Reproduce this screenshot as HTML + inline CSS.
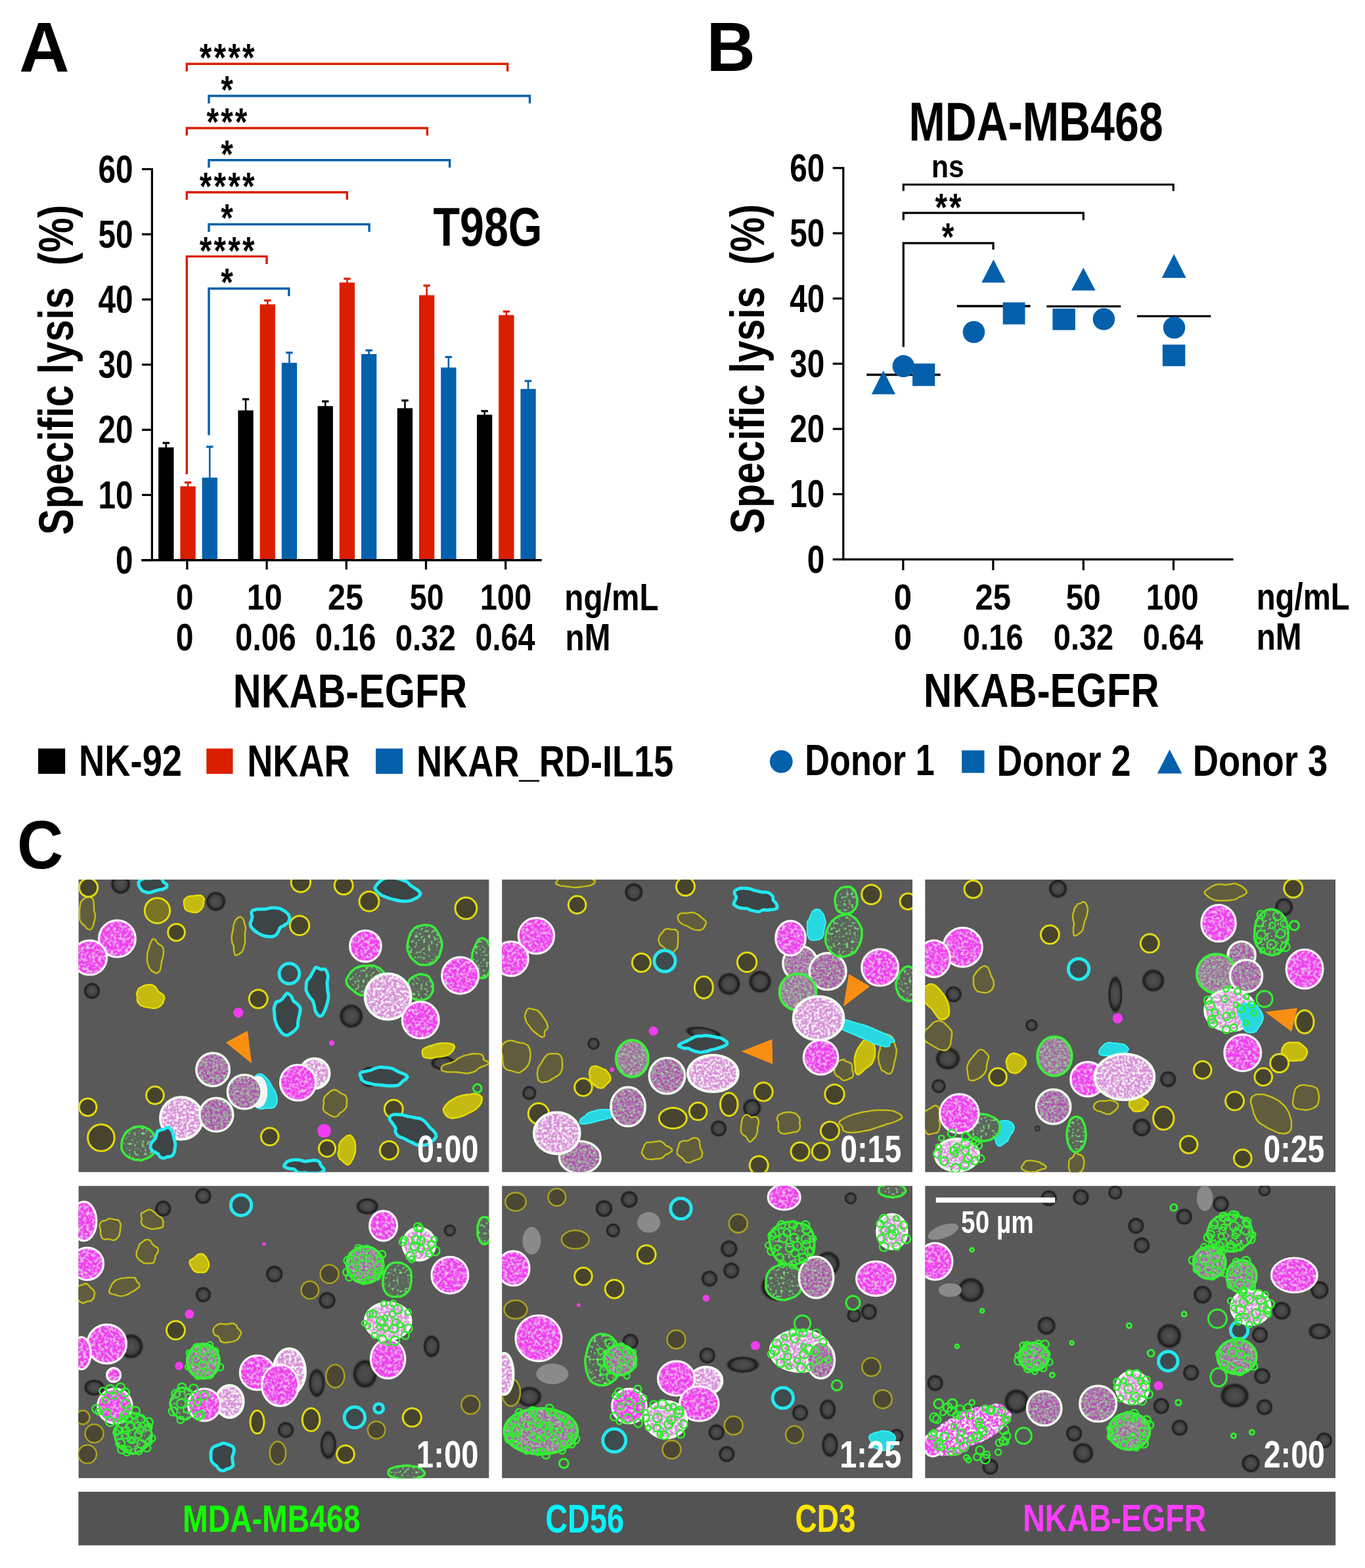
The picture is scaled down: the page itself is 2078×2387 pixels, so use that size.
<!DOCTYPE html>
<html><head><meta charset="utf-8"><title>Figure</title>
<style>
html,body{margin:0;padding:0;background:#fff;}
svg{display:block;}
text{font-family:"Liberation Sans",Arial,sans-serif;font-weight:bold;font-kerning:none;}
</style></head><body>
<svg width="2078" height="2387" viewBox="0 0 2078 2387">
<rect width="2078" height="2387" fill="#fff"/>
<defs>
<radialGradient id="gM"><stop offset="0" stop-color="#B85AB8"/><stop offset="0.55" stop-color="#D54BD5"/><stop offset="1" stop-color="#F05AF0"/></radialGradient>
<radialGradient id="gX"><stop offset="0" stop-color="#7E6C7E"/><stop offset="0.6" stop-color="#9A6E98"/><stop offset="1" stop-color="#C070C0"/></radialGradient>
<radialGradient id="gG"><stop offset="0" stop-color="#5E6A5E"/><stop offset="0.7" stop-color="#5A7A5A"/><stop offset="1" stop-color="#5AA05A"/></radialGradient>
<radialGradient id="gY"><stop offset="0" stop-color="#3E3C24"/><stop offset="0.75" stop-color="#4A4828"/><stop offset="1" stop-color="#8A8420"/></radialGradient>
<radialGradient id="gK"><stop offset="0" stop-color="#505050"/><stop offset="0.5" stop-color="#444"/><stop offset="0.78" stop-color="#1A1A1A"/><stop offset="1" stop-color="#595959" stop-opacity="0"/></radialGradient>
<filter id="noise" x="0" y="0" width="100%" height="100%"><feTurbulence type="fractalNoise" baseFrequency="0.9" numOctaves="1" seed="3"/><feColorMatrix type="matrix" values="0 0 0 0 0.33  0 0 0 0 0.33  0 0 0 0 0.33  0 0 0 0.9 -0.35"/></filter>
<filter id="fM" x="-5%" y="-5%" width="110%" height="110%"><feTurbulence type="fractalNoise" baseFrequency="0.22" numOctaves="2" seed="7" result="n"/><feColorMatrix in="n" type="matrix" values="0 0 0 0 0.80  0 0 0 0 0.55  0 0 0 0 0.80  3.0 0 0 0 -1.35" result="sp"/><feComposite in="sp" in2="SourceGraphic" operator="atop"/></filter>
<filter id="fX" x="-5%" y="-5%" width="110%" height="110%"><feTurbulence type="fractalNoise" baseFrequency="0.25" numOctaves="2" seed="11" result="n"/><feColorMatrix in="n" type="matrix" values="0 0 0 0 0.36  0 0 0 0 0.38  0 0 0 0 0.36  3.4 0 0 0 -1.35" result="sp"/><feComposite in="sp" in2="SourceGraphic" operator="atop" result="a"/><feTurbulence type="fractalNoise" baseFrequency="0.3" numOctaves="1" seed="3" result="n2"/><feColorMatrix in="n2" type="matrix" values="0 0 0 0 0.3  0 0 0 0 0.9  0 0 0 0 0.3  0 4 0 0 -2.3" result="gsp"/><feComposite in="gsp" in2="a" operator="atop"/></filter>
<filter id="fW" x="-5%" y="-5%" width="110%" height="110%"><feTurbulence type="fractalNoise" baseFrequency="0.25" numOctaves="2" seed="5" result="n"/><feColorMatrix in="n" type="matrix" values="0 0 0 0 0.96  0 0 0 0 0.94  0 0 0 0 0.96  3.5 0 0 0 -1.5" result="sp"/><feComposite in="sp" in2="SourceGraphic" operator="atop"/></filter>
<filter id="fG" x="-5%" y="-5%" width="110%" height="110%"><feTurbulence type="fractalNoise" baseFrequency="0.25" numOctaves="1" seed="9" result="n"/><feColorMatrix in="n" type="matrix" values="0 0 0 0 0.25  0 0 0 0 0.85  0 0 0 0 0.25  0 3.5 0 0 -1.9" result="sp"/><feComposite in="sp" in2="SourceGraphic" operator="atop"/></filter>
<radialGradient id="gW"><stop offset="0" stop-color="#C8B8C8"/><stop offset="0.7" stop-color="#DCC6DC"/><stop offset="1" stop-color="#E8D8E8"/></radialGradient>
<radialGradient id="gGX"><stop offset="0" stop-color="#A070A0"/><stop offset="0.6" stop-color="#8A7C8A"/><stop offset="1" stop-color="#60A060"/></radialGradient>
</defs>
<text transform="translate(29.36,108.80) scale(0.9839,1)" font-size="107.56" fill="#000">A</text>
<text transform="translate(1075.41,107.90) scale(0.9758,1)" font-size="105.53" fill="#000">B</text>
<text transform="translate(26.11,1322.08) scale(0.9302,1)" font-size="104.66" fill="#000">C</text>
<line x1="231.40" y1="256.00" x2="231.40" y2="854.20" stroke="#000" stroke-width="3.2" stroke-linecap="butt"/>
<line x1="216.00" y1="852.70" x2="231.40" y2="852.70" stroke="#000" stroke-width="3.2" stroke-linecap="butt"/>
<line x1="216.00" y1="753.50" x2="231.40" y2="753.50" stroke="#000" stroke-width="3.2" stroke-linecap="butt"/>
<line x1="216.00" y1="654.30" x2="231.40" y2="654.30" stroke="#000" stroke-width="3.2" stroke-linecap="butt"/>
<line x1="216.00" y1="555.10" x2="231.40" y2="555.10" stroke="#000" stroke-width="3.2" stroke-linecap="butt"/>
<line x1="216.00" y1="455.90" x2="231.40" y2="455.90" stroke="#000" stroke-width="3.2" stroke-linecap="butt"/>
<line x1="216.00" y1="356.70" x2="231.40" y2="356.70" stroke="#000" stroke-width="3.2" stroke-linecap="butt"/>
<line x1="216.00" y1="257.50" x2="231.40" y2="257.50" stroke="#000" stroke-width="3.2" stroke-linecap="butt"/>
<line x1="215.50" y1="852.70" x2="824.60" y2="852.70" stroke="#000" stroke-width="3.2" stroke-linecap="butt"/>
<line x1="284.90" y1="852.70" x2="284.90" y2="867.00" stroke="#000" stroke-width="3.2" stroke-linecap="butt"/>
<line x1="406.10" y1="852.70" x2="406.10" y2="867.00" stroke="#000" stroke-width="3.2" stroke-linecap="butt"/>
<line x1="527.30" y1="852.70" x2="527.30" y2="867.00" stroke="#000" stroke-width="3.2" stroke-linecap="butt"/>
<line x1="648.50" y1="852.70" x2="648.50" y2="867.00" stroke="#000" stroke-width="3.2" stroke-linecap="butt"/>
<line x1="769.70" y1="852.70" x2="769.70" y2="867.00" stroke="#000" stroke-width="3.2" stroke-linecap="butt"/>
<text transform="translate(176.00,872.87) scale(0.815,1)" font-size="58.6">0</text>
<text transform="translate(149.44,773.67) scale(0.815,1)" font-size="58.6">10</text>
<text transform="translate(149.44,674.47) scale(0.815,1)" font-size="58.6">20</text>
<text transform="translate(149.44,575.23) scale(0.815,1)" font-size="58.6">30</text>
<text transform="translate(149.44,476.07) scale(0.815,1)" font-size="58.6">40</text>
<text transform="translate(149.44,376.87) scale(0.815,1)" font-size="58.6">50</text>
<text transform="translate(149.44,277.67) scale(0.815,1)" font-size="58.6">60</text>
<g transform="translate(110.64,812.50) rotate(-90)"><text transform="translate(-1.71,0) scale(0.8040,1)" font-size="74.02" fill="#000" style="white-space:pre">Specific lysis  (%)</text></g>
<line x1="252.85" y1="682.10" x2="252.85" y2="674.30" stroke="#000" stroke-width="2.6" stroke-linecap="butt"/>
<line x1="247.65" y1="674.30" x2="258.05" y2="674.30" stroke="#000" stroke-width="3.2" stroke-linecap="butt"/>
<rect x="241.20" y="681.10" width="23.30" height="171.60" fill="#000"/>
<line x1="286.05" y1="741.30" x2="286.05" y2="734.50" stroke="#DC1E00" stroke-width="2.6" stroke-linecap="butt"/>
<line x1="280.85" y1="734.50" x2="291.25" y2="734.50" stroke="#DC1E00" stroke-width="3.2" stroke-linecap="butt"/>
<rect x="274.40" y="740.30" width="23.30" height="112.40" fill="#DC1E00"/>
<line x1="319.25" y1="728.10" x2="319.25" y2="680.10" stroke="#0560AC" stroke-width="2.6" stroke-linecap="butt"/>
<line x1="314.05" y1="680.10" x2="324.45" y2="680.10" stroke="#0560AC" stroke-width="3.2" stroke-linecap="butt"/>
<rect x="307.60" y="727.10" width="23.30" height="125.60" fill="#0560AC"/>
<line x1="374.05" y1="625.70" x2="374.05" y2="607.80" stroke="#000" stroke-width="2.6" stroke-linecap="butt"/>
<line x1="368.85" y1="607.80" x2="379.25" y2="607.80" stroke="#000" stroke-width="3.2" stroke-linecap="butt"/>
<rect x="362.40" y="624.70" width="23.30" height="228.00" fill="#000"/>
<line x1="407.25" y1="464.30" x2="407.25" y2="457.40" stroke="#DC1E00" stroke-width="2.6" stroke-linecap="butt"/>
<line x1="402.05" y1="457.40" x2="412.45" y2="457.40" stroke="#DC1E00" stroke-width="3.2" stroke-linecap="butt"/>
<rect x="395.60" y="463.30" width="23.30" height="389.40" fill="#DC1E00"/>
<line x1="440.45" y1="553.30" x2="440.45" y2="536.90" stroke="#0560AC" stroke-width="2.6" stroke-linecap="butt"/>
<line x1="435.25" y1="536.90" x2="445.65" y2="536.90" stroke="#0560AC" stroke-width="3.2" stroke-linecap="butt"/>
<rect x="428.80" y="552.30" width="23.30" height="300.40" fill="#0560AC"/>
<line x1="495.25" y1="619.20" x2="495.25" y2="611.00" stroke="#000" stroke-width="2.6" stroke-linecap="butt"/>
<line x1="490.05" y1="611.00" x2="500.45" y2="611.00" stroke="#000" stroke-width="3.2" stroke-linecap="butt"/>
<rect x="483.60" y="618.20" width="23.30" height="234.50" fill="#000"/>
<line x1="528.45" y1="431.10" x2="528.45" y2="424.30" stroke="#DC1E00" stroke-width="2.6" stroke-linecap="butt"/>
<line x1="523.25" y1="424.30" x2="533.65" y2="424.30" stroke="#DC1E00" stroke-width="3.2" stroke-linecap="butt"/>
<rect x="516.80" y="430.10" width="23.30" height="422.60" fill="#DC1E00"/>
<line x1="561.65" y1="540.00" x2="561.65" y2="533.40" stroke="#0560AC" stroke-width="2.6" stroke-linecap="butt"/>
<line x1="556.45" y1="533.40" x2="566.85" y2="533.40" stroke="#0560AC" stroke-width="3.2" stroke-linecap="butt"/>
<rect x="550.00" y="539.00" width="23.30" height="313.70" fill="#0560AC"/>
<line x1="616.45" y1="622.40" x2="616.45" y2="609.70" stroke="#000" stroke-width="2.6" stroke-linecap="butt"/>
<line x1="611.25" y1="609.70" x2="621.65" y2="609.70" stroke="#000" stroke-width="3.2" stroke-linecap="butt"/>
<rect x="604.80" y="621.40" width="23.30" height="231.30" fill="#000"/>
<line x1="649.65" y1="450.40" x2="649.65" y2="434.80" stroke="#DC1E00" stroke-width="2.6" stroke-linecap="butt"/>
<line x1="644.45" y1="434.80" x2="654.85" y2="434.80" stroke="#DC1E00" stroke-width="3.2" stroke-linecap="butt"/>
<rect x="638.00" y="449.40" width="23.30" height="403.30" fill="#DC1E00"/>
<line x1="682.85" y1="560.50" x2="682.85" y2="543.50" stroke="#0560AC" stroke-width="2.6" stroke-linecap="butt"/>
<line x1="677.65" y1="543.50" x2="688.05" y2="543.50" stroke="#0560AC" stroke-width="3.2" stroke-linecap="butt"/>
<rect x="671.20" y="559.50" width="23.30" height="293.20" fill="#0560AC"/>
<line x1="737.65" y1="632.40" x2="737.65" y2="625.80" stroke="#000" stroke-width="2.6" stroke-linecap="butt"/>
<line x1="732.45" y1="625.80" x2="742.85" y2="625.80" stroke="#000" stroke-width="3.2" stroke-linecap="butt"/>
<rect x="726.00" y="631.40" width="23.30" height="221.30" fill="#000"/>
<line x1="770.85" y1="480.60" x2="770.85" y2="474.20" stroke="#DC1E00" stroke-width="2.6" stroke-linecap="butt"/>
<line x1="765.65" y1="474.20" x2="776.05" y2="474.20" stroke="#DC1E00" stroke-width="3.2" stroke-linecap="butt"/>
<rect x="759.20" y="479.60" width="23.30" height="373.10" fill="#DC1E00"/>
<line x1="804.05" y1="593.10" x2="804.05" y2="580.00" stroke="#0560AC" stroke-width="2.6" stroke-linecap="butt"/>
<line x1="798.85" y1="580.00" x2="809.25" y2="580.00" stroke="#0560AC" stroke-width="3.2" stroke-linecap="butt"/>
<rect x="792.40" y="592.10" width="23.30" height="260.60" fill="#0560AC"/>
<line x1="215.50" y1="852.70" x2="824.60" y2="852.70" stroke="#000" stroke-width="3.2" stroke-linecap="butt"/>
<polyline points="284.30,108.70 284.30,97.20 772.70,97.20 772.70,108.70" fill="none" stroke="#DC1E00" stroke-width="3.4" stroke-linejoin="miter"/>
<polyline points="318.00,157.57 318.00,146.07 806.50,146.07 806.50,157.57" fill="none" stroke="#0560AC" stroke-width="3.4" stroke-linejoin="miter"/>
<polyline points="284.30,206.44 284.30,194.94 650.40,194.94 650.40,206.44" fill="none" stroke="#DC1E00" stroke-width="3.4" stroke-linejoin="miter"/>
<polyline points="318.00,255.31 318.00,243.81 684.60,243.81 684.60,255.31" fill="none" stroke="#0560AC" stroke-width="3.4" stroke-linejoin="miter"/>
<polyline points="284.30,304.18 284.30,292.68 528.30,292.68 528.30,304.18" fill="none" stroke="#DC1E00" stroke-width="3.4" stroke-linejoin="miter"/>
<polyline points="318.00,353.05 318.00,341.55 562.10,341.55 562.10,353.05" fill="none" stroke="#0560AC" stroke-width="3.4" stroke-linejoin="miter"/>
<polyline points="284.30,721.90 284.30,390.42 406.00,390.42 406.00,401.92" fill="none" stroke="#DC1E00" stroke-width="3.4" stroke-linejoin="miter"/>
<polyline points="318.00,662.60 318.00,439.29 439.80,439.29 439.80,450.79" fill="none" stroke="#0560AC" stroke-width="3.4" stroke-linejoin="miter"/>
<text transform="translate(303.86,108.43) scale(0.7969,1)" font-size="59.93" fill="#000">*</text>
<text transform="translate(325.56,108.43) scale(0.7969,1)" font-size="59.93" fill="#000">*</text>
<text transform="translate(347.26,108.43) scale(0.7969,1)" font-size="59.93" fill="#000">*</text>
<text transform="translate(368.96,108.43) scale(0.7969,1)" font-size="59.93" fill="#000">*</text>
<text transform="translate(336.26,157.00) scale(0.7969,1)" font-size="59.93" fill="#000">*</text>
<text transform="translate(314.46,206.17) scale(0.7969,1)" font-size="59.93" fill="#000">*</text>
<text transform="translate(336.16,206.17) scale(0.7969,1)" font-size="59.93" fill="#000">*</text>
<text transform="translate(357.86,206.17) scale(0.7969,1)" font-size="59.93" fill="#000">*</text>
<text transform="translate(336.26,254.74) scale(0.7969,1)" font-size="59.93" fill="#000">*</text>
<text transform="translate(303.86,303.91) scale(0.7969,1)" font-size="59.93" fill="#000">*</text>
<text transform="translate(325.56,303.91) scale(0.7969,1)" font-size="59.93" fill="#000">*</text>
<text transform="translate(347.26,303.91) scale(0.7969,1)" font-size="59.93" fill="#000">*</text>
<text transform="translate(368.96,303.91) scale(0.7969,1)" font-size="59.93" fill="#000">*</text>
<text transform="translate(336.26,352.48) scale(0.7969,1)" font-size="59.93" fill="#000">*</text>
<text transform="translate(303.86,401.65) scale(0.7969,1)" font-size="59.93" fill="#000">*</text>
<text transform="translate(325.56,401.65) scale(0.7969,1)" font-size="59.93" fill="#000">*</text>
<text transform="translate(347.26,401.65) scale(0.7969,1)" font-size="59.93" fill="#000">*</text>
<text transform="translate(368.96,401.65) scale(0.7969,1)" font-size="59.93" fill="#000">*</text>
<text transform="translate(336.26,450.22) scale(0.7969,1)" font-size="59.93" fill="#000">*</text>
<text transform="translate(659.45,373.59) scale(0.8031,1)" font-size="82.63" fill="#000">T98G</text>
<text transform="translate(267.80,928.45) scale(0.8566,1)" font-size="56.21" fill="#000">0</text>
<text transform="translate(375.85,928.45) scale(0.8610,1)" font-size="56.21" fill="#000">10</text>
<text transform="translate(499.12,928.45) scale(0.8625,1)" font-size="56.21" fill="#000">25</text>
<text transform="translate(623.87,928.45) scale(0.8292,1)" font-size="56.21" fill="#000">50</text>
<text transform="translate(730.63,928.45) scale(0.8392,1)" font-size="56.21" fill="#000">100</text>
<text transform="translate(267.80,989.65) scale(0.8523,1)" font-size="56.50" fill="#000">0</text>
<text transform="translate(357.92,989.65) scale(0.8431,1)" font-size="56.50" fill="#000">0.06</text>
<text transform="translate(479.82,989.65) scale(0.8431,1)" font-size="56.50" fill="#000">0.16</text>
<text transform="translate(601.63,989.57) scale(0.8400,1)" font-size="56.38" fill="#000">0.32</text>
<text transform="translate(723.55,989.65) scale(0.8285,1)" font-size="56.50" fill="#000">0.64</text>
<text transform="translate(859.35,929.00) scale(0.8383,1)" font-size="57.00" fill="#000">ng/mL</text>
<text transform="translate(860.56,989.80) scale(0.8303,1)" font-size="57.41" fill="#000">nM</text>
<text transform="translate(354.72,1076.79) scale(0.8155,1)" font-size="72.88" fill="#000">NKAB-EGFR</text>
<rect x="58.10" y="1139.50" width="41.10" height="38.50" fill="#000"/>
<rect x="314.30" y="1139.50" width="40.20" height="38.50" fill="#DC1E00"/>
<rect x="572.10" y="1139.50" width="41.00" height="38.50" fill="#0560AC"/>
<text transform="translate(120.07,1181.26) scale(0.8255,1)" font-size="65.82" fill="#000">NK-92</text>
<text transform="translate(376.18,1181.90) scale(0.8000,1)" font-size="67.73" fill="#000">NKAR</text>
<text transform="translate(634.07,1181.90) scale(0.8090,1)" font-size="67.00" fill="#000">NKAR_RD-IL15</text>
<line x1="1283.80" y1="254.30" x2="1283.80" y2="853.10" stroke="#000" stroke-width="3.2" stroke-linecap="butt"/>
<line x1="1267.70" y1="851.60" x2="1283.80" y2="851.60" stroke="#000" stroke-width="3.2" stroke-linecap="butt"/>
<line x1="1267.70" y1="752.30" x2="1283.80" y2="752.30" stroke="#000" stroke-width="3.2" stroke-linecap="butt"/>
<line x1="1267.70" y1="653.00" x2="1283.80" y2="653.00" stroke="#000" stroke-width="3.2" stroke-linecap="butt"/>
<line x1="1267.70" y1="553.70" x2="1283.80" y2="553.70" stroke="#000" stroke-width="3.2" stroke-linecap="butt"/>
<line x1="1267.70" y1="454.40" x2="1283.80" y2="454.40" stroke="#000" stroke-width="3.2" stroke-linecap="butt"/>
<line x1="1267.70" y1="355.10" x2="1283.80" y2="355.10" stroke="#000" stroke-width="3.2" stroke-linecap="butt"/>
<line x1="1267.70" y1="255.80" x2="1283.80" y2="255.80" stroke="#000" stroke-width="3.2" stroke-linecap="butt"/>
<line x1="1282.30" y1="851.60" x2="1877.60" y2="851.60" stroke="#000" stroke-width="3.2" stroke-linecap="butt"/>
<line x1="1374.90" y1="851.60" x2="1374.90" y2="868.10" stroke="#000" stroke-width="3.2" stroke-linecap="butt"/>
<line x1="1511.90" y1="851.60" x2="1511.90" y2="868.10" stroke="#000" stroke-width="3.2" stroke-linecap="butt"/>
<line x1="1649.30" y1="851.60" x2="1649.30" y2="868.10" stroke="#000" stroke-width="3.2" stroke-linecap="butt"/>
<line x1="1786.50" y1="851.60" x2="1786.50" y2="868.10" stroke="#000" stroke-width="3.2" stroke-linecap="butt"/>
<text transform="translate(1228.70,871.77) scale(0.815,1)" font-size="58.6">0</text>
<text transform="translate(1202.14,772.47) scale(0.815,1)" font-size="58.6">10</text>
<text transform="translate(1202.14,673.17) scale(0.815,1)" font-size="58.6">20</text>
<text transform="translate(1202.14,573.83) scale(0.815,1)" font-size="58.6">30</text>
<text transform="translate(1202.14,474.57) scale(0.815,1)" font-size="58.6">40</text>
<text transform="translate(1202.14,375.27) scale(0.815,1)" font-size="58.6">50</text>
<text transform="translate(1202.14,275.97) scale(0.815,1)" font-size="58.6">60</text>
<g transform="translate(1162.62,811.00) rotate(-90)"><text transform="translate(-1.71,0) scale(0.8121,1)" font-size="73.17" fill="#000" style="white-space:pre">Specific lysis  (%)</text></g>
<text transform="translate(1383.46,214.49) scale(0.8023,1)" font-size="82.77" fill="#000">MDA-MB468</text>
<polyline points="1375.30,290.70 1375.30,281.00 1786.30,281.00 1786.30,290.70" fill="none" stroke="#000" stroke-width="3.2" stroke-linejoin="miter"/>
<polyline points="1375.30,335.30 1375.30,324.20 1649.30,324.20 1649.30,335.30" fill="none" stroke="#000" stroke-width="3.2" stroke-linejoin="miter"/>
<polyline points="1375.30,528.30 1375.30,370.20 1512.10,370.20 1512.10,380.00" fill="none" stroke="#000" stroke-width="3.2" stroke-linejoin="miter"/>
<text transform="translate(1417.99,269.70) scale(0.8702,1)" font-size="49.00" fill="#000">ns</text>
<text transform="translate(1423.46,336.13) scale(0.7969,1)" font-size="59.93" fill="#000">*</text>
<text transform="translate(1445.06,336.13) scale(0.7969,1)" font-size="59.93" fill="#000">*</text>
<text transform="translate(1433.76,380.73) scale(0.7969,1)" font-size="59.93" fill="#000">*</text>
<line x1="1319.20" y1="570.50" x2="1431.70" y2="570.50" stroke="#000" stroke-width="3.4" stroke-linecap="butt"/>
<line x1="1456.80" y1="466.00" x2="1568.60" y2="466.00" stroke="#000" stroke-width="3.4" stroke-linecap="butt"/>
<line x1="1593.40" y1="466.40" x2="1706.20" y2="466.40" stroke="#000" stroke-width="3.4" stroke-linecap="butt"/>
<line x1="1731.00" y1="481.40" x2="1843.40" y2="481.40" stroke="#000" stroke-width="3.4" stroke-linecap="butt"/>
<polygon points="1344.90,564.10 1326.80,600.30 1363.00,600.30" fill="#0560AC"/>
<circle cx="1375.40" cy="557.40" r="16.80" fill="#0560AC"/>
<rect x="1389.10" y="553.40" width="34.20" height="34.20" fill="#0560AC"/>
<polygon points="1512.40,395.10 1494.30,430.20 1530.50,430.20" fill="#0560AC"/>
<circle cx="1482.50" cy="505.50" r="16.80" fill="#0560AC"/>
<rect x="1526.70" y="460.30" width="33.80" height="33.50" fill="#0560AC"/>
<polygon points="1649.30,407.50 1631.00,442.30 1667.60,442.30" fill="#0560AC"/>
<rect x="1602.40" y="469.70" width="34.50" height="32.80" fill="#0560AC"/>
<circle cx="1680.40" cy="485.80" r="16.80" fill="#0560AC"/>
<polygon points="1787.20,386.70 1768.80,422.90 1805.60,422.90" fill="#0560AC"/>
<circle cx="1787.50" cy="498.80" r="16.80" fill="#0560AC"/>
<rect x="1769.80" y="524.60" width="34.50" height="32.80" fill="#0560AC"/>
<text transform="translate(1360.75,928.06) scale(0.8978,1)" font-size="54.80" fill="#000">0</text>
<text transform="translate(1484.50,928.06) scale(0.8952,1)" font-size="54.80" fill="#000">25</text>
<text transform="translate(1622.74,928.06) scale(0.8663,1)" font-size="54.80" fill="#000">50</text>
<text transform="translate(1744.68,928.06) scale(0.8748,1)" font-size="54.80" fill="#000">100</text>
<text transform="translate(1360.75,989.06) scale(0.8864,1)" font-size="55.51" fill="#000">0</text>
<text transform="translate(1465.83,989.06) scale(0.8523,1)" font-size="55.51" fill="#000">0.16</text>
<text transform="translate(1603.74,988.98) scale(0.8491,1)" font-size="55.39" fill="#000">0.32</text>
<text transform="translate(1739.73,989.06) scale(0.8499,1)" font-size="55.51" fill="#000">0.64</text>
<text transform="translate(1912.68,928.40) scale(0.8310,1)" font-size="57.00" fill="#000">ng/mL</text>
<text transform="translate(1912.65,989.40) scale(0.8402,1)" font-size="56.83" fill="#000">nM</text>
<text transform="translate(1406.00,1076.10) scale(0.8282,1)" font-size="72.17" fill="#000">NKAB-EGFR</text>
<circle cx="1189.30" cy="1159.40" r="17.40" fill="#0560AC"/>
<rect x="1464.20" y="1142.30" width="34.30" height="34.30" fill="#0560AC"/>
<polygon points="1780.60,1141.00 1761.85,1177.40 1799.35,1177.40" fill="#0560AC"/>
<text transform="translate(1225.20,1180.15) scale(0.7881,1)" font-size="66.36" fill="#000">Donor 1</text>
<text transform="translate(1517.38,1180.65) scale(0.8176,1)" font-size="66.10" fill="#000">Donor 2</text>
<text transform="translate(1815.76,1180.56) scale(0.8251,1)" font-size="65.96" fill="#000">Donor 3</text>
<clipPath id="cp0"><rect x="119.40" y="1339.00" width="625.20" height="445.60"/></clipPath>
<g clip-path="url(#cp0)">
<rect x="119.40" y="1339.00" width="625.20" height="445.60" fill="#595959"/>
<circle cx="183.6" cy="1346.0" r="16.8" fill="url(#gK)"/>
<circle cx="328.6" cy="1372.2" r="16.8" fill="url(#gK)"/>
<circle cx="140.0" cy="1508.4" r="14.0" fill="url(#gK)"/>
<circle cx="534.7" cy="1546.9" r="20.3" fill="url(#gK)"/>
<ellipse cx="674.4" cy="1618.5" rx="21.0" ry="12.2" fill="url(#gK)"/>
<circle cx="562.7" cy="1639.4" r="17.5" fill="url(#gK)"/>
<path d="M144.4,1389.7C145,1391 145,1393 145,1395C145,1397 144,1399 144,1401C143,1403 143,1406 142,1409C141,1411 140,1414 138,1415C137,1416 135,1415 133,1414C131,1413 130,1411 129,1409C127,1408 126,1407 125,1406C124,1405 123,1404 122,1402C121,1400 121,1398 121,1396C121,1394 121,1392 121,1390C121,1388 121,1386 121,1384C122,1382 121,1380 122,1378C122,1376 123,1373 124,1372C125,1370 127,1369 128,1368C130,1367 131,1366 133,1366C135,1365 137,1365 138,1366C140,1366 141,1368 142,1370C143,1373 143,1376 143,1379C143,1381 143,1383 143,1385C143,1387 144,1388 144,1390Z" fill="#5F5D3E" stroke="#C4BC18" stroke-width="2.5" stroke-linejoin="round"/>
<path d="M372.9,1426.2C373,1429 373,1433 373,1436C372,1439 371,1444 370,1446C369,1449 367,1450 366,1451C365,1452 363,1453 362,1453C361,1454 359,1455 358,1454C357,1453 357,1450 356,1448C356,1446 356,1442 356,1441C356,1439 355,1439 354,1437C353,1435 353,1434 353,1431C352,1429 353,1426 353,1423C354,1420 354,1417 355,1414C355,1410 356,1406 357,1404C358,1401 360,1399 361,1398C362,1397 364,1396 365,1396C366,1396 368,1396 368,1397C369,1397 370,1399 371,1401C371,1402 372,1404 372,1406C373,1408 373,1409 374,1411C374,1414 374,1416 373,1419C373,1421 373,1423 373,1426Z" fill="#5F5D3E" stroke="#C4BC18" stroke-width="2.5" stroke-linejoin="round"/>
<path d="M248.1,1456.0C248,1459 247,1461 246,1463C246,1465 246,1467 245,1470C245,1472 244,1475 244,1477C243,1479 241,1480 240,1481C239,1482 237,1481 236,1481C235,1480 234,1479 232,1479C231,1478 230,1477 229,1476C228,1474 227,1473 226,1470C225,1468 225,1466 224,1464C224,1461 224,1459 224,1456C224,1454 224,1451 225,1449C225,1446 226,1445 227,1443C227,1440 228,1438 229,1436C230,1434 231,1431 232,1430C233,1429 235,1430 236,1430C237,1431 238,1434 239,1435C241,1436 241,1437 243,1438C244,1439 245,1439 247,1441C248,1442 249,1445 249,1448C249,1450 249,1454 248,1456Z" fill="#5F5D3E" stroke="#C4BC18" stroke-width="2.5" stroke-linejoin="round"/>
<path d="M250.1,1517.9C251,1520 250,1521 249,1523C249,1525 248,1527 247,1528C246,1530 244,1532 242,1533C240,1534 238,1535 235,1535C233,1535 230,1535 228,1534C226,1534 224,1534 222,1533C219,1533 217,1532 215,1531C214,1530 212,1529 211,1527C210,1526 209,1524 209,1523C209,1521 209,1519 209,1518C209,1516 208,1515 208,1513C209,1511 209,1509 210,1507C210,1506 212,1504 214,1503C216,1502 218,1501 221,1500C223,1499 226,1499 228,1499C230,1499 233,1500 235,1501C237,1502 238,1505 239,1506C240,1508 240,1509 242,1510C243,1511 245,1512 247,1513C248,1514 250,1516 250,1518Z" fill="#C4BA10" stroke="#E6DC00" stroke-width="2.5" stroke-linejoin="round"/>
<path d="M691.8,1594.8C692,1596 690,1597 690,1599C689,1600 688,1601 687,1602C685,1604 684,1605 682,1606C680,1607 678,1608 675,1608C673,1609 671,1609 668,1609C666,1609 664,1609 662,1610C660,1610 657,1611 654,1611C652,1611 649,1611 647,1610C645,1609 644,1608 644,1607C643,1606 643,1605 643,1603C643,1602 642,1601 643,1600C643,1599 644,1597 646,1596C647,1595 650,1594 652,1593C654,1592 656,1592 659,1591C661,1590 663,1590 665,1589C667,1589 670,1588 672,1588C674,1588 676,1588 679,1588C681,1588 684,1588 686,1589C688,1589 690,1590 691,1591C692,1592 692,1594 692,1595Z" fill="#C4BA10" stroke="#E6DC00" stroke-width="2.5" stroke-linejoin="round"/>
<path d="M741.9,1615.6C743,1617 745,1618 744,1619C743,1621 738,1622 736,1623C733,1624 731,1625 729,1626C726,1628 726,1630 723,1631C720,1632 715,1634 711,1634C708,1634 704,1633 701,1633C697,1632 695,1632 692,1632C688,1632 684,1632 681,1632C678,1631 675,1631 673,1630C672,1628 671,1627 672,1626C672,1624 674,1622 676,1621C679,1620 683,1619 686,1618C689,1617 690,1616 693,1615C695,1614 695,1612 698,1611C700,1610 704,1608 707,1607C711,1606 716,1605 720,1604C725,1604 730,1604 732,1605C735,1606 735,1608 736,1609C737,1611 735,1612 736,1613C737,1614 740,1615 742,1616Z" fill="#5F5D3E" stroke="#C4BC18" stroke-width="2.5" stroke-linejoin="round"/>
<path d="M733.9,1672.3C734,1674 733,1676 733,1678C732,1680 731,1682 729,1684C728,1685 726,1687 724,1689C722,1690 719,1692 717,1693C714,1694 712,1695 709,1697C706,1698 704,1699 701,1700C698,1701 694,1702 691,1702C688,1703 685,1702 683,1701C681,1700 680,1699 679,1698C677,1696 677,1695 676,1693C675,1692 675,1690 675,1688C676,1686 677,1684 678,1683C680,1681 682,1679 684,1677C686,1676 688,1674 691,1673C693,1671 696,1670 699,1669C702,1668 705,1667 707,1667C710,1666 713,1666 716,1666C719,1665 722,1665 724,1665C727,1666 730,1666 731,1668C733,1669 734,1671 734,1672Z" fill="#C4BA10" stroke="#E6DC00" stroke-width="2.5" stroke-linejoin="round"/>
<path d="M526.8,1685.9C526,1688 524,1689 523,1691C521,1692 520,1693 518,1694C516,1696 515,1698 514,1699C512,1700 510,1701 508,1700C506,1700 505,1699 503,1698C501,1697 500,1696 498,1695C497,1694 495,1694 494,1692C492,1691 492,1688 492,1686C492,1684 492,1682 493,1680C493,1678 492,1676 493,1674C493,1672 494,1669 496,1668C497,1666 499,1665 500,1664C502,1662 504,1661 505,1660C507,1659 509,1659 511,1659C513,1660 514,1661 516,1662C517,1663 519,1664 520,1665C522,1666 524,1666 525,1667C527,1669 528,1671 528,1673C528,1675 528,1677 528,1679C528,1682 528,1684 527,1686Z" fill="#5F5D3E" stroke="#C4BC18" stroke-width="2.5" stroke-linejoin="round"/>
<path d="M540.9,1750.5C541,1753 541,1755 540,1757C540,1758 539,1760 538,1762C538,1764 537,1765 536,1766C535,1768 534,1770 533,1771C531,1773 530,1774 528,1773C527,1773 526,1771 524,1770C523,1769 522,1768 521,1767C520,1766 518,1765 517,1764C516,1762 515,1760 515,1758C514,1755 515,1753 516,1751C516,1748 516,1746 516,1744C517,1742 517,1740 518,1739C519,1737 520,1736 521,1735C522,1734 523,1733 525,1732C526,1731 527,1730 528,1729C530,1729 532,1728 533,1728C534,1729 536,1730 537,1732C538,1733 539,1735 540,1737C540,1739 541,1742 541,1744C541,1746 541,1748 541,1751Z" fill="#C4BA10" stroke="#E6DC00" stroke-width="2.5" stroke-linejoin="round"/>
<circle cx="134.7" cy="1351.2" r="14.0" fill="#46442C" stroke="#E2DA10" stroke-width="3"/>
<circle cx="239.5" cy="1386.2" r="19.2" fill="#7A7424" stroke="#E2DA10" stroke-width="3"/>
<circle cx="268.5" cy="1419.3" r="12.9" fill="#46442C" stroke="#E2DA10" stroke-width="3"/>
<path d="M309.8,1375.7C310,1377 310,1378 309,1380C309,1381 308,1382 307,1383C307,1384 306,1385 304,1386C303,1387 302,1388 300,1389C299,1389 297,1389 295,1389C294,1389 292,1389 291,1388C289,1388 287,1387 286,1387C285,1386 283,1385 282,1384C281,1383 281,1381 281,1380C280,1378 280,1377 280,1376C280,1374 280,1373 280,1371C280,1370 281,1369 282,1368C283,1367 285,1366 286,1365C288,1365 289,1364 291,1364C292,1364 294,1364 295,1364C297,1364 298,1363 300,1363C302,1363 304,1363 306,1363C308,1364 309,1365 310,1367C311,1368 311,1370 310,1372C310,1373 310,1374 310,1376Z" fill="#C4BA10" stroke="#E6DC00" stroke-width="2.5" stroke-linejoin="round"/>
<circle cx="456.1" cy="1408.9" r="14.7" fill="#46442C" stroke="#E2DA10" stroke-width="3"/>
<circle cx="562.0" cy="1372.2" r="15.0" fill="#46442C" stroke="#E2DA10" stroke-width="3"/>
<circle cx="523.2" cy="1347.7" r="14.0" fill="#46442C" stroke="#E2DA10" stroke-width="3"/>
<circle cx="457.9" cy="1343.2" r="14.7" fill="#46442C" stroke="#E2DA10" stroke-width="3"/>
<circle cx="709.4" cy="1382.7" r="16.4" fill="#46442C" stroke="#E2DA10" stroke-width="3"/>
<circle cx="393.2" cy="1520.7" r="14.0" fill="#46442C" stroke="#E2DA10" stroke-width="3"/>
<circle cx="236.0" cy="1667.4" r="13.3" fill="#46442C" stroke="#E2DA10" stroke-width="3"/>
<circle cx="133.7" cy="1685.5" r="13.3" fill="#46442C" stroke="#E2DA10" stroke-width="3"/>
<circle cx="153.9" cy="1732.0" r="20.3" fill="#46442C" stroke="#E2DA10" stroke-width="3"/>
<circle cx="410.7" cy="1730.3" r="13.3" fill="#46442C" stroke="#E2DA10" stroke-width="3"/>
<circle cx="498.0" cy="1748.4" r="12.6" fill="#46442C" stroke="#E2DA10" stroke-width="3"/>
<circle cx="592.3" cy="1751.2" r="14.0" fill="#46442C" stroke="#E2DA10" stroke-width="3"/>
<circle cx="599.3" cy="1688.3" r="14.0" fill="#46442C" stroke="#E2DA10" stroke-width="3"/>
<path d="M253.7,1346.7C254,1348 255,1350 253,1351C252,1352 249,1353 247,1354C245,1354 242,1354 241,1355C239,1355 238,1356 236,1356C235,1357 233,1357 231,1358C230,1358 228,1359 225,1359C223,1358 221,1358 219,1357C217,1357 216,1355 215,1354C214,1353 214,1352 213,1351C212,1349 211,1348 211,1347C211,1345 211,1344 211,1343C212,1341 213,1340 215,1339C217,1338 219,1338 221,1337C223,1337 225,1337 227,1337C228,1337 230,1337 231,1337C233,1336 235,1335 237,1335C240,1335 242,1335 244,1336C246,1336 246,1338 247,1339C248,1341 248,1342 249,1343C250,1344 253,1345 254,1347Z" fill="#3C4446" stroke="#22E8F0" stroke-width="5" stroke-linejoin="round"/>
<path d="M433.2,1408.4C431,1410 429,1410 428,1411C426,1412 426,1413 425,1415C424,1417 424,1419 422,1421C421,1423 418,1425 414,1426C411,1426 407,1426 403,1425C399,1424 395,1422 392,1420C389,1418 386,1416 384,1413C382,1411 381,1408 381,1406C381,1404 383,1402 383,1400C384,1398 384,1397 384,1395C384,1393 382,1391 383,1389C383,1387 385,1385 388,1385C390,1384 394,1384 397,1384C400,1384 402,1384 405,1384C408,1383 411,1382 414,1382C418,1382 423,1382 426,1383C430,1385 434,1387 436,1389C439,1391 440,1394 441,1397C441,1399 440,1402 439,1404C438,1406 435,1407 433,1408Z" fill="#3C4446" stroke="#22E8F0" stroke-width="5" stroke-linejoin="round"/>
<circle cx="440.4" cy="1482.2" r="15.4" fill="#3E4A4C" stroke="#26E6EE" stroke-width="5"/>
<path d="M455.8,1545.1C455,1548 454,1551 454,1554C453,1557 454,1560 453,1563C452,1565 450,1568 448,1569C447,1571 445,1571 443,1573C441,1574 439,1576 437,1576C435,1576 433,1576 431,1574C429,1573 427,1570 426,1568C424,1566 423,1565 422,1562C421,1560 420,1557 419,1554C418,1551 418,1548 418,1545C418,1542 417,1538 417,1535C418,1532 419,1528 420,1526C422,1524 425,1525 427,1523C429,1522 430,1521 431,1519C433,1517 435,1513 437,1512C439,1512 441,1514 443,1516C445,1518 445,1522 447,1524C448,1526 451,1526 452,1528C454,1530 457,1532 457,1535C458,1538 456,1542 456,1545Z" fill="#3C4446" stroke="#22E8F0" stroke-width="5" stroke-linejoin="round"/>
<path d="M498.7,1506.7C499,1510 500,1514 500,1517C500,1521 499,1525 498,1528C497,1531 496,1534 495,1537C494,1539 492,1543 491,1545C489,1547 487,1547 485,1546C483,1545 482,1542 480,1539C479,1536 479,1532 478,1529C477,1526 477,1524 475,1522C474,1520 472,1520 471,1517C469,1514 467,1511 466,1507C466,1503 466,1497 467,1494C468,1491 471,1489 473,1486C474,1484 475,1482 476,1480C478,1477 479,1474 480,1473C482,1472 484,1474 485,1474C487,1475 488,1476 490,1476C491,1476 494,1474 495,1476C497,1477 498,1481 499,1484C500,1488 498,1493 498,1497C498,1501 498,1503 499,1507Z" fill="#3C4446" stroke="#22E8F0" stroke-width="5" stroke-linejoin="round"/>
<path d="M640.1,1361.0C640,1362 638,1364 637,1365C636,1366 634,1367 632,1368C630,1369 628,1370 625,1371C622,1372 618,1372 614,1372C610,1372 606,1371 602,1370C598,1369 594,1368 591,1367C587,1366 584,1364 581,1363C579,1361 576,1360 575,1358C573,1356 572,1355 571,1353C571,1352 571,1350 572,1349C573,1348 574,1347 575,1345C576,1344 577,1343 578,1342C580,1341 581,1339 584,1338C587,1337 590,1336 594,1336C598,1336 603,1337 608,1338C612,1339 616,1341 619,1342C622,1344 623,1346 625,1348C627,1349 629,1350 631,1352C633,1353 636,1355 637,1356C639,1358 640,1360 640,1361Z" fill="#3C4446" stroke="#22E8F0" stroke-width="5" stroke-linejoin="round"/>
<path d="M618.3,1642.5C617,1644 615,1644 614,1645C613,1646 612,1647 611,1648C610,1649 609,1651 606,1652C604,1653 599,1653 595,1653C591,1653 587,1653 582,1652C578,1652 574,1651 570,1651C566,1650 561,1649 557,1648C554,1647 552,1645 551,1644C549,1643 550,1641 550,1640C549,1639 548,1638 548,1636C548,1635 548,1634 549,1633C551,1632 555,1631 557,1631C560,1630 562,1630 565,1629C567,1628 569,1627 572,1626C575,1625 581,1624 585,1625C589,1625 595,1626 598,1627C602,1629 604,1630 607,1632C610,1633 613,1634 615,1635C617,1636 620,1638 620,1639C621,1640 619,1641 618,1642Z" fill="#3C4446" stroke="#22E8F0" stroke-width="5" stroke-linejoin="round"/>
<path d="M664.2,1729.2C664,1731 662,1733 661,1735C659,1736 657,1738 655,1739C653,1741 650,1743 647,1743C644,1744 639,1743 635,1743C632,1742 628,1739 624,1738C621,1736 618,1735 615,1733C612,1732 608,1731 606,1729C604,1727 602,1725 602,1723C601,1721 603,1719 602,1717C602,1716 600,1714 599,1712C597,1709 593,1705 593,1703C593,1700 595,1698 598,1697C601,1696 607,1697 612,1697C616,1698 620,1700 624,1700C627,1701 630,1701 634,1702C637,1702 641,1703 644,1705C647,1707 648,1709 650,1711C652,1713 653,1715 655,1717C656,1719 660,1720 661,1723C663,1725 664,1727 664,1729Z" fill="#3C4446" stroke="#22E8F0" stroke-width="5" stroke-linejoin="round"/>
<path d="M489.8,1775.7C491,1777 492,1778 493,1779C493,1780 494,1782 492,1783C491,1784 488,1785 485,1786C481,1786 477,1786 474,1786C470,1786 468,1786 465,1785C462,1785 459,1786 456,1785C454,1785 452,1784 451,1783C449,1782 450,1781 448,1780C446,1780 443,1779 440,1779C438,1778 434,1777 433,1776C432,1775 433,1773 434,1772C435,1771 436,1769 438,1768C440,1767 442,1766 446,1766C449,1765 453,1766 457,1766C460,1767 462,1768 465,1768C468,1768 470,1767 473,1767C476,1766 480,1766 483,1767C485,1767 486,1769 487,1770C488,1771 487,1772 488,1773C488,1774 489,1775 490,1776Z" fill="#3C4446" stroke="#22E8F0" stroke-width="5" stroke-linejoin="round"/>
<path d="M672.7,1438.6C673,1442 672,1445 671,1448C670,1451 669,1454 668,1457C666,1459 664,1462 662,1464C660,1466 657,1467 655,1468C652,1469 649,1469 646,1469C644,1469 641,1469 638,1468C636,1467 633,1465 631,1463C629,1462 627,1459 625,1457C624,1454 622,1451 621,1448C620,1445 620,1442 620,1439C621,1435 621,1432 622,1429C623,1426 624,1423 625,1420C627,1418 629,1415 631,1413C633,1411 636,1410 638,1410C641,1409 644,1408 646,1408C649,1408 652,1408 655,1409C657,1410 660,1411 662,1413C664,1415 666,1418 667,1421C669,1423 670,1426 671,1429C672,1432 673,1435 673,1439Z" fill="#5C665C" filter="url(#fG)"/><path d="M672.7,1438.6C673,1442 672,1445 671,1448C670,1451 669,1454 668,1457C666,1459 664,1462 662,1464C660,1466 657,1467 655,1468C652,1469 649,1469 646,1469C644,1469 641,1469 638,1468C636,1467 633,1465 631,1463C629,1462 627,1459 625,1457C624,1454 622,1451 621,1448C620,1445 620,1442 620,1439C621,1435 621,1432 622,1429C623,1426 624,1423 625,1420C627,1418 629,1415 631,1413C633,1411 636,1410 638,1410C641,1409 644,1408 646,1408C649,1408 652,1408 655,1409C657,1410 660,1411 662,1413C664,1415 666,1418 667,1421C669,1423 670,1426 671,1429C672,1432 673,1435 673,1439Z" fill="none" stroke="#38EE38" stroke-width="3.5" stroke-linejoin="round"/>
<path d="M749.6,1459.5C750,1463 749,1466 748,1468C748,1471 747,1474 746,1476C745,1479 744,1482 743,1483C742,1485 740,1487 739,1488C737,1489 735,1489 734,1489C732,1489 731,1489 729,1488C727,1488 725,1487 724,1485C723,1483 721,1480 721,1478C720,1475 719,1472 719,1469C719,1466 718,1463 718,1460C719,1457 719,1453 719,1451C720,1448 721,1446 722,1443C723,1441 724,1439 725,1436C726,1434 727,1432 729,1430C730,1429 732,1428 734,1428C736,1428 737,1429 739,1430C741,1431 742,1433 743,1435C744,1437 745,1440 746,1442C747,1445 748,1448 749,1450C749,1453 750,1457 750,1460Z" fill="#5C665C" filter="url(#fG)"/><path d="M749.6,1459.5C750,1463 749,1466 748,1468C748,1471 747,1474 746,1476C745,1479 744,1482 743,1483C742,1485 740,1487 739,1488C737,1489 735,1489 734,1489C732,1489 731,1489 729,1488C727,1488 725,1487 724,1485C723,1483 721,1480 721,1478C720,1475 719,1472 719,1469C719,1466 718,1463 718,1460C719,1457 719,1453 719,1451C720,1448 721,1446 722,1443C723,1441 724,1439 725,1436C726,1434 727,1432 729,1430C730,1429 732,1428 734,1428C736,1428 737,1429 739,1430C741,1431 742,1433 743,1435C744,1437 745,1440 746,1442C747,1445 748,1448 749,1450C749,1453 750,1457 750,1460Z" fill="none" stroke="#38EE38" stroke-width="3.5" stroke-linejoin="round"/>
<path d="M589.4,1492.7C589,1495 589,1497 588,1500C588,1502 587,1504 585,1506C584,1509 581,1511 578,1512C576,1513 572,1514 569,1514C566,1515 562,1515 559,1515C556,1515 552,1515 549,1515C546,1514 543,1512 541,1511C539,1509 537,1507 535,1506C533,1504 530,1502 529,1500C528,1498 527,1495 527,1493C527,1490 529,1488 530,1486C531,1484 533,1482 534,1480C536,1478 538,1476 541,1474C543,1473 546,1472 549,1471C552,1470 556,1470 559,1470C562,1470 566,1470 569,1470C572,1471 575,1473 578,1474C580,1476 582,1478 584,1480C586,1482 587,1484 588,1486C589,1488 589,1490 589,1493Z" fill="#5C665C" filter="url(#fG)"/><path d="M589.4,1492.7C589,1495 589,1497 588,1500C588,1502 587,1504 585,1506C584,1509 581,1511 578,1512C576,1513 572,1514 569,1514C566,1515 562,1515 559,1515C556,1515 552,1515 549,1515C546,1514 543,1512 541,1511C539,1509 537,1507 535,1506C533,1504 530,1502 529,1500C528,1498 527,1495 527,1493C527,1490 529,1488 530,1486C531,1484 533,1482 534,1480C536,1478 538,1476 541,1474C543,1473 546,1472 549,1471C552,1470 556,1470 559,1470C562,1470 566,1470 569,1470C572,1471 575,1473 578,1474C580,1476 582,1478 584,1480C586,1482 587,1484 588,1486C589,1488 589,1490 589,1493Z" fill="none" stroke="#38EE38" stroke-width="3.5" stroke-linejoin="round"/>
<path d="M659.5,1503.2C659,1505 659,1507 659,1509C658,1511 657,1513 656,1514C655,1516 654,1518 652,1519C650,1520 648,1521 646,1522C644,1522 642,1523 640,1523C637,1523 635,1522 633,1522C631,1521 629,1520 627,1519C625,1518 623,1516 622,1515C621,1513 620,1511 619,1509C619,1507 619,1505 619,1503C619,1501 620,1499 621,1498C622,1496 622,1494 623,1492C624,1491 626,1489 627,1488C629,1487 631,1486 633,1485C635,1484 637,1483 640,1483C642,1483 644,1483 646,1484C649,1484 651,1485 653,1487C654,1488 655,1490 656,1492C657,1494 658,1496 659,1498C659,1499 659,1501 659,1503Z" fill="#5C665C" filter="url(#fG)"/><path d="M659.5,1503.2C659,1505 659,1507 659,1509C658,1511 657,1513 656,1514C655,1516 654,1518 652,1519C650,1520 648,1521 646,1522C644,1522 642,1523 640,1523C637,1523 635,1522 633,1522C631,1521 629,1520 627,1519C625,1518 623,1516 622,1515C621,1513 620,1511 619,1509C619,1507 619,1505 619,1503C619,1501 620,1499 621,1498C622,1496 622,1494 623,1492C624,1491 626,1489 627,1488C629,1487 631,1486 633,1485C635,1484 637,1483 640,1483C642,1483 644,1483 646,1484C649,1484 651,1485 653,1487C654,1488 655,1490 656,1492C657,1494 658,1496 659,1498C659,1499 659,1501 659,1503Z" fill="none" stroke="#38EE38" stroke-width="3.5" stroke-linejoin="round"/>
<path d="M237.5,1740.7C238,1743 238,1746 237,1749C237,1752 235,1755 233,1757C232,1759 229,1760 227,1762C224,1763 222,1764 219,1765C217,1766 214,1767 212,1766C209,1766 206,1766 204,1765C201,1764 199,1763 196,1762C194,1760 191,1759 190,1757C188,1755 186,1752 185,1749C185,1747 185,1743 185,1741C185,1738 186,1735 187,1733C188,1730 189,1728 191,1725C192,1723 194,1722 197,1720C199,1719 201,1717 204,1716C206,1715 209,1715 212,1715C214,1714 217,1715 220,1716C222,1717 225,1718 227,1719C229,1721 231,1723 233,1725C235,1727 235,1730 236,1733C237,1735 237,1738 237,1741Z" fill="#5C665C" filter="url(#fG)"/><path d="M237.5,1740.7C238,1743 238,1746 237,1749C237,1752 235,1755 233,1757C232,1759 229,1760 227,1762C224,1763 222,1764 219,1765C217,1766 214,1767 212,1766C209,1766 206,1766 204,1765C201,1764 199,1763 196,1762C194,1760 191,1759 190,1757C188,1755 186,1752 185,1749C185,1747 185,1743 185,1741C185,1738 186,1735 187,1733C188,1730 189,1728 191,1725C192,1723 194,1722 197,1720C199,1719 201,1717 204,1716C206,1715 209,1715 212,1715C214,1714 217,1715 220,1716C222,1717 225,1718 227,1719C229,1721 231,1723 233,1725C235,1727 235,1730 236,1733C237,1735 237,1738 237,1741Z" fill="none" stroke="#38EE38" stroke-width="3.5" stroke-linejoin="round"/>
<circle cx="556.4" cy="1440.3" r="23.8" fill="#F03CF0" filter="url(#fM)"/><circle cx="556.4" cy="1440.3" r="23.8" fill="none" stroke="#FCF4FC" stroke-width="3.2"/>
<circle cx="590.6" cy="1517.2" r="34.9" fill="#D890D8" filter="url(#fW)"/><circle cx="590.6" cy="1517.2" r="34.9" fill="none" stroke="#F4FFF2" stroke-width="4"/>
<circle cx="640.2" cy="1552.8" r="27.9" fill="#F03CF0" filter="url(#fM)"/><circle cx="640.2" cy="1552.8" r="27.9" fill="none" stroke="#FCF4FC" stroke-width="3.2"/>
<circle cx="276.2" cy="1702.3" r="32.1" fill="#D890D8" filter="url(#fW)"/><circle cx="276.2" cy="1702.3" r="32.1" fill="none" stroke="#F4FFF2" stroke-width="4"/>
<circle cx="329.3" cy="1697.1" r="25.5" fill="#B24EB2" filter="url(#fX)"/><circle cx="329.3" cy="1697.1" r="25.5" fill="none" stroke="#F0FAEE" stroke-width="3.5"/>
<circle cx="324.1" cy="1628.2" r="25.2" fill="#B24EB2" filter="url(#fX)"/><circle cx="324.1" cy="1628.2" r="25.2" fill="none" stroke="#F0FAEE" stroke-width="3.5"/>
<circle cx="478.8" cy="1634.2" r="22.7" fill="#D890D8" filter="url(#fW)"/><circle cx="478.8" cy="1634.2" r="22.7" fill="none" stroke="#F4FFF2" stroke-width="4"/>
<circle cx="453.7" cy="1648.2" r="27.2" fill="#F03CF0" filter="url(#fM)"/><circle cx="453.7" cy="1648.2" r="27.2" fill="none" stroke="#FCF4FC" stroke-width="3.2"/>
<path d="M419.7,1663.9C421,1667 422,1672 422,1675C422,1679 420,1683 418,1685C416,1687 413,1687 410,1687C408,1687 406,1687 405,1687C403,1687 402,1688 400,1688C399,1688 397,1688 395,1688C394,1687 392,1687 391,1686C389,1684 387,1683 386,1681C384,1679 383,1676 382,1673C382,1671 382,1667 382,1664C382,1661 383,1658 383,1655C384,1652 384,1649 385,1646C386,1643 387,1640 389,1638C390,1636 393,1635 394,1635C396,1634 398,1635 400,1636C402,1637 403,1639 405,1640C406,1642 408,1643 409,1645C410,1646 411,1648 412,1650C413,1652 414,1653 415,1656C417,1658 419,1661 420,1664Z" fill="#28D8E0" stroke="#30F0F8" stroke-width="2" stroke-linejoin="round"/>
<ellipse cx="393.2" cy="1662.1" rx="14.0" ry="24.5" fill="#F4F4F4"/>
<circle cx="372.3" cy="1662.1" r="25.9" fill="#B24EB2" filter="url(#fX)"/><circle cx="372.3" cy="1662.1" r="25.9" fill="none" stroke="#F0FAEE" stroke-width="3.5"/>
<path d="M266.6,1740.7C267,1743 267,1745 266,1748C266,1750 266,1753 265,1755C264,1757 263,1759 261,1760C259,1761 257,1761 255,1761C253,1762 252,1762 250,1763C248,1763 246,1763 245,1762C243,1761 242,1759 241,1757C239,1756 238,1755 236,1754C234,1753 231,1751 230,1749C229,1747 229,1743 230,1741C231,1738 234,1737 235,1735C237,1733 237,1731 238,1729C238,1727 239,1724 240,1722C241,1721 243,1721 245,1720C247,1720 248,1719 250,1719C252,1718 254,1716 256,1716C258,1717 260,1719 261,1721C263,1722 263,1726 264,1728C264,1730 265,1732 265,1734C266,1736 266,1738 267,1741Z" fill="#3C4446" stroke="#22E8F0" stroke-width="5" stroke-linejoin="round"/>
<circle cx="178.4" cy="1429.1" r="27.9" fill="#F03CF0" filter="url(#fM)"/><circle cx="178.4" cy="1429.1" r="27.9" fill="none" stroke="#FCF4FC" stroke-width="3.2"/>
<circle cx="136.5" cy="1457.8" r="26.2" fill="#F03CF0" filter="url(#fM)"/><circle cx="136.5" cy="1457.8" r="26.2" fill="none" stroke="#FCF4FC" stroke-width="3.2"/>
<circle cx="700.6" cy="1485.0" r="27.9" fill="#F03CF0" filter="url(#fM)"/><circle cx="700.6" cy="1485.0" r="27.9" fill="none" stroke="#FCF4FC" stroke-width="3.2"/>
<circle cx="362.8" cy="1541.6" r="7.7" fill="#F03CF0"/>
<circle cx="493.5" cy="1721.5" r="10.5" fill="#F03CF0"/>
<circle cx="505.0" cy="1587.7" r="4.2" fill="#F03CF0"/>
<circle cx="726.8" cy="1656.9" r="6.3" fill="none" stroke="#30F030" stroke-width="3"/>
</g>
<clipPath id="cp1"><rect x="764.10" y="1339.00" width="624.90" height="445.60"/></clipPath>
<g clip-path="url(#cp1)">
<rect x="764.10" y="1339.00" width="624.90" height="445.60" fill="#595959"/>
<circle cx="964.9" cy="1358.2" r="15.7" fill="url(#gK)"/>
<circle cx="1109.8" cy="1497.9" r="19.2" fill="url(#gK)"/>
<circle cx="1157.0" cy="1494.5" r="19.2" fill="url(#gK)"/>
<circle cx="903.7" cy="1588.8" r="10.5" fill="url(#gK)"/>
<circle cx="805.9" cy="1663.9" r="12.2" fill="url(#gK)"/>
<circle cx="1094.1" cy="1718.0" r="14.0" fill="url(#gK)"/>
<circle cx="1144.8" cy="1686.6" r="15.7" fill="url(#gK)"/>
<ellipse cx="1071.4" cy="1573.1" rx="31.4" ry="10.5" transform="rotate(10.0 1071.4 1573.1)" fill="url(#gK)"/>
<path d="M1073.3,1408.9C1073,1410 1072,1411 1072,1412C1071,1413 1070,1415 1068,1415C1067,1416 1065,1416 1063,1416C1061,1416 1058,1416 1056,1415C1054,1414 1052,1413 1050,1412C1048,1411 1047,1410 1045,1409C1044,1409 1041,1408 1039,1407C1038,1406 1035,1404 1034,1403C1033,1401 1032,1400 1032,1398C1032,1397 1032,1395 1032,1394C1033,1393 1034,1392 1035,1391C1037,1390 1039,1390 1041,1390C1043,1390 1045,1390 1047,1390C1048,1390 1050,1389 1052,1389C1054,1389 1056,1389 1058,1390C1060,1391 1062,1392 1064,1393C1066,1395 1067,1396 1068,1397C1070,1398 1072,1400 1073,1401C1074,1402 1075,1404 1075,1405C1075,1407 1074,1408 1073,1409Z" fill="#5F5D3E" stroke="#C4BC18" stroke-width="2.5" stroke-linejoin="round"/>
<path d="M1032.1,1431.6C1032,1434 1032,1435 1032,1437C1032,1439 1031,1441 1031,1443C1030,1445 1029,1446 1027,1447C1026,1449 1025,1450 1024,1451C1022,1452 1020,1453 1019,1452C1018,1452 1016,1450 1015,1449C1014,1447 1013,1445 1012,1444C1012,1443 1011,1442 1009,1441C1008,1440 1006,1439 1005,1438C1004,1436 1003,1434 1003,1432C1002,1429 1003,1427 1004,1425C1005,1423 1006,1422 1008,1420C1009,1419 1010,1417 1011,1416C1012,1415 1014,1414 1015,1414C1016,1414 1018,1414 1019,1414C1020,1415 1021,1415 1023,1415C1024,1415 1026,1415 1028,1415C1029,1416 1031,1417 1032,1419C1032,1421 1032,1423 1032,1426C1033,1428 1032,1430 1032,1432Z" fill="#5F5D3E" stroke="#C4BC18" stroke-width="2.5" stroke-linejoin="round"/>
<path d="M827.4,1549.2C829,1552 831,1554 832,1556C833,1559 834,1562 834,1564C834,1566 832,1567 831,1568C830,1569 829,1570 829,1571C829,1572 829,1575 829,1577C828,1578 827,1579 825,1579C824,1579 822,1577 820,1576C818,1575 817,1574 815,1572C813,1571 812,1569 810,1568C809,1566 807,1564 806,1562C804,1560 802,1557 801,1555C800,1552 799,1549 799,1547C799,1545 800,1544 800,1542C801,1541 801,1539 802,1538C803,1537 803,1536 805,1535C806,1535 807,1535 809,1536C810,1536 812,1536 813,1537C815,1537 816,1537 818,1538C819,1539 821,1541 823,1543C825,1545 826,1547 827,1549Z" fill="#5F5D3E" stroke="#C4BC18" stroke-width="2.5" stroke-linejoin="round"/>
<path d="M1217.4,1709.3C1217,1711 1218,1712 1218,1714C1218,1716 1218,1718 1217,1719C1216,1721 1214,1722 1213,1723C1211,1723 1208,1723 1206,1724C1204,1724 1203,1725 1201,1725C1199,1725 1196,1726 1194,1726C1192,1726 1189,1725 1188,1724C1186,1723 1185,1720 1185,1719C1184,1717 1185,1715 1185,1713C1185,1712 1185,1711 1185,1709C1185,1708 1184,1706 1183,1705C1183,1703 1183,1701 1184,1699C1185,1698 1187,1696 1188,1696C1190,1695 1192,1694 1194,1694C1196,1693 1199,1693 1201,1693C1203,1693 1205,1693 1207,1694C1209,1694 1211,1695 1212,1696C1214,1697 1215,1699 1216,1700C1217,1701 1217,1703 1218,1705C1218,1706 1217,1708 1217,1709Z" fill="#5F5D3E" stroke="#C4BC18" stroke-width="2.5" stroke-linejoin="round"/>
<path d="M1371.4,1697.2C1373,1699 1374,1700 1373,1702C1372,1703 1368,1705 1364,1707C1360,1709 1355,1710 1351,1711C1346,1713 1343,1714 1339,1715C1335,1717 1330,1718 1325,1720C1320,1721 1314,1722 1309,1723C1304,1724 1298,1724 1293,1724C1289,1724 1286,1722 1284,1721C1282,1720 1283,1718 1283,1717C1282,1716 1281,1714 1281,1713C1280,1712 1277,1711 1277,1710C1277,1708 1279,1706 1281,1705C1284,1703 1288,1701 1292,1699C1296,1698 1300,1696 1305,1695C1310,1694 1315,1692 1320,1692C1325,1691 1331,1690 1335,1690C1340,1690 1345,1690 1349,1690C1353,1690 1357,1691 1359,1691C1362,1692 1364,1693 1366,1694C1368,1695 1370,1696 1371,1697Z" fill="#5F5D3E" stroke="#C4BC18" stroke-width="2.5" stroke-linejoin="round"/>
<path d="M1330.2,1613.2C1329,1616 1328,1619 1326,1621C1324,1622 1322,1623 1321,1625C1319,1626 1318,1626 1316,1628C1315,1629 1313,1632 1311,1633C1310,1635 1307,1636 1306,1636C1304,1636 1303,1633 1302,1631C1302,1630 1302,1626 1302,1624C1302,1622 1301,1620 1301,1618C1301,1616 1301,1613 1301,1611C1301,1609 1302,1606 1303,1603C1304,1601 1305,1598 1306,1596C1308,1594 1309,1591 1311,1589C1312,1587 1314,1585 1315,1584C1317,1583 1319,1582 1321,1582C1322,1582 1323,1584 1324,1585C1326,1585 1327,1586 1328,1588C1329,1589 1330,1590 1331,1591C1331,1593 1332,1595 1332,1597C1332,1599 1332,1602 1332,1605C1332,1607 1331,1611 1330,1613Z" fill="#C4BA10" stroke="#E6DC00" stroke-width="2.5" stroke-linejoin="round"/>
<path d="M1364.0,1606.8C1364,1610 1363,1612 1362,1615C1361,1618 1361,1622 1360,1625C1359,1628 1358,1632 1356,1634C1354,1635 1352,1634 1350,1634C1349,1633 1348,1632 1346,1631C1345,1630 1343,1630 1342,1629C1341,1628 1341,1625 1340,1623C1339,1622 1339,1619 1338,1617C1338,1615 1337,1613 1337,1610C1337,1608 1338,1605 1338,1602C1339,1600 1340,1597 1340,1594C1341,1591 1340,1587 1341,1584C1342,1580 1344,1576 1346,1575C1347,1573 1350,1574 1351,1575C1353,1575 1354,1576 1356,1577C1357,1578 1358,1578 1359,1580C1360,1582 1361,1584 1361,1586C1362,1588 1362,1590 1363,1592C1363,1594 1365,1596 1365,1599C1365,1601 1364,1604 1364,1607Z" fill="#5F5D3E" stroke="#C4BC18" stroke-width="2.5" stroke-linejoin="round"/>
<path d="M1297.5,1628.9C1298,1631 1299,1632 1299,1634C1299,1636 1299,1638 1298,1640C1297,1641 1294,1641 1293,1642C1292,1643 1290,1643 1289,1644C1287,1644 1286,1645 1285,1645C1283,1645 1282,1643 1281,1643C1279,1642 1279,1640 1278,1640C1277,1639 1275,1639 1274,1638C1273,1637 1271,1635 1271,1634C1270,1633 1270,1631 1270,1629C1270,1627 1270,1625 1270,1624C1271,1622 1271,1620 1272,1619C1274,1618 1275,1617 1276,1616C1277,1615 1279,1614 1280,1614C1281,1613 1283,1613 1285,1613C1286,1614 1287,1615 1288,1616C1290,1616 1291,1617 1292,1617C1293,1618 1295,1618 1296,1619C1297,1621 1297,1623 1297,1624C1298,1626 1297,1627 1297,1629Z" fill="#5F5D3E" stroke="#C4BC18" stroke-width="2.5" stroke-linejoin="round"/>
<path d="M1068.0,1751.2C1069,1753 1070,1755 1069,1757C1069,1759 1069,1761 1067,1762C1066,1764 1064,1764 1062,1765C1060,1766 1058,1766 1056,1767C1054,1768 1052,1769 1050,1770C1048,1770 1046,1770 1044,1769C1042,1768 1041,1766 1040,1764C1038,1763 1037,1762 1036,1761C1034,1760 1032,1758 1031,1757C1031,1755 1031,1753 1031,1751C1031,1749 1032,1748 1033,1746C1033,1744 1033,1742 1034,1740C1035,1739 1037,1738 1039,1737C1041,1736 1044,1737 1045,1737C1047,1737 1048,1736 1050,1735C1052,1734 1055,1732 1057,1732C1060,1732 1062,1733 1064,1735C1065,1736 1065,1739 1065,1741C1066,1743 1066,1745 1066,1747C1066,1748 1067,1750 1068,1751Z" fill="#5F5D3E" stroke="#C4BC18" stroke-width="2.5" stroke-linejoin="round"/>
<path d="M1023.3,1751.2C1023,1753 1020,1754 1018,1756C1017,1757 1014,1757 1013,1758C1011,1759 1011,1761 1009,1762C1008,1763 1006,1763 1004,1764C1002,1764 1000,1764 998,1764C996,1764 994,1765 991,1765C989,1765 986,1765 984,1764C982,1763 981,1761 980,1760C979,1759 978,1757 977,1756C977,1754 977,1753 978,1751C978,1750 979,1749 980,1747C980,1746 980,1744 981,1743C982,1742 983,1740 985,1739C987,1739 990,1739 992,1739C994,1738 996,1738 998,1738C1000,1738 1003,1737 1005,1737C1007,1738 1009,1739 1010,1740C1012,1741 1012,1743 1014,1744C1015,1745 1018,1745 1020,1747C1021,1748 1024,1750 1023,1751Z" fill="#5F5D3E" stroke="#C4BC18" stroke-width="2.5" stroke-linejoin="round"/>
<path d="M1153.4,1716.3C1153,1719 1153,1721 1153,1723C1153,1725 1152,1727 1151,1729C1151,1731 1149,1731 1148,1733C1147,1734 1146,1735 1145,1736C1144,1737 1142,1739 1141,1738C1140,1738 1139,1736 1138,1734C1137,1733 1137,1731 1135,1730C1134,1729 1133,1729 1132,1728C1130,1727 1129,1725 1128,1723C1128,1721 1128,1719 1128,1716C1128,1714 1129,1712 1129,1709C1129,1707 1130,1705 1130,1703C1131,1701 1132,1699 1134,1698C1135,1697 1136,1697 1138,1697C1139,1697 1140,1698 1141,1699C1142,1700 1143,1701 1144,1701C1145,1702 1147,1700 1148,1700C1150,1700 1152,1700 1153,1702C1154,1703 1155,1706 1155,1709C1155,1711 1154,1714 1153,1716Z" fill="#5F5D3E" stroke="#C4BC18" stroke-width="2.5" stroke-linejoin="round"/>
<path d="M905.7,1342.5C906,1343 905,1344 904,1345C903,1346 901,1347 899,1348C897,1348 894,1349 891,1349C889,1350 886,1350 884,1350C881,1351 878,1351 876,1351C873,1351 870,1351 868,1350C865,1350 863,1350 860,1349C857,1349 854,1349 852,1348C849,1347 847,1346 846,1345C846,1345 847,1343 847,1342C848,1342 848,1341 849,1340C849,1339 850,1338 852,1337C854,1336 857,1336 860,1336C863,1335 866,1335 868,1335C871,1335 873,1334 876,1334C878,1334 882,1334 884,1334C887,1334 889,1335 892,1336C894,1336 897,1337 899,1337C901,1338 903,1339 904,1340C906,1340 906,1342 906,1342Z" fill="#5F5D3E" stroke="#C4BC18" stroke-width="2.5" stroke-linejoin="round"/>
<path d="M807.4,1608.0C807,1611 807,1614 806,1617C805,1619 804,1622 802,1624C801,1626 799,1627 797,1629C795,1630 793,1632 791,1633C789,1633 787,1633 785,1632C783,1632 781,1631 779,1630C777,1630 775,1630 773,1629C771,1628 768,1626 767,1624C766,1622 766,1619 765,1616C765,1613 765,1611 765,1608C764,1605 763,1602 763,1599C763,1596 764,1593 765,1590C767,1588 769,1586 772,1585C774,1584 777,1584 779,1584C781,1584 783,1585 785,1586C787,1586 788,1587 790,1587C792,1588 794,1587 797,1588C799,1589 801,1590 803,1591C805,1593 806,1596 807,1599C807,1602 808,1605 807,1608Z" fill="#5F5D3E" stroke="#C4BC18" stroke-width="2.5" stroke-linejoin="round"/>
<path d="M854.4,1631.7C853,1634 851,1636 850,1637C848,1638 846,1639 845,1640C843,1641 842,1642 840,1643C839,1644 837,1645 835,1646C833,1647 831,1647 829,1647C827,1648 825,1648 823,1647C821,1646 819,1644 819,1642C818,1640 818,1636 818,1634C818,1631 819,1629 819,1626C820,1624 821,1622 823,1620C824,1618 825,1617 826,1615C827,1613 828,1611 829,1610C831,1608 832,1606 834,1605C836,1604 838,1604 840,1604C841,1604 843,1604 845,1604C847,1604 850,1604 851,1605C853,1606 854,1608 855,1610C856,1612 856,1615 856,1618C856,1620 856,1622 856,1625C856,1627 855,1630 854,1632Z" fill="#5F5D3E" stroke="#C4BC18" stroke-width="2.5" stroke-linejoin="round"/>
<circle cx="1043.5" cy="1349.5" r="14.0" fill="#46442C" stroke="#E2DA10" stroke-width="3"/>
<circle cx="878.6" cy="1377.4" r="13.3" fill="#46442C" stroke="#E2DA10" stroke-width="3"/>
<circle cx="976.4" cy="1465.5" r="14.0" fill="#46442C" stroke="#E2DA10" stroke-width="3"/>
<circle cx="1137.1" cy="1464.8" r="14.7" fill="#46442C" stroke="#E2DA10" stroke-width="3"/>
<ellipse cx="1071.4" cy="1503.2" rx="14.0" ry="16.8" fill="#46442C" stroke="#E2DA10" stroke-width="3"/>
<circle cx="1326.4" cy="1361.7" r="14.7" fill="#46442C" stroke="#E2DA10" stroke-width="3"/>
<circle cx="1382.3" cy="1372.2" r="12.2" fill="#46442C" stroke="#E2DA10" stroke-width="3"/>
<circle cx="1270.5" cy="1665.6" r="14.7" fill="#46442C" stroke="#E2DA10" stroke-width="3"/>
<circle cx="1162.2" cy="1662.1" r="14.0" fill="#46442C" stroke="#E2DA10" stroke-width="3"/>
<circle cx="1155.3" cy="1773.9" r="14.0" fill="#46442C" stroke="#E2DA10" stroke-width="3"/>
<circle cx="1218.1" cy="1753.0" r="14.0" fill="#46442C" stroke="#E2DA10" stroke-width="3"/>
<circle cx="1249.6" cy="1753.0" r="13.3" fill="#46442C" stroke="#E2DA10" stroke-width="3"/>
<circle cx="1263.5" cy="1721.5" r="14.0" fill="#46442C" stroke="#E2DA10" stroke-width="3"/>
<circle cx="819.9" cy="1695.3" r="15.7" fill="#46442C" stroke="#E2DA10" stroke-width="3"/>
<circle cx="888.0" cy="1655.1" r="13.3" fill="#46442C" stroke="#E2DA10" stroke-width="3"/>
<ellipse cx="1024.3" cy="1702.3" rx="21.0" ry="15.7" fill="#46442C" stroke="#E2DA10" stroke-width="3"/>
<circle cx="1062.7" cy="1691.8" r="13.3" fill="#46442C" stroke="#E2DA10" stroke-width="3"/>
<ellipse cx="1109.8" cy="1681.3" rx="13.3" ry="17.5" fill="#46442C" stroke="#E2DA10" stroke-width="3"/>
<path d="M929.3,1639.4C930,1641 929,1643 929,1645C928,1646 927,1648 925,1649C924,1650 923,1651 922,1652C921,1653 919,1655 918,1656C916,1656 914,1657 912,1656C911,1656 909,1655 908,1654C906,1653 905,1652 904,1651C903,1650 902,1649 901,1648C900,1647 899,1645 898,1644C898,1643 898,1641 898,1639C898,1638 897,1636 897,1635C897,1633 897,1631 898,1629C898,1627 900,1625 901,1624C903,1623 905,1623 907,1623C909,1623 911,1624 912,1625C914,1625 915,1626 917,1627C918,1627 919,1628 921,1628C922,1629 923,1630 924,1631C925,1632 926,1633 927,1635C928,1636 929,1638 929,1639Z" fill="#C4BA10" stroke="#E6DC00" stroke-width="2.5" stroke-linejoin="round"/>
<circle cx="1012.0" cy="1463.0" r="16.1" fill="#3E4A4C" stroke="#26E6EE" stroke-width="5"/>
<path d="M1181.8,1376.3C1183,1378 1184,1382 1182,1383C1181,1384 1175,1385 1172,1385C1168,1386 1165,1385 1162,1385C1159,1386 1157,1388 1155,1388C1152,1388 1148,1387 1145,1386C1143,1386 1140,1384 1137,1383C1134,1383 1130,1383 1126,1382C1123,1381 1119,1379 1117,1377C1116,1375 1119,1372 1119,1371C1120,1369 1121,1367 1121,1366C1120,1364 1118,1361 1118,1359C1118,1357 1119,1355 1122,1354C1124,1353 1128,1352 1131,1352C1135,1352 1139,1353 1142,1353C1145,1354 1148,1356 1151,1356C1154,1357 1156,1357 1159,1358C1162,1358 1167,1358 1170,1359C1173,1360 1175,1363 1176,1364C1178,1366 1176,1368 1177,1370C1178,1372 1181,1374 1182,1376Z" fill="#3C4446" stroke="#22E8F0" stroke-width="5" stroke-linejoin="round"/>
<path d="M1355.6,1587.3C1355,1588 1355,1589 1354,1590C1354,1590 1355,1592 1353,1593C1352,1593 1350,1594 1346,1593C1342,1592 1334,1590 1329,1588C1323,1585 1318,1582 1312,1580C1307,1578 1303,1576 1298,1574C1293,1572 1286,1569 1282,1567C1279,1565 1277,1563 1276,1561C1274,1559 1276,1559 1275,1557C1273,1556 1269,1553 1267,1552C1266,1550 1263,1547 1265,1547C1267,1547 1274,1549 1278,1550C1283,1551 1289,1553 1293,1554C1298,1556 1301,1556 1305,1558C1310,1559 1315,1560 1320,1562C1325,1564 1330,1566 1336,1569C1341,1571 1348,1574 1352,1576C1356,1579 1360,1581 1361,1583C1363,1585 1361,1585 1360,1586C1359,1587 1357,1587 1356,1587Z" fill="#28D8E0" stroke="#30F0F8" stroke-width="2" stroke-linejoin="round"/>
<path d="M1106.1,1585.7C1107,1587 1107,1588 1107,1589C1106,1591 1103,1592 1101,1593C1099,1594 1095,1595 1092,1596C1089,1597 1086,1598 1083,1598C1080,1599 1076,1601 1072,1601C1069,1602 1064,1602 1061,1601C1058,1601 1056,1599 1054,1599C1051,1598 1051,1597 1048,1596C1046,1596 1041,1596 1039,1595C1036,1594 1033,1593 1033,1592C1033,1591 1036,1589 1038,1588C1040,1587 1043,1586 1045,1585C1047,1584 1048,1583 1051,1582C1053,1581 1055,1579 1059,1578C1062,1577 1067,1577 1070,1577C1074,1576 1078,1577 1081,1577C1085,1578 1087,1578 1090,1579C1093,1579 1095,1580 1097,1580C1099,1581 1101,1582 1102,1583C1104,1584 1105,1585 1106,1586Z" fill="#3C4446" stroke="#22E8F0" stroke-width="5" stroke-linejoin="round"/>
<path d="M941.4,1693.4C941,1694 938,1695 936,1696C935,1697 934,1698 932,1699C931,1700 931,1701 929,1702C927,1702 924,1703 921,1704C918,1705 915,1705 912,1706C909,1707 905,1708 901,1709C897,1710 891,1711 888,1711C885,1711 883,1710 883,1709C882,1708 883,1707 883,1706C883,1705 883,1704 884,1704C884,1703 886,1702 887,1701C888,1700 890,1700 891,1699C892,1698 892,1697 893,1696C894,1695 896,1694 899,1693C901,1692 906,1691 909,1690C913,1689 917,1689 920,1689C923,1689 926,1689 929,1689C931,1689 933,1689 935,1690C937,1690 940,1690 941,1691C942,1692 942,1692 941,1693Z" fill="#28D8E0" stroke="#30F0F8" stroke-width="2" stroke-linejoin="round"/>
<path d="M1256.3,1408.9C1256,1411 1255,1412 1255,1414C1254,1416 1254,1418 1254,1420C1254,1422 1253,1425 1252,1427C1251,1428 1249,1429 1248,1430C1246,1431 1244,1430 1243,1431C1241,1431 1239,1432 1237,1431C1235,1431 1233,1431 1232,1429C1230,1427 1230,1424 1229,1422C1229,1419 1229,1417 1229,1415C1229,1413 1229,1411 1229,1409C1229,1407 1229,1405 1229,1403C1230,1401 1231,1400 1232,1399C1233,1397 1233,1395 1234,1393C1235,1392 1236,1389 1237,1387C1239,1386 1241,1384 1243,1384C1244,1384 1247,1384 1248,1385C1250,1387 1251,1389 1253,1391C1254,1392 1255,1395 1255,1397C1256,1399 1257,1401 1257,1403C1257,1405 1257,1407 1256,1409Z" fill="#28D8E0" stroke="#30F0F8" stroke-width="2" stroke-linejoin="round"/>
<path d="M1399.5,1497.9C1399,1501 1399,1503 1399,1506C1398,1508 1397,1511 1396,1513C1395,1516 1394,1518 1393,1520C1391,1521 1390,1523 1388,1523C1386,1524 1384,1524 1382,1524C1381,1523 1379,1523 1377,1522C1375,1521 1374,1520 1372,1519C1371,1517 1369,1516 1368,1514C1367,1511 1366,1509 1365,1506C1364,1504 1364,1501 1364,1498C1364,1495 1365,1492 1366,1490C1366,1487 1368,1485 1369,1483C1370,1481 1371,1479 1372,1478C1374,1476 1375,1474 1377,1473C1379,1472 1381,1471 1382,1471C1384,1471 1386,1472 1388,1473C1389,1474 1391,1475 1393,1477C1394,1478 1396,1480 1397,1482C1398,1484 1399,1487 1399,1490C1400,1492 1400,1495 1399,1498Z" fill="#5C665C" filter="url(#fG)"/><path d="M1399.5,1497.9C1399,1501 1399,1503 1399,1506C1398,1508 1397,1511 1396,1513C1395,1516 1394,1518 1393,1520C1391,1521 1390,1523 1388,1523C1386,1524 1384,1524 1382,1524C1381,1523 1379,1523 1377,1522C1375,1521 1374,1520 1372,1519C1371,1517 1369,1516 1368,1514C1367,1511 1366,1509 1365,1506C1364,1504 1364,1501 1364,1498C1364,1495 1365,1492 1366,1490C1366,1487 1368,1485 1369,1483C1370,1481 1371,1479 1372,1478C1374,1476 1375,1474 1377,1473C1379,1472 1381,1471 1382,1471C1384,1471 1386,1472 1388,1473C1389,1474 1391,1475 1393,1477C1394,1478 1396,1480 1397,1482C1398,1484 1399,1487 1399,1490C1400,1492 1400,1495 1399,1498Z" fill="none" stroke="#38EE38" stroke-width="3.5" stroke-linejoin="round"/>
<path d="M1305.4,1370.4C1305,1373 1305,1375 1305,1377C1304,1379 1303,1381 1302,1383C1301,1384 1300,1386 1298,1387C1297,1389 1295,1390 1293,1390C1292,1391 1290,1391 1288,1391C1286,1391 1284,1391 1283,1390C1281,1390 1279,1389 1277,1388C1276,1387 1274,1385 1273,1383C1273,1381 1272,1379 1272,1377C1271,1375 1271,1373 1271,1370C1271,1368 1271,1366 1272,1364C1272,1362 1273,1360 1274,1358C1275,1356 1276,1355 1278,1354C1279,1352 1281,1351 1283,1351C1284,1350 1286,1350 1288,1350C1290,1350 1292,1350 1294,1350C1295,1351 1297,1352 1299,1353C1300,1354 1301,1356 1302,1358C1303,1360 1304,1362 1304,1364C1305,1366 1305,1368 1305,1370Z" fill="#5C665C" filter="url(#fG)"/><path d="M1305.4,1370.4C1305,1373 1305,1375 1305,1377C1304,1379 1303,1381 1302,1383C1301,1384 1300,1386 1298,1387C1297,1389 1295,1390 1293,1390C1292,1391 1290,1391 1288,1391C1286,1391 1284,1391 1283,1390C1281,1390 1279,1389 1277,1388C1276,1387 1274,1385 1273,1383C1273,1381 1272,1379 1272,1377C1271,1375 1271,1373 1271,1370C1271,1368 1271,1366 1272,1364C1272,1362 1273,1360 1274,1358C1275,1356 1276,1355 1278,1354C1279,1352 1281,1351 1283,1351C1284,1350 1286,1350 1288,1350C1290,1350 1292,1350 1294,1350C1295,1351 1297,1352 1299,1353C1300,1354 1301,1356 1302,1358C1303,1360 1304,1362 1304,1364C1305,1366 1305,1368 1305,1370Z" fill="none" stroke="#38EE38" stroke-width="3.5" stroke-linejoin="round"/>
<circle cx="1218.1" cy="1466.5" r="26.2" fill="#B24EB2" filter="url(#fX)"/><circle cx="1218.1" cy="1466.5" r="26.2" fill="none" stroke="#F0FAEE" stroke-width="3.5"/>
<circle cx="1260.1" cy="1478.7" r="27.9" fill="#B24EB2" filter="url(#fX)"/><circle cx="1260.1" cy="1478.7" r="27.9" fill="none" stroke="#F0FAEE" stroke-width="3.5"/>
<circle cx="1214.6" cy="1510.2" r="27.9" fill="#A068A0" filter="url(#fX)"/><circle cx="1214.6" cy="1510.2" r="27.9" fill="none" stroke="#3CF03C" stroke-width="4"/>
<ellipse cx="1203.5" cy="1428.1" rx="22.7" ry="26.2" fill="#F03CF0" filter="url(#fM)"/><ellipse cx="1203.5" cy="1428.1" rx="22.7" ry="26.2" fill="none" stroke="#FCF4FC" stroke-width="3.2"/>
<path d="M1312.1,1424.6C1312,1428 1311,1431 1310,1434C1309,1437 1308,1440 1306,1442C1305,1445 1303,1448 1301,1450C1298,1451 1296,1453 1293,1454C1290,1455 1287,1456 1285,1456C1282,1456 1278,1457 1275,1456C1273,1455 1270,1453 1267,1451C1265,1449 1263,1446 1261,1444C1260,1441 1258,1438 1257,1435C1257,1431 1256,1428 1257,1425C1257,1421 1258,1418 1259,1415C1260,1412 1262,1410 1263,1407C1265,1405 1266,1402 1269,1400C1271,1398 1273,1397 1276,1395C1279,1394 1282,1393 1285,1393C1287,1392 1291,1392 1294,1393C1296,1394 1299,1396 1302,1398C1304,1400 1306,1403 1308,1406C1309,1408 1311,1411 1312,1415C1312,1418 1312,1421 1312,1425Z" fill="#5C665C" filter="url(#fG)"/><path d="M1312.1,1424.6C1312,1428 1311,1431 1310,1434C1309,1437 1308,1440 1306,1442C1305,1445 1303,1448 1301,1450C1298,1451 1296,1453 1293,1454C1290,1455 1287,1456 1285,1456C1282,1456 1278,1457 1275,1456C1273,1455 1270,1453 1267,1451C1265,1449 1263,1446 1261,1444C1260,1441 1258,1438 1257,1435C1257,1431 1256,1428 1257,1425C1257,1421 1258,1418 1259,1415C1260,1412 1262,1410 1263,1407C1265,1405 1266,1402 1269,1400C1271,1398 1273,1397 1276,1395C1279,1394 1282,1393 1285,1393C1287,1392 1291,1392 1294,1393C1296,1394 1299,1396 1302,1398C1304,1400 1306,1403 1308,1406C1309,1408 1311,1411 1312,1415C1312,1418 1312,1421 1312,1425Z" fill="none" stroke="#38EE38" stroke-width="3.5" stroke-linejoin="round"/>
<ellipse cx="1246.1" cy="1550.3" rx="38.4" ry="33.2" fill="#D890D8" filter="url(#fW)"/><ellipse cx="1246.1" cy="1550.3" rx="38.4" ry="33.2" fill="none" stroke="#F4FFF2" stroke-width="4"/>
<circle cx="1249.6" cy="1609.7" r="26.2" fill="#F03CF0" filter="url(#fM)"/><circle cx="1249.6" cy="1609.7" r="26.2" fill="none" stroke="#FCF4FC" stroke-width="3.2"/>
<ellipse cx="882.8" cy="1761.7" rx="31.4" ry="24.5" fill="#B24EB2" filter="url(#fX)"/><ellipse cx="882.8" cy="1761.7" rx="31.4" ry="24.5" fill="none" stroke="#F0FAEE" stroke-width="3.5"/>
<ellipse cx="847.8" cy="1725.0" rx="34.9" ry="31.4" fill="#D890D8" filter="url(#fW)"/><ellipse cx="847.8" cy="1725.0" rx="34.9" ry="31.4" fill="none" stroke="#F4FFF2" stroke-width="4"/>
<ellipse cx="956.1" cy="1684.8" rx="26.2" ry="29.7" fill="#B24EB2" filter="url(#fX)"/><ellipse cx="956.1" cy="1684.8" rx="26.2" ry="29.7" fill="none" stroke="#F0FAEE" stroke-width="3.5"/>
<ellipse cx="962.4" cy="1611.5" rx="24.5" ry="27.9" fill="#A068A0" filter="url(#fX)"/><ellipse cx="962.4" cy="1611.5" rx="24.5" ry="27.9" fill="none" stroke="#3CF03C" stroke-width="4"/>
<circle cx="1015.5" cy="1637.7" r="27.2" fill="#B24EB2" filter="url(#fX)"/><circle cx="1015.5" cy="1637.7" r="27.2" fill="none" stroke="#F0FAEE" stroke-width="3.5"/>
<ellipse cx="1085.4" cy="1634.2" rx="38.4" ry="27.9" fill="#D890D8" filter="url(#fW)"/><ellipse cx="1085.4" cy="1634.2" rx="38.4" ry="27.9" fill="none" stroke="#F4FFF2" stroke-width="4"/>
<circle cx="816.4" cy="1424.6" r="27.2" fill="#F03CF0" filter="url(#fM)"/><circle cx="816.4" cy="1424.6" r="27.2" fill="none" stroke="#FCF4FC" stroke-width="3.2"/>
<circle cx="778.0" cy="1459.5" r="26.2" fill="#F03CF0" filter="url(#fM)"/><circle cx="778.0" cy="1459.5" r="26.2" fill="none" stroke="#FCF4FC" stroke-width="3.2"/>
<circle cx="1339.7" cy="1472.8" r="27.9" fill="#F03CF0" filter="url(#fM)"/><circle cx="1339.7" cy="1472.8" r="27.9" fill="none" stroke="#FCF4FC" stroke-width="3.2"/>
<circle cx="994.6" cy="1569.6" r="7.0" fill="#F03CF0"/>
<circle cx="931.7" cy="1628.2" r="3.5" fill="#F03CF0"/>
</g>
<clipPath id="cp2"><rect x="1408.20" y="1339.00" width="624.90" height="445.60"/></clipPath>
<g clip-path="url(#cp2)">
<rect x="1408.20" y="1339.00" width="624.90" height="445.60" fill="#595959"/>
<circle cx="1610.6" cy="1353.0" r="15.7" fill="url(#gK)"/>
<circle cx="1451.7" cy="1513.7" r="14.0" fill="url(#gK)"/>
<circle cx="1755.6" cy="1492.7" r="19.2" fill="url(#gK)"/>
<circle cx="1570.4" cy="1560.8" r="10.5" fill="url(#gK)"/>
<circle cx="1429.0" cy="1653.4" r="12.2" fill="url(#gK)"/>
<circle cx="1738.1" cy="1716.3" r="15.7" fill="url(#gK)"/>
<circle cx="1778.3" cy="1642.9" r="14.0" fill="url(#gK)"/>
<circle cx="1954.7" cy="1380.9" r="15.7" fill="url(#gK)"/>
<ellipse cx="1697.9" cy="1513.7" rx="12.2" ry="31.4" fill="url(#gK)"/>
<circle cx="1579.2" cy="1718.0" r="5.2" fill="url(#gK)"/>
<ellipse cx="1442.9" cy="1611.5" rx="21.0" ry="19.2" fill="url(#gK)"/>
<path d="M1652.9,1398.2C1652,1401 1651,1402 1651,1404C1650,1407 1650,1409 1649,1412C1649,1414 1648,1416 1647,1418C1645,1419 1644,1420 1643,1421C1642,1422 1640,1423 1639,1424C1638,1424 1636,1425 1635,1424C1634,1422 1634,1418 1634,1415C1634,1412 1635,1409 1635,1407C1635,1404 1635,1403 1634,1402C1634,1400 1633,1397 1633,1395C1633,1392 1634,1389 1635,1387C1635,1384 1636,1382 1638,1380C1639,1378 1640,1377 1641,1376C1642,1376 1643,1376 1645,1375C1646,1375 1647,1374 1648,1373C1649,1373 1650,1373 1651,1373C1652,1374 1653,1375 1654,1377C1655,1378 1655,1381 1656,1383C1656,1385 1656,1388 1655,1391C1655,1393 1654,1396 1653,1398Z" fill="#5F5D3E" stroke="#C4BC18" stroke-width="2.5" stroke-linejoin="round"/>
<path d="M1512.3,1492.7C1513,1495 1513,1497 1513,1499C1512,1501 1512,1503 1511,1505C1510,1507 1508,1508 1507,1509C1505,1510 1504,1511 1502,1511C1500,1512 1499,1511 1497,1511C1495,1511 1494,1511 1492,1510C1491,1510 1489,1510 1488,1509C1486,1508 1485,1506 1484,1504C1483,1503 1483,1500 1482,1499C1482,1497 1482,1495 1482,1493C1482,1491 1482,1489 1482,1487C1483,1485 1484,1483 1485,1482C1486,1480 1487,1479 1488,1478C1490,1477 1491,1475 1492,1474C1494,1473 1495,1471 1497,1471C1499,1470 1501,1471 1503,1472C1504,1473 1505,1475 1506,1477C1507,1479 1507,1481 1508,1483C1508,1485 1509,1486 1510,1488C1511,1489 1512,1491 1512,1493Z" fill="#5F5D3E" stroke="#C4BC18" stroke-width="2.5" stroke-linejoin="round"/>
<path d="M1990.2,1601.0C1990,1603 1990,1605 1989,1606C1988,1608 1987,1610 1986,1611C1985,1612 1983,1614 1981,1614C1979,1615 1977,1614 1975,1614C1974,1615 1972,1615 1970,1615C1969,1615 1967,1615 1965,1615C1964,1615 1962,1614 1961,1613C1959,1612 1958,1611 1957,1610C1955,1609 1954,1608 1953,1606C1952,1605 1951,1603 1951,1601C1951,1599 1952,1597 1952,1596C1953,1594 1954,1592 1955,1591C1956,1590 1958,1588 1960,1588C1961,1587 1964,1587 1965,1587C1967,1587 1969,1587 1970,1587C1972,1587 1974,1587 1976,1587C1977,1587 1979,1588 1980,1589C1981,1590 1982,1591 1984,1592C1985,1594 1987,1594 1988,1596C1989,1597 1990,1599 1990,1601Z" fill="#C4BA10" stroke="#E6DC00" stroke-width="2.5" stroke-linejoin="round"/>
<path d="M2007.6,1670.9C2008,1673 2008,1676 2007,1678C2007,1680 2006,1682 2004,1684C2003,1685 2001,1686 1999,1687C1997,1688 1995,1689 1993,1689C1991,1689 1990,1690 1988,1690C1986,1690 1984,1689 1982,1689C1981,1689 1978,1689 1976,1688C1974,1688 1972,1687 1970,1685C1969,1683 1968,1680 1968,1678C1968,1676 1969,1673 1969,1671C1969,1669 1970,1667 1970,1665C1971,1662 1971,1660 1972,1658C1973,1656 1975,1655 1976,1654C1978,1652 1980,1652 1982,1652C1984,1651 1986,1652 1988,1652C1990,1652 1991,1653 1993,1653C1995,1653 1997,1653 1999,1654C2001,1655 2003,1656 2005,1657C2006,1659 2007,1662 2007,1664C2008,1666 2008,1669 2008,1671Z" fill="#5F5D3E" stroke="#C4BC18" stroke-width="2.5" stroke-linejoin="round"/>
<path d="M1966.1,1713.0C1966,1715 1966,1718 1965,1720C1964,1722 1962,1724 1959,1725C1956,1726 1952,1726 1948,1725C1944,1724 1940,1722 1936,1720C1932,1718 1928,1717 1925,1714C1921,1712 1917,1710 1915,1707C1912,1704 1911,1701 1910,1698C1908,1696 1908,1694 1908,1691C1907,1689 1906,1687 1906,1684C1905,1682 1904,1679 1904,1677C1904,1675 1904,1672 1906,1670C1907,1669 1910,1667 1912,1666C1915,1666 1919,1666 1923,1666C1927,1667 1931,1668 1935,1670C1939,1671 1943,1674 1947,1676C1950,1679 1953,1681 1956,1684C1958,1687 1960,1690 1961,1692C1963,1695 1963,1697 1964,1700C1965,1702 1965,1704 1966,1706C1966,1709 1966,1711 1966,1713Z" fill="#5F5D3E" stroke="#C4BC18" stroke-width="2.5" stroke-linejoin="round"/>
<path d="M1898.0,1358.2C1898,1360 1895,1361 1893,1363C1891,1364 1888,1365 1886,1366C1884,1367 1883,1368 1881,1369C1879,1370 1876,1370 1874,1370C1871,1371 1868,1371 1866,1371C1863,1371 1860,1371 1857,1371C1854,1371 1851,1371 1848,1370C1846,1369 1844,1368 1842,1367C1840,1366 1838,1364 1837,1363C1835,1362 1834,1360 1834,1358C1834,1357 1836,1355 1838,1354C1840,1352 1842,1351 1844,1350C1846,1349 1847,1348 1850,1347C1852,1347 1855,1346 1858,1346C1861,1346 1863,1347 1866,1347C1868,1347 1871,1346 1874,1346C1877,1345 1881,1345 1883,1346C1886,1347 1888,1348 1890,1349C1892,1351 1894,1352 1895,1353C1897,1355 1898,1357 1898,1358Z" fill="#5F5D3E" stroke="#C4BC18" stroke-width="2.5" stroke-linejoin="round"/>
<path d="M1448.8,1576.5C1449,1579 1448,1580 1448,1583C1447,1585 1448,1587 1447,1590C1446,1592 1445,1595 1443,1597C1442,1598 1439,1599 1436,1599C1434,1599 1431,1598 1429,1597C1427,1596 1425,1595 1423,1594C1422,1593 1420,1592 1418,1591C1417,1590 1415,1589 1413,1588C1411,1587 1409,1585 1408,1583C1407,1581 1405,1579 1405,1577C1406,1574 1407,1572 1408,1570C1409,1568 1411,1566 1413,1565C1414,1563 1416,1562 1417,1561C1419,1559 1420,1557 1422,1556C1424,1555 1427,1554 1429,1554C1431,1554 1434,1555 1436,1556C1438,1557 1439,1559 1441,1561C1442,1562 1444,1563 1445,1565C1446,1566 1448,1568 1449,1570C1449,1572 1449,1574 1449,1577Z" fill="#5F5D3E" stroke="#C4BC18" stroke-width="2.5" stroke-linejoin="round"/>
<path d="M1501.0,1629.2C1500,1632 1499,1635 1497,1636C1495,1638 1493,1640 1491,1641C1489,1642 1487,1643 1485,1644C1484,1645 1482,1645 1480,1645C1478,1645 1477,1645 1476,1644C1475,1643 1474,1641 1474,1639C1473,1637 1474,1635 1473,1633C1473,1632 1473,1630 1472,1628C1472,1626 1472,1624 1473,1622C1473,1620 1475,1617 1476,1615C1477,1613 1479,1611 1481,1609C1482,1607 1484,1605 1486,1603C1487,1601 1490,1598 1492,1598C1493,1597 1495,1598 1497,1599C1498,1599 1499,1601 1500,1602C1501,1603 1502,1603 1503,1604C1504,1606 1505,1607 1505,1609C1505,1611 1504,1614 1503,1616C1503,1618 1503,1620 1502,1622C1502,1624 1502,1627 1501,1629Z" fill="#5F5D3E" stroke="#C4BC18" stroke-width="2.5" stroke-linejoin="round"/>
<path d="M1747.5,1681.3C1747,1682 1746,1683 1745,1684C1744,1685 1743,1686 1743,1687C1742,1688 1742,1689 1741,1690C1740,1690 1739,1691 1737,1691C1736,1692 1734,1692 1733,1692C1731,1692 1730,1692 1728,1692C1727,1692 1725,1691 1724,1690C1723,1689 1723,1688 1722,1687C1721,1686 1720,1686 1720,1685C1719,1684 1719,1682 1719,1681C1719,1680 1719,1679 1719,1678C1720,1677 1720,1676 1721,1675C1722,1674 1724,1674 1725,1673C1726,1673 1728,1673 1729,1673C1730,1672 1731,1672 1733,1671C1734,1671 1736,1670 1738,1671C1739,1671 1740,1672 1741,1673C1743,1673 1743,1674 1745,1675C1746,1676 1747,1677 1748,1678C1748,1679 1748,1680 1748,1681Z" fill="#C4BA10" stroke="#E6DC00" stroke-width="2.5" stroke-linejoin="round"/>
<path d="M1701.8,1684.8C1702,1686 1701,1687 1700,1688C1699,1689 1698,1690 1697,1691C1696,1692 1696,1693 1694,1693C1693,1694 1692,1695 1690,1696C1688,1696 1686,1696 1684,1696C1682,1695 1681,1694 1679,1694C1678,1693 1677,1693 1675,1692C1674,1692 1672,1691 1670,1691C1669,1690 1667,1689 1666,1688C1665,1687 1665,1686 1665,1685C1665,1684 1666,1682 1666,1681C1667,1680 1668,1679 1669,1678C1670,1677 1672,1677 1674,1676C1675,1676 1677,1676 1679,1676C1681,1676 1682,1676 1684,1676C1686,1675 1687,1675 1689,1675C1691,1675 1693,1676 1695,1676C1696,1677 1698,1677 1699,1678C1700,1679 1701,1680 1702,1681C1702,1682 1702,1684 1702,1685Z" fill="#5F5D3E" stroke="#C4BC18" stroke-width="2.5" stroke-linejoin="round"/>
<path d="M1438.4,1516.7C1440,1519 1441,1522 1442,1524C1443,1527 1444,1529 1444,1532C1445,1534 1445,1537 1445,1540C1445,1542 1445,1544 1444,1546C1443,1548 1442,1549 1440,1550C1439,1551 1437,1552 1435,1552C1434,1552 1431,1552 1429,1550C1427,1548 1425,1545 1423,1542C1421,1540 1420,1538 1419,1536C1417,1534 1415,1533 1413,1531C1411,1529 1409,1527 1407,1524C1406,1522 1405,1518 1404,1515C1404,1513 1404,1510 1405,1508C1405,1506 1406,1504 1408,1503C1409,1502 1410,1501 1412,1500C1413,1499 1414,1498 1416,1498C1418,1498 1420,1498 1422,1499C1424,1500 1426,1502 1428,1504C1430,1506 1432,1508 1433,1510C1435,1512 1437,1514 1438,1517Z" fill="#C4BA10" stroke="#E6DC00" stroke-width="2.5" stroke-linejoin="round"/>
<path d="M1430.3,1705.8C1430,1708 1431,1710 1431,1712C1431,1714 1431,1716 1430,1718C1430,1720 1428,1723 1427,1724C1426,1725 1424,1725 1423,1725C1421,1726 1420,1726 1418,1726C1417,1726 1415,1727 1414,1727C1412,1727 1411,1726 1410,1724C1409,1723 1408,1720 1407,1718C1407,1716 1406,1714 1406,1712C1405,1710 1405,1708 1404,1706C1404,1704 1404,1701 1405,1699C1405,1697 1406,1695 1407,1694C1408,1692 1410,1691 1411,1690C1412,1689 1413,1689 1415,1688C1416,1687 1417,1687 1418,1686C1420,1685 1422,1683 1423,1683C1425,1683 1427,1684 1428,1685C1430,1687 1430,1690 1431,1693C1431,1695 1431,1698 1431,1700C1430,1702 1430,1704 1430,1706Z" fill="#5F5D3E" stroke="#C4BC18" stroke-width="2.5" stroke-linejoin="round"/>
<path d="M1650.2,1772.2C1650,1774 1650,1776 1649,1778C1649,1780 1647,1781 1647,1782C1646,1783 1645,1783 1644,1784C1643,1785 1642,1786 1641,1787C1641,1788 1640,1788 1639,1788C1638,1788 1637,1788 1636,1787C1635,1787 1633,1787 1632,1786C1631,1786 1630,1785 1629,1784C1628,1783 1628,1780 1627,1778C1627,1776 1627,1774 1627,1772C1627,1770 1627,1768 1628,1766C1628,1765 1630,1763 1631,1763C1632,1762 1633,1762 1634,1761C1634,1760 1635,1758 1636,1757C1636,1756 1638,1755 1639,1755C1640,1755 1640,1757 1641,1757C1642,1758 1643,1758 1645,1758C1646,1759 1647,1759 1648,1760C1649,1762 1650,1764 1650,1766C1651,1768 1650,1770 1650,1772Z" fill="#5F5D3E" stroke="#C4BC18" stroke-width="2.5" stroke-linejoin="round"/>
<path d="M1592.4,1775.7C1593,1777 1592,1778 1591,1779C1590,1779 1587,1780 1585,1780C1584,1781 1583,1781 1581,1782C1580,1782 1579,1783 1577,1784C1576,1784 1574,1784 1572,1784C1570,1785 1568,1784 1567,1784C1565,1784 1563,1783 1562,1783C1560,1782 1559,1782 1558,1781C1556,1780 1555,1779 1555,1778C1555,1778 1555,1777 1555,1776C1556,1775 1557,1774 1557,1773C1558,1772 1558,1772 1559,1771C1559,1770 1560,1769 1561,1768C1562,1767 1564,1767 1566,1767C1568,1766 1570,1767 1572,1767C1574,1767 1576,1768 1577,1768C1579,1768 1580,1769 1582,1769C1583,1770 1584,1770 1585,1771C1586,1772 1588,1772 1589,1773C1590,1774 1592,1775 1592,1776Z" fill="#5F5D3E" stroke="#C4BC18" stroke-width="2.5" stroke-linejoin="round"/>
<circle cx="1481.4" cy="1353.7" r="13.3" fill="#46442C" stroke="#E2DA10" stroke-width="3"/>
<circle cx="1598.4" cy="1422.8" r="14.0" fill="#46442C" stroke="#E2DA10" stroke-width="3"/>
<circle cx="1750.3" cy="1436.1" r="14.0" fill="#46442C" stroke="#E2DA10" stroke-width="3"/>
<circle cx="1968.7" cy="1352.3" r="14.0" fill="#46442C" stroke="#E2DA10" stroke-width="3"/>
<circle cx="1830.7" cy="1628.9" r="13.3" fill="#46442C" stroke="#E2DA10" stroke-width="3"/>
<circle cx="1923.3" cy="1639.4" r="13.3" fill="#46442C" stroke="#E2DA10" stroke-width="3"/>
<circle cx="1519.1" cy="1639.4" r="13.3" fill="#46442C" stroke="#E2DA10" stroke-width="3"/>
<ellipse cx="1771.3" cy="1702.3" rx="15.7" ry="17.5" fill="#46442C" stroke="#E2DA10" stroke-width="3"/>
<circle cx="1809.7" cy="1742.5" r="13.3" fill="#46442C" stroke="#E2DA10" stroke-width="3"/>
<circle cx="1891.8" cy="1763.4" r="13.3" fill="#46442C" stroke="#E2DA10" stroke-width="3"/>
<circle cx="1947.7" cy="1618.5" r="14.0" fill="#46442C" stroke="#E2DA10" stroke-width="3"/>
<circle cx="1879.6" cy="1676.1" r="14.0" fill="#46442C" stroke="#E2DA10" stroke-width="3"/>
<ellipse cx="1986.1" cy="1555.6" rx="14.0" ry="17.5" fill="#46442C" stroke="#E2DA10" stroke-width="3"/>
<path d="M1561.7,1618.5C1562,1620 1561,1622 1560,1623C1559,1624 1558,1625 1557,1626C1556,1627 1555,1628 1554,1629C1553,1630 1552,1632 1551,1632C1549,1633 1548,1634 1546,1634C1544,1634 1543,1634 1541,1633C1540,1633 1538,1632 1537,1631C1536,1630 1535,1628 1534,1627C1534,1626 1533,1624 1533,1623C1533,1621 1532,1620 1532,1618C1532,1617 1532,1615 1532,1614C1532,1612 1533,1611 1534,1610C1535,1608 1536,1607 1537,1606C1538,1605 1540,1604 1541,1604C1543,1603 1544,1603 1546,1604C1547,1604 1549,1605 1550,1605C1552,1606 1553,1607 1554,1607C1555,1608 1557,1609 1558,1610C1559,1611 1560,1612 1561,1614C1562,1615 1562,1617 1562,1618Z" fill="#C4BA10" stroke="#E6DC00" stroke-width="2.5" stroke-linejoin="round"/>
<circle cx="1642.1" cy="1475.2" r="15.7" fill="#3E4A4C" stroke="#26E6EE" stroke-width="5"/>
<path d="M1717.6,1597.5C1717,1599 1717,1600 1716,1601C1715,1602 1712,1603 1710,1603C1709,1604 1707,1604 1705,1605C1703,1605 1702,1606 1700,1606C1698,1607 1696,1607 1694,1607C1692,1607 1690,1607 1688,1607C1686,1607 1683,1607 1681,1607C1678,1607 1676,1606 1674,1605C1673,1604 1673,1602 1673,1601C1673,1600 1674,1599 1674,1598C1675,1596 1676,1596 1676,1595C1677,1594 1678,1593 1679,1592C1680,1591 1681,1590 1682,1589C1684,1588 1686,1587 1688,1587C1690,1587 1692,1587 1694,1588C1697,1588 1698,1588 1700,1588C1702,1589 1705,1589 1707,1589C1709,1589 1711,1590 1713,1591C1714,1592 1715,1593 1716,1594C1717,1595 1718,1596 1718,1598Z" fill="#28D8E0" stroke="#30F0F8" stroke-width="2" stroke-linejoin="round"/>
<path d="M1541.9,1723.3C1541,1725 1539,1727 1538,1728C1537,1730 1537,1731 1536,1732C1535,1734 1535,1735 1534,1737C1533,1738 1532,1738 1531,1739C1529,1740 1528,1741 1527,1742C1525,1743 1523,1745 1522,1745C1520,1745 1518,1743 1517,1741C1516,1740 1516,1737 1515,1735C1515,1733 1514,1731 1513,1729C1513,1727 1512,1725 1512,1723C1512,1721 1513,1719 1513,1717C1514,1716 1515,1714 1516,1713C1517,1711 1518,1710 1519,1709C1520,1708 1522,1707 1523,1707C1524,1706 1525,1706 1527,1706C1528,1706 1529,1706 1531,1706C1532,1706 1534,1706 1536,1707C1537,1707 1539,1708 1541,1710C1542,1711 1543,1713 1544,1716C1544,1718 1543,1721 1542,1723Z" fill="#28D8E0" stroke="#30F0F8" stroke-width="2" stroke-linejoin="round"/>
<path d="M1961.1,1419.3C1961,1423 1961,1427 1961,1430C1960,1434 1959,1437 1957,1440C1956,1443 1953,1446 1951,1448C1949,1450 1946,1451 1944,1452C1941,1454 1938,1454 1935,1454C1933,1454 1930,1453 1928,1452C1925,1451 1923,1449 1920,1447C1918,1445 1915,1443 1914,1440C1912,1438 1911,1434 1910,1430C1909,1427 1910,1423 1910,1419C1910,1416 1910,1412 1911,1409C1912,1405 1913,1402 1914,1399C1916,1396 1918,1393 1920,1391C1922,1389 1925,1388 1927,1386C1930,1385 1933,1384 1935,1384C1938,1384 1941,1385 1944,1386C1946,1387 1949,1389 1951,1391C1953,1393 1955,1396 1957,1399C1958,1402 1959,1405 1960,1409C1961,1412 1961,1416 1961,1419Z" fill="#5C665C" filter="url(#fG)"/><path d="M1961.1,1419.3C1961,1423 1961,1427 1961,1430C1960,1434 1959,1437 1957,1440C1956,1443 1953,1446 1951,1448C1949,1450 1946,1451 1944,1452C1941,1454 1938,1454 1935,1454C1933,1454 1930,1453 1928,1452C1925,1451 1923,1449 1920,1447C1918,1445 1915,1443 1914,1440C1912,1438 1911,1434 1910,1430C1909,1427 1910,1423 1910,1419C1910,1416 1910,1412 1911,1409C1912,1405 1913,1402 1914,1399C1916,1396 1918,1393 1920,1391C1922,1389 1925,1388 1927,1386C1930,1385 1933,1384 1935,1384C1938,1384 1941,1385 1944,1386C1946,1387 1949,1389 1951,1391C1953,1393 1955,1396 1957,1399C1958,1402 1959,1405 1960,1409C1961,1412 1961,1416 1961,1419Z" fill="none" stroke="#38EE38" stroke-width="3.5" stroke-linejoin="round"/>
<circle cx="1890.1" cy="1454.3" r="21.0" fill="#B24EB2" filter="url(#fX)"/><circle cx="1890.1" cy="1454.3" r="21.0" fill="none" stroke="#F0FAEE" stroke-width="3.5"/>
<ellipse cx="1855.1" cy="1405.4" rx="26.2" ry="27.9" fill="#F03CF0" filter="url(#fM)"/><ellipse cx="1855.1" cy="1405.4" rx="26.2" ry="27.9" fill="none" stroke="#FCF4FC" stroke-width="3.2"/>
<circle cx="1851.7" cy="1482.2" r="29.7" fill="#A068A0" filter="url(#fX)"/><circle cx="1851.7" cy="1482.2" r="29.7" fill="none" stroke="#3CF03C" stroke-width="4"/>
<circle cx="1897.1" cy="1485.7" r="24.5" fill="#B24EB2" filter="url(#fX)"/><circle cx="1897.1" cy="1485.7" r="24.5" fill="none" stroke="#F0FAEE" stroke-width="3.5"/>
<ellipse cx="1872.6" cy="1538.1" rx="38.4" ry="31.4" fill="#D890D8" filter="url(#fW)"/><ellipse cx="1872.6" cy="1538.1" rx="38.4" ry="31.4" fill="none" stroke="#F4FFF2" stroke-width="4"/>
<path d="M1923.2,1548.6C1923,1551 1922,1554 1921,1556C1920,1558 1919,1560 1918,1561C1916,1563 1916,1565 1914,1567C1913,1569 1911,1571 1910,1571C1908,1572 1906,1572 1904,1572C1902,1572 1900,1572 1898,1571C1897,1570 1895,1569 1894,1567C1893,1565 1892,1562 1892,1560C1891,1558 1892,1556 1891,1554C1890,1552 1888,1551 1887,1549C1886,1546 1885,1543 1885,1541C1885,1538 1886,1535 1888,1533C1889,1531 1891,1529 1893,1528C1894,1527 1897,1527 1899,1527C1900,1527 1902,1527 1904,1528C1906,1528 1907,1529 1909,1529C1910,1530 1912,1530 1914,1531C1915,1533 1916,1534 1917,1536C1919,1538 1920,1539 1921,1542C1922,1544 1923,1546 1923,1549Z" fill="#28D8E0" stroke="#30F0F8" stroke-width="2" stroke-linejoin="round"/>
<circle cx="1925.0" cy="1520.7" r="12.2" fill="none" stroke="#30F030" stroke-width="3"/>
<circle cx="1970.4" cy="1408.9" r="7.0" fill="none" stroke="#30F030" stroke-width="3"/>
<circle cx="1891.8" cy="1602.7" r="27.9" fill="#F03CF0" filter="url(#fM)"/><circle cx="1891.8" cy="1602.7" r="27.9" fill="none" stroke="#FCF4FC" stroke-width="3.2"/>
<ellipse cx="1605.4" cy="1608.0" rx="26.2" ry="29.7" fill="#A068A0" filter="url(#fX)"/><ellipse cx="1605.4" cy="1608.0" rx="26.2" ry="29.7" fill="none" stroke="#3CF03C" stroke-width="4"/>
<circle cx="1603.6" cy="1684.8" r="26.2" fill="#B24EB2" filter="url(#fX)"/><circle cx="1603.6" cy="1684.8" r="26.2" fill="none" stroke="#F0FAEE" stroke-width="3.5"/>
<path d="M1653.4,1726.8C1653,1730 1653,1733 1652,1736C1652,1738 1651,1741 1650,1743C1649,1745 1648,1747 1647,1749C1645,1750 1644,1751 1643,1752C1641,1753 1640,1754 1639,1754C1637,1754 1636,1754 1634,1753C1633,1752 1632,1751 1630,1749C1629,1748 1628,1745 1627,1743C1626,1741 1625,1739 1625,1736C1624,1733 1624,1730 1624,1727C1624,1724 1625,1721 1625,1718C1626,1715 1627,1713 1627,1711C1628,1708 1629,1706 1630,1704C1632,1703 1633,1702 1634,1701C1636,1700 1637,1700 1639,1700C1640,1700 1641,1700 1643,1701C1644,1701 1646,1703 1647,1704C1648,1706 1649,1708 1650,1710C1651,1713 1652,1715 1652,1718C1653,1721 1653,1724 1653,1727Z" fill="#5C665C" filter="url(#fG)"/><path d="M1653.4,1726.8C1653,1730 1653,1733 1652,1736C1652,1738 1651,1741 1650,1743C1649,1745 1648,1747 1647,1749C1645,1750 1644,1751 1643,1752C1641,1753 1640,1754 1639,1754C1637,1754 1636,1754 1634,1753C1633,1752 1632,1751 1630,1749C1629,1748 1628,1745 1627,1743C1626,1741 1625,1739 1625,1736C1624,1733 1624,1730 1624,1727C1624,1724 1625,1721 1625,1718C1626,1715 1627,1713 1627,1711C1628,1708 1629,1706 1630,1704C1632,1703 1633,1702 1634,1701C1636,1700 1637,1700 1639,1700C1640,1700 1641,1700 1643,1701C1644,1701 1646,1703 1647,1704C1648,1706 1649,1708 1650,1710C1651,1713 1652,1715 1652,1718C1653,1721 1653,1724 1653,1727Z" fill="none" stroke="#38EE38" stroke-width="3.5" stroke-linejoin="round"/>
<circle cx="1656.0" cy="1642.9" r="26.2" fill="#F03CF0" filter="url(#fM)"/><circle cx="1656.0" cy="1642.9" r="26.2" fill="none" stroke="#FCF4FC" stroke-width="3.2"/>
<ellipse cx="1711.9" cy="1639.4" rx="45.4" ry="34.9" fill="#D890D8" filter="url(#fW)"/><ellipse cx="1711.9" cy="1639.4" rx="45.4" ry="34.9" fill="none" stroke="#F4FFF2" stroke-width="4"/>
<path d="M1522.2,1716.3C1522,1718 1521,1721 1521,1723C1520,1725 1519,1727 1517,1729C1515,1731 1513,1732 1511,1733C1509,1735 1506,1736 1503,1736C1501,1737 1498,1737 1495,1737C1493,1737 1490,1737 1487,1736C1485,1735 1483,1734 1480,1733C1478,1731 1477,1730 1475,1728C1473,1726 1472,1725 1471,1723C1470,1721 1469,1718 1468,1716C1468,1714 1468,1712 1469,1709C1470,1707 1471,1705 1473,1703C1475,1702 1477,1700 1480,1699C1482,1698 1485,1697 1487,1697C1490,1696 1493,1696 1495,1696C1498,1696 1501,1697 1503,1697C1505,1698 1508,1699 1510,1700C1512,1701 1515,1702 1517,1704C1519,1705 1520,1707 1521,1710C1522,1712 1522,1714 1522,1716Z" fill="#5C665C" filter="url(#fG)"/><path d="M1522.2,1716.3C1522,1718 1521,1721 1521,1723C1520,1725 1519,1727 1517,1729C1515,1731 1513,1732 1511,1733C1509,1735 1506,1736 1503,1736C1501,1737 1498,1737 1495,1737C1493,1737 1490,1737 1487,1736C1485,1735 1483,1734 1480,1733C1478,1731 1477,1730 1475,1728C1473,1726 1472,1725 1471,1723C1470,1721 1469,1718 1468,1716C1468,1714 1468,1712 1469,1709C1470,1707 1471,1705 1473,1703C1475,1702 1477,1700 1480,1699C1482,1698 1485,1697 1487,1697C1490,1696 1493,1696 1495,1696C1498,1696 1501,1697 1503,1697C1505,1698 1508,1699 1510,1700C1512,1701 1515,1702 1517,1704C1519,1705 1520,1707 1521,1710C1522,1712 1522,1714 1522,1716Z" fill="none" stroke="#38EE38" stroke-width="3.5" stroke-linejoin="round"/>
<circle cx="1460.4" cy="1695.3" r="29.7" fill="#F03CF0" filter="url(#fM)"/><circle cx="1460.4" cy="1695.3" r="29.7" fill="none" stroke="#FCF4FC" stroke-width="3.2"/>
<ellipse cx="1456.9" cy="1758.2" rx="33.2" ry="24.5" fill="#D890D8" filter="url(#fW)"/><ellipse cx="1456.9" cy="1758.2" rx="33.2" ry="24.5" fill="none" stroke="#F4FFF2" stroke-width="4"/>
<circle cx="1465.6" cy="1442.1" r="29.7" fill="#F03CF0" filter="url(#fM)"/><circle cx="1465.6" cy="1442.1" r="29.7" fill="none" stroke="#FCF4FC" stroke-width="3.2"/>
<ellipse cx="1422.0" cy="1459.5" rx="24.5" ry="27.9" fill="#F03CF0" filter="url(#fM)"/><ellipse cx="1422.0" cy="1459.5" rx="24.5" ry="27.9" fill="none" stroke="#FCF4FC" stroke-width="3.2"/>
<ellipse cx="1986.1" cy="1475.2" rx="27.9" ry="29.7" fill="#F03CF0" filter="url(#fM)"/><ellipse cx="1986.1" cy="1475.2" rx="27.9" ry="29.7" fill="none" stroke="#FCF4FC" stroke-width="3.2"/>
<circle cx="1701.4" cy="1550.3" r="7.7" fill="#F03CF0"/>
<circle cx="1469.8" cy="1751.7" r="5.8" fill="none" stroke="#2EEE2E" stroke-width="2.5"/>
<circle cx="1493.0" cy="1763.7" r="5.5" fill="none" stroke="#2EEE2E" stroke-width="2.5"/>
<circle cx="1484.1" cy="1767.3" r="5.5" fill="none" stroke="#2EEE2E" stroke-width="2.5"/>
<circle cx="1473.5" cy="1763.0" r="5.7" fill="none" stroke="#2EEE2E" stroke-width="2.5"/>
<circle cx="1468.8" cy="1774.0" r="6.2" fill="none" stroke="#2EEE2E" stroke-width="2.5"/>
<circle cx="1454.6" cy="1778.6" r="6.9" fill="none" stroke="#2EEE2E" stroke-width="2.5"/>
<circle cx="1454.6" cy="1756.6" r="4.1" fill="none" stroke="#2EEE2E" stroke-width="2.5"/>
<circle cx="1437.5" cy="1767.8" r="6.1" fill="none" stroke="#2EEE2E" stroke-width="2.5"/>
<circle cx="1427.0" cy="1756.6" r="5.9" fill="none" stroke="#2EEE2E" stroke-width="2.5"/>
<circle cx="1452.1" cy="1751.0" r="5.5" fill="none" stroke="#2EEE2E" stroke-width="2.5"/>
<circle cx="1428.5" cy="1745.7" r="3.9" fill="none" stroke="#2EEE2E" stroke-width="2.5"/>
<circle cx="1433.2" cy="1732.4" r="4.1" fill="none" stroke="#2EEE2E" stroke-width="2.5"/>
<circle cx="1456.6" cy="1746.0" r="4.9" fill="none" stroke="#2EEE2E" stroke-width="2.5"/>
<circle cx="1449.1" cy="1725.5" r="6.1" fill="none" stroke="#2EEE2E" stroke-width="2.5"/>
<circle cx="1470.5" cy="1730.0" r="6.1" fill="none" stroke="#2EEE2E" stroke-width="2.5"/>
<circle cx="1470.3" cy="1740.7" r="6.7" fill="none" stroke="#2EEE2E" stroke-width="2.5"/>
<circle cx="1485.5" cy="1737.4" r="6.1" fill="none" stroke="#2EEE2E" stroke-width="2.5"/>
<circle cx="1489.3" cy="1743.4" r="5.8" fill="none" stroke="#2EEE2E" stroke-width="2.5"/>
<circle cx="1889.4" cy="1535.6" r="5.6" fill="none" stroke="#2EEE2E" stroke-width="2.5"/>
<circle cx="1908.8" cy="1542.6" r="4.1" fill="none" stroke="#2EEE2E" stroke-width="2.5"/>
<circle cx="1897.0" cy="1557.2" r="3.9" fill="none" stroke="#2EEE2E" stroke-width="2.5"/>
<circle cx="1875.6" cy="1545.4" r="4.3" fill="none" stroke="#2EEE2E" stroke-width="2.5"/>
<circle cx="1878.2" cy="1564.6" r="5.5" fill="none" stroke="#2EEE2E" stroke-width="2.5"/>
<circle cx="1866.7" cy="1567.4" r="5.6" fill="none" stroke="#2EEE2E" stroke-width="2.5"/>
<circle cx="1867.4" cy="1547.3" r="6.0" fill="none" stroke="#2EEE2E" stroke-width="2.5"/>
<circle cx="1846.2" cy="1557.5" r="6.7" fill="none" stroke="#2EEE2E" stroke-width="2.5"/>
<circle cx="1844.5" cy="1552.2" r="5.6" fill="none" stroke="#2EEE2E" stroke-width="2.5"/>
<circle cx="1849.8" cy="1541.5" r="5.1" fill="none" stroke="#2EEE2E" stroke-width="2.5"/>
<circle cx="1841.7" cy="1530.9" r="6.9" fill="none" stroke="#2EEE2E" stroke-width="2.5"/>
<circle cx="1839.2" cy="1522.5" r="6.1" fill="none" stroke="#2EEE2E" stroke-width="2.5"/>
<circle cx="1864.7" cy="1521.0" r="4.9" fill="none" stroke="#2EEE2E" stroke-width="2.5"/>
<circle cx="1866.5" cy="1506.0" r="4.0" fill="none" stroke="#2EEE2E" stroke-width="2.5"/>
<circle cx="1884.0" cy="1509.1" r="4.5" fill="none" stroke="#2EEE2E" stroke-width="2.5"/>
<circle cx="1881.8" cy="1529.3" r="3.9" fill="none" stroke="#2EEE2E" stroke-width="2.5"/>
<circle cx="1897.4" cy="1517.4" r="3.9" fill="none" stroke="#2EEE2E" stroke-width="2.5"/>
<circle cx="1905.5" cy="1529.3" r="4.9" fill="none" stroke="#2EEE2E" stroke-width="2.5"/>
<circle cx="1949.6" cy="1421.3" r="6.9" fill="none" stroke="#2EEE2E" stroke-width="2.5"/>
<circle cx="1956.6" cy="1441.4" r="6.8" fill="none" stroke="#2EEE2E" stroke-width="2.5"/>
<circle cx="1944.6" cy="1449.0" r="4.1" fill="none" stroke="#2EEE2E" stroke-width="2.5"/>
<circle cx="1935.8" cy="1438.0" r="6.9" fill="none" stroke="#2EEE2E" stroke-width="2.5"/>
<circle cx="1921.7" cy="1446.7" r="4.1" fill="none" stroke="#2EEE2E" stroke-width="2.5"/>
<circle cx="1916.5" cy="1431.8" r="4.3" fill="none" stroke="#2EEE2E" stroke-width="2.5"/>
<circle cx="1919.9" cy="1423.1" r="6.8" fill="none" stroke="#2EEE2E" stroke-width="2.5"/>
<circle cx="1917.2" cy="1404.3" r="6.2" fill="none" stroke="#2EEE2E" stroke-width="2.5"/>
<circle cx="1919.7" cy="1392.3" r="6.0" fill="none" stroke="#2EEE2E" stroke-width="2.5"/>
<circle cx="1936.9" cy="1409.1" r="4.6" fill="none" stroke="#2EEE2E" stroke-width="2.5"/>
<circle cx="1944.9" cy="1394.0" r="6.8" fill="none" stroke="#2EEE2E" stroke-width="2.5"/>
<circle cx="1954.8" cy="1406.3" r="5.3" fill="none" stroke="#2EEE2E" stroke-width="2.5"/>
</g>
<clipPath id="cp3"><rect x="119.40" y="1805.20" width="625.20" height="445.20"/></clipPath>
<g clip-path="url(#cp3)">
<rect x="119.40" y="1805.20" width="625.20" height="445.20" fill="#595959"/>
<circle cx="248.3" cy="1839.9" r="14.0" fill="url(#gK)"/>
<circle cx="309.4" cy="1820.7" r="14.0" fill="url(#gK)"/>
<circle cx="417.7" cy="1939.5" r="14.7" fill="url(#gK)"/>
<circle cx="309.4" cy="1970.9" r="13.3" fill="url(#gK)"/>
<circle cx="498.0" cy="1979.7" r="14.7" fill="url(#gK)"/>
<circle cx="435.1" cy="2177.0" r="14.0" fill="url(#gK)"/>
<ellipse cx="559.2" cy="1836.4" rx="19.2" ry="14.0" fill="url(#gK)"/>
<circle cx="684.9" cy="1873.1" r="10.5" fill="url(#gK)"/>
<ellipse cx="657.0" cy="2049.5" rx="14.0" ry="19.2" fill="url(#gK)"/>
<ellipse cx="555.7" cy="2091.5" rx="21.0" ry="24.5" fill="url(#gK)"/>
<ellipse cx="499.8" cy="2199.7" rx="14.0" ry="24.5" fill="url(#gK)"/>
<ellipse cx="482.3" cy="2105.4" rx="14.0" ry="24.5" fill="url(#gK)"/>
<circle cx="199.3" cy="2049.5" r="21.0" fill="url(#gK)"/>
<ellipse cx="143.5" cy="2112.4" rx="17.5" ry="14.0" fill="url(#gK)"/>
<path d="M248.0,1867.3C247,1868 246,1869 244,1869C243,1870 241,1870 239,1870C238,1870 237,1871 235,1871C234,1871 232,1871 230,1871C228,1870 226,1870 224,1869C222,1868 220,1867 218,1866C216,1864 215,1862 215,1861C214,1859 216,1857 216,1856C216,1855 216,1854 215,1852C215,1851 214,1849 215,1848C215,1847 216,1846 218,1846C219,1845 220,1845 221,1844C223,1843 224,1842 225,1842C227,1841 230,1842 232,1843C233,1844 235,1846 237,1847C238,1849 240,1850 241,1851C243,1852 245,1853 246,1854C247,1856 248,1857 248,1859C249,1860 249,1862 248,1863C248,1865 249,1866 248,1867Z" fill="#5F5D3E" stroke="#C4BC18" stroke-width="2.5" stroke-linejoin="round"/>
<path d="M240.4,1906.3C240,1908 238,1909 237,1911C236,1913 237,1914 236,1916C235,1918 235,1921 234,1922C233,1923 231,1923 229,1923C227,1924 225,1923 224,1923C222,1923 221,1923 219,1923C218,1922 216,1921 215,1920C213,1919 212,1918 211,1917C210,1915 208,1914 208,1912C207,1910 208,1908 208,1906C208,1905 209,1903 210,1901C210,1900 211,1898 212,1896C212,1895 213,1893 215,1892C216,1891 217,1890 219,1889C220,1888 222,1887 224,1887C225,1887 228,1888 229,1889C230,1890 231,1893 232,1894C233,1895 234,1896 235,1897C237,1898 240,1899 240,1900C241,1902 241,1905 240,1906Z" fill="#5F5D3E" stroke="#C4BC18" stroke-width="2.5" stroke-linejoin="round"/>
<path d="M183.0,1871.4C183,1874 183,1876 182,1878C182,1880 181,1882 180,1883C179,1885 177,1886 176,1887C175,1888 173,1888 172,1888C170,1888 169,1887 168,1887C167,1887 166,1886 164,1886C163,1886 161,1887 160,1887C158,1886 156,1886 155,1884C154,1883 154,1880 153,1878C153,1876 153,1874 153,1871C152,1869 151,1866 152,1864C152,1862 154,1860 156,1859C157,1858 159,1858 161,1858C162,1857 163,1857 164,1856C165,1855 167,1855 168,1855C169,1855 170,1856 172,1856C173,1856 174,1856 176,1857C177,1857 180,1857 181,1858C182,1860 183,1862 184,1864C184,1867 183,1869 183,1871Z" fill="#5F5D3E" stroke="#C4BC18" stroke-width="2.5" stroke-linejoin="round"/>
<path d="M208.6,1951.5C209,1953 211,1953 212,1954C212,1956 213,1957 212,1959C211,1960 209,1962 207,1963C205,1965 202,1966 200,1967C198,1968 196,1970 193,1971C191,1972 188,1973 185,1973C183,1974 181,1973 179,1972C177,1972 176,1971 175,1971C173,1970 171,1970 170,1970C168,1969 167,1968 166,1967C166,1966 166,1964 167,1963C167,1962 168,1960 169,1959C169,1957 170,1956 171,1954C172,1953 174,1951 176,1949C179,1948 182,1947 184,1946C187,1946 190,1946 192,1945C194,1945 197,1945 199,1945C201,1945 203,1945 205,1945C206,1946 207,1947 207,1948C208,1949 208,1951 209,1952Z" fill="#5F5D3E" stroke="#C4BC18" stroke-width="2.5" stroke-linejoin="round"/>
<path d="M365.2,2025.2C366,2026 367,2028 367,2029C367,2031 366,2032 365,2034C364,2035 363,2037 362,2039C360,2040 358,2041 356,2042C354,2043 351,2043 349,2043C346,2044 344,2044 342,2044C340,2043 337,2043 336,2042C335,2040 335,2039 334,2037C333,2036 333,2035 332,2034C330,2034 328,2033 327,2032C326,2031 325,2029 325,2028C324,2026 325,2024 325,2023C326,2021 327,2019 329,2018C331,2016 334,2016 336,2015C339,2015 342,2016 344,2016C346,2016 348,2015 350,2015C352,2015 355,2014 356,2015C358,2016 359,2017 360,2018C361,2020 361,2021 362,2022C363,2023 364,2024 365,2025Z" fill="#5F5D3E" stroke="#C4BC18" stroke-width="2.5" stroke-linejoin="round"/>
<path d="M143.8,1969.2C144,1971 143,1973 143,1975C142,1976 141,1978 140,1979C139,1980 138,1981 136,1981C135,1981 134,1981 133,1981C131,1981 131,1982 129,1983C128,1983 127,1984 126,1984C125,1983 124,1982 122,1982C121,1981 120,1980 119,1979C118,1978 117,1976 116,1975C116,1973 116,1971 116,1969C117,1967 117,1966 118,1964C118,1963 118,1961 119,1959C120,1958 121,1957 122,1957C123,1956 125,1956 126,1956C127,1955 128,1955 129,1954C131,1954 132,1954 133,1955C134,1955 135,1957 136,1958C137,1959 137,1960 139,1961C140,1962 141,1962 142,1964C143,1965 144,1967 144,1969Z" fill="#5F5D3E" stroke="#C4BC18" stroke-width="2.5" stroke-linejoin="round"/>
<circle cx="267.5" cy="2025.1" r="14.0" fill="#46442C" stroke="#E2DA10" stroke-width="3"/>
<circle cx="501.5" cy="1939.5" r="14.0" fill="#4A4834" stroke="#A8A020" stroke-width="2.5"/>
<circle cx="471.8" cy="1963.9" r="13.3" fill="#4A4834" stroke="#A8A020" stroke-width="2.5"/>
<ellipse cx="473.6" cy="2161.3" rx="13.3" ry="17.5" fill="#46442C" stroke="#E2DA10" stroke-width="3"/>
<circle cx="627.3" cy="2157.8" r="14.0" fill="#46442C" stroke="#E2DA10" stroke-width="3"/>
<circle cx="526.0" cy="2213.7" r="13.3" fill="#46442C" stroke="#E2DA10" stroke-width="3"/>
<circle cx="573.1" cy="2177.0" r="13.3" fill="#4A4834" stroke="#A8A020" stroke-width="2.5"/>
<ellipse cx="422.9" cy="2212.0" rx="12.2" ry="17.5" fill="#4A4834" stroke="#A8A020" stroke-width="2.5"/>
<ellipse cx="391.5" cy="2164.8" rx="10.5" ry="17.5" fill="#46442C" stroke="#E2DA10" stroke-width="3"/>
<circle cx="716.4" cy="2138.6" r="14.0" fill="#4A4834" stroke="#A8A020" stroke-width="2.5"/>
<circle cx="143.5" cy="2182.3" r="14.0" fill="#4A4834" stroke="#A8A020" stroke-width="2.5"/>
<circle cx="133.0" cy="2213.7" r="14.0" fill="#4A4834" stroke="#A8A020" stroke-width="2.5"/>
<ellipse cx="510.3" cy="2094.9" rx="14.0" ry="17.5" fill="#4A4834" stroke="#A8A020" stroke-width="2.5"/>
<circle cx="126.0" cy="2157.8" r="10.5" fill="#4A4834" stroke="#A8A020" stroke-width="2.5"/>
<path d="M318.0,1923.8C318,1925 318,1927 318,1928C317,1930 317,1931 316,1932C315,1934 314,1935 313,1936C312,1937 310,1937 309,1937C307,1937 306,1937 304,1937C303,1937 301,1937 300,1937C299,1936 297,1936 296,1935C295,1934 294,1933 293,1932C293,1930 292,1929 291,1928C290,1927 289,1925 289,1924C288,1922 289,1920 289,1919C290,1918 292,1917 294,1916C295,1915 296,1915 297,1914C298,1913 299,1912 300,1911C301,1910 303,1909 304,1909C306,1909 307,1909 309,1909C310,1910 311,1911 312,1912C313,1913 314,1915 315,1916C315,1917 316,1918 317,1920C317,1921 318,1922 318,1924Z" fill="#C4BA10" stroke="#E6DC00" stroke-width="2.5" stroke-linejoin="round"/>
<circle cx="367.0" cy="1834.7" r="15.7" fill="#3E4A4C" stroke="#26E6EE" stroke-width="5"/>
<circle cx="539.9" cy="2157.8" r="15.7" fill="#3E4A4C" stroke="#26E6EE" stroke-width="5"/>
<path d="M353.8,2217.2C353,2219 354,2221 354,2223C354,2225 355,2229 355,2231C354,2233 352,2234 350,2235C348,2236 346,2236 344,2237C343,2238 341,2239 339,2239C337,2239 335,2238 334,2237C332,2236 331,2234 330,2232C329,2231 327,2230 326,2229C324,2228 323,2226 322,2224C321,2222 321,2219 321,2217C321,2215 321,2212 321,2210C322,2208 322,2205 324,2204C325,2202 327,2202 329,2201C331,2200 333,2200 334,2199C336,2199 337,2198 339,2197C341,2197 343,2197 344,2198C346,2198 348,2199 350,2200C351,2201 354,2201 355,2203C356,2205 357,2208 356,2210C356,2213 354,2215 354,2217Z" fill="#3C4446" stroke="#22E8F0" stroke-width="5" stroke-linejoin="round"/>
<circle cx="576.6" cy="2143.9" r="7.0" fill="#3E4A4C" stroke="#26E6EE" stroke-width="5"/>
<path d="M747.8,1873.1C748,1875 748,1878 747,1880C747,1882 747,1884 746,1886C745,1887 744,1889 744,1890C743,1892 742,1892 741,1893C740,1894 738,1894 737,1894C736,1894 735,1894 734,1893C733,1892 732,1891 731,1890C730,1889 730,1887 729,1885C728,1884 728,1882 727,1880C727,1878 727,1875 727,1873C727,1871 727,1869 727,1867C728,1865 728,1862 729,1861C729,1859 730,1857 731,1856C732,1855 733,1854 734,1853C735,1853 736,1853 737,1853C738,1853 739,1853 741,1853C742,1854 743,1855 744,1856C744,1857 745,1859 746,1861C746,1863 747,1865 747,1867C748,1869 748,1871 748,1873Z" fill="#5C665C" filter="url(#fG)"/><path d="M747.8,1873.1C748,1875 748,1878 747,1880C747,1882 747,1884 746,1886C745,1887 744,1889 744,1890C743,1892 742,1892 741,1893C740,1894 738,1894 737,1894C736,1894 735,1894 734,1893C733,1892 732,1891 731,1890C730,1889 730,1887 729,1885C728,1884 728,1882 727,1880C727,1878 727,1875 727,1873C727,1871 727,1869 727,1867C728,1865 728,1862 729,1861C729,1859 730,1857 731,1856C732,1855 733,1854 734,1853C735,1853 736,1853 737,1853C738,1853 739,1853 741,1853C742,1854 743,1855 744,1856C744,1857 745,1859 746,1861C746,1863 747,1865 747,1867C748,1869 748,1871 748,1873Z" fill="none" stroke="#38EE38" stroke-width="3.5" stroke-linejoin="round"/>
<path d="M646.4,2241.7C647,2243 647,2244 646,2245C645,2246 643,2247 642,2248C640,2249 637,2249 635,2250C632,2251 630,2251 627,2252C625,2252 621,2252 619,2252C616,2252 613,2252 610,2251C607,2251 605,2251 603,2250C600,2249 598,2249 596,2248C594,2247 593,2246 592,2245C591,2244 591,2243 591,2242C591,2241 591,2239 592,2238C592,2237 594,2236 596,2235C597,2235 600,2234 602,2233C604,2233 607,2232 610,2232C613,2231 616,2231 619,2231C621,2231 624,2231 627,2232C630,2232 633,2233 635,2233C637,2234 639,2235 641,2236C642,2236 643,2238 644,2239C645,2240 646,2241 646,2242Z" fill="#5C665C" filter="url(#fG)"/><path d="M646.4,2241.7C647,2243 647,2244 646,2245C645,2246 643,2247 642,2248C640,2249 637,2249 635,2250C632,2251 630,2251 627,2252C625,2252 621,2252 619,2252C616,2252 613,2252 610,2251C607,2251 605,2251 603,2250C600,2249 598,2249 596,2248C594,2247 593,2246 592,2245C591,2244 591,2243 591,2242C591,2241 591,2239 592,2238C592,2237 594,2236 596,2235C597,2235 600,2234 602,2233C604,2233 607,2232 610,2232C613,2231 616,2231 619,2231C621,2231 624,2231 627,2232C630,2232 633,2233 635,2233C637,2234 639,2235 641,2236C642,2236 643,2238 644,2239C645,2240 646,2241 646,2242Z" fill="none" stroke="#38EE38" stroke-width="3.5" stroke-linejoin="round"/>
<path d="M230.7,2182.3C231,2185 231,2189 230,2192C229,2195 227,2197 225,2200C224,2202 221,2204 219,2206C217,2208 214,2209 211,2210C209,2211 206,2213 203,2213C200,2213 197,2212 194,2211C191,2210 189,2208 186,2206C184,2205 182,2202 180,2200C178,2197 177,2195 176,2192C175,2189 175,2185 175,2182C175,2179 176,2176 177,2173C178,2171 180,2168 181,2166C183,2163 185,2161 187,2159C189,2157 191,2155 194,2153C197,2152 200,2151 203,2151C206,2151 209,2152 212,2153C215,2154 217,2156 219,2158C222,2160 223,2163 225,2165C226,2168 227,2171 228,2173C229,2176 230,2179 231,2182Z" fill="#5C665C" filter="url(#fG)"/><path d="M230.7,2182.3C231,2185 231,2189 230,2192C229,2195 227,2197 225,2200C224,2202 221,2204 219,2206C217,2208 214,2209 211,2210C209,2211 206,2213 203,2213C200,2213 197,2212 194,2211C191,2210 189,2208 186,2206C184,2205 182,2202 180,2200C178,2197 177,2195 176,2192C175,2189 175,2185 175,2182C175,2179 176,2176 177,2173C178,2171 180,2168 181,2166C183,2163 185,2161 187,2159C189,2157 191,2155 194,2153C197,2152 200,2151 203,2151C206,2151 209,2152 212,2153C215,2154 217,2156 219,2158C222,2160 223,2163 225,2165C226,2168 227,2171 228,2173C229,2176 230,2179 231,2182Z" fill="none" stroke="#38EE38" stroke-width="3.5" stroke-linejoin="round"/>
<ellipse cx="583.6" cy="1866.1" rx="21.0" ry="22.7" fill="#F03CF0" filter="url(#fM)"/><ellipse cx="583.6" cy="1866.1" rx="21.0" ry="22.7" fill="none" stroke="#FCF4FC" stroke-width="3.2"/>
<circle cx="555.7" cy="1925.5" r="27.9" fill="#A068A0" filter="url(#fX)"/><circle cx="555.7" cy="1925.5" r="27.9" fill="none" stroke="#3CF03C" stroke-width="4"/>
<path d="M626.2,1948.2C626,1951 626,1953 625,1956C625,1958 624,1961 623,1963C621,1966 620,1968 618,1969C616,1971 614,1972 612,1973C609,1974 607,1974 605,1974C602,1974 600,1974 597,1974C595,1973 592,1972 590,1971C588,1969 587,1967 585,1964C584,1962 583,1959 583,1956C582,1954 583,1951 583,1948C583,1946 584,1943 584,1941C585,1938 586,1936 587,1933C588,1931 590,1929 591,1927C593,1925 595,1924 597,1923C600,1922 602,1922 605,1922C607,1922 609,1922 612,1923C614,1924 616,1925 618,1926C620,1928 622,1930 624,1932C625,1934 626,1937 626,1940C627,1943 626,1946 626,1948Z" fill="#5C665C" filter="url(#fG)"/><path d="M626.2,1948.2C626,1951 626,1953 625,1956C625,1958 624,1961 623,1963C621,1966 620,1968 618,1969C616,1971 614,1972 612,1973C609,1974 607,1974 605,1974C602,1974 600,1974 597,1974C595,1973 592,1972 590,1971C588,1969 587,1967 585,1964C584,1962 583,1959 583,1956C582,1954 583,1951 583,1948C583,1946 584,1943 584,1941C585,1938 586,1936 587,1933C588,1931 590,1929 591,1927C593,1925 595,1924 597,1923C600,1922 602,1922 605,1922C607,1922 609,1922 612,1923C614,1924 616,1925 618,1926C620,1928 622,1930 624,1932C625,1934 626,1937 626,1940C627,1943 626,1946 626,1948Z" fill="none" stroke="#38EE38" stroke-width="3.5" stroke-linejoin="round"/>
<circle cx="637.8" cy="1894.1" r="24.5" fill="#D890D8" filter="url(#fW)"/><circle cx="637.8" cy="1894.1" r="24.5" fill="none" stroke="#F4FFF2" stroke-width="4"/>
<ellipse cx="590.6" cy="2011.1" rx="34.9" ry="27.9" fill="#D890D8" filter="url(#fW)"/><ellipse cx="590.6" cy="2011.1" rx="34.9" ry="27.9" fill="none" stroke="#F4FFF2" stroke-width="4"/>
<ellipse cx="590.6" cy="2068.7" rx="26.2" ry="29.7" fill="#F03CF0" filter="url(#fM)"/><ellipse cx="590.6" cy="2068.7" rx="26.2" ry="29.7" fill="none" stroke="#FCF4FC" stroke-width="3.2"/>
<path d="M299.6,2136.9C300,2139 299,2142 298,2145C298,2147 296,2149 295,2151C294,2153 292,2155 291,2156C289,2158 287,2159 286,2160C284,2161 282,2161 280,2161C278,2161 276,2160 274,2159C272,2159 270,2158 269,2156C267,2155 265,2153 264,2151C263,2149 262,2147 261,2145C260,2142 259,2139 259,2137C259,2134 260,2131 261,2129C262,2127 263,2125 265,2123C266,2121 267,2119 269,2118C270,2116 272,2114 274,2113C276,2113 278,2112 280,2113C282,2113 284,2114 285,2114C287,2115 289,2116 291,2117C292,2119 294,2120 295,2122C297,2124 298,2127 298,2129C299,2132 300,2134 300,2137Z" fill="#5C665C" filter="url(#fG)"/><path d="M299.6,2136.9C300,2139 299,2142 298,2145C298,2147 296,2149 295,2151C294,2153 292,2155 291,2156C289,2158 287,2159 286,2160C284,2161 282,2161 280,2161C278,2161 276,2160 274,2159C272,2159 270,2158 269,2156C267,2155 265,2153 264,2151C263,2149 262,2147 261,2145C260,2142 259,2139 259,2137C259,2134 260,2131 261,2129C262,2127 263,2125 265,2123C266,2121 267,2119 269,2118C270,2116 272,2114 274,2113C276,2113 278,2112 280,2113C282,2113 284,2114 285,2114C287,2115 289,2116 291,2117C292,2119 294,2120 295,2122C297,2124 298,2127 298,2129C299,2132 300,2134 300,2137Z" fill="none" stroke="#38EE38" stroke-width="3.5" stroke-linejoin="round"/>
<ellipse cx="309.4" cy="2072.2" rx="24.5" ry="26.2" fill="#A068A0" filter="url(#fX)"/><ellipse cx="309.4" cy="2072.2" rx="24.5" ry="26.2" fill="none" stroke="#3CF03C" stroke-width="4"/>
<ellipse cx="440.4" cy="2088.0" rx="24.5" ry="34.9" fill="#D890D8" filter="url(#fW)"/><ellipse cx="440.4" cy="2088.0" rx="24.5" ry="34.9" fill="none" stroke="#F4FFF2" stroke-width="4"/>
<circle cx="391.5" cy="2089.7" r="26.2" fill="#F03CF0" filter="url(#fM)"/><circle cx="391.5" cy="2089.7" r="26.2" fill="none" stroke="#FCF4FC" stroke-width="3.2"/>
<ellipse cx="349.6" cy="2133.4" rx="21.0" ry="24.5" fill="#D890D8" filter="url(#fW)"/><ellipse cx="349.6" cy="2133.4" rx="21.0" ry="24.5" fill="none" stroke="#F4FFF2" stroke-width="4"/>
<circle cx="311.1" cy="2138.6" r="24.5" fill="#F03CF0" filter="url(#fM)"/><circle cx="311.1" cy="2138.6" r="24.5" fill="none" stroke="#FCF4FC" stroke-width="3.2"/>
<ellipse cx="426.4" cy="2108.9" rx="27.9" ry="31.4" fill="#F03CF0" filter="url(#fM)"/><ellipse cx="426.4" cy="2108.9" rx="27.9" ry="31.4" fill="none" stroke="#FCF4FC" stroke-width="3.2"/>
<circle cx="174.9" cy="2140.4" r="26.2" fill="#F03CF0" filter="url(#fM)"/><circle cx="174.9" cy="2140.4" r="26.2" fill="none" stroke="#FCF4FC" stroke-width="3.2"/>
<ellipse cx="127.7" cy="1859.1" rx="19.2" ry="29.7" fill="#F03CF0" filter="url(#fM)"/><ellipse cx="127.7" cy="1859.1" rx="19.2" ry="29.7" fill="none" stroke="#FCF4FC" stroke-width="3.2"/>
<circle cx="133.0" cy="1923.8" r="24.5" fill="#F03CF0" filter="url(#fM)"/><circle cx="133.0" cy="1923.8" r="24.5" fill="none" stroke="#FCF4FC" stroke-width="3.2"/>
<circle cx="162.7" cy="2046.0" r="29.7" fill="#F03CF0" filter="url(#fM)"/><circle cx="162.7" cy="2046.0" r="29.7" fill="none" stroke="#FCF4FC" stroke-width="3.2"/>
<ellipse cx="124.2" cy="2060.0" rx="14.0" ry="24.5" fill="#F03CF0" filter="url(#fM)"/><ellipse cx="124.2" cy="2060.0" rx="14.0" ry="24.5" fill="none" stroke="#FCF4FC" stroke-width="3.2"/>
<circle cx="684.9" cy="1941.2" r="27.9" fill="#F03CF0" filter="url(#fM)"/><circle cx="684.9" cy="1941.2" r="27.9" fill="none" stroke="#FCF4FC" stroke-width="3.2"/>
<circle cx="173.1" cy="2093.2" r="10.5" fill="#F03CF0" filter="url(#fM)"/><circle cx="173.1" cy="2093.2" r="10.5" fill="none" stroke="#FCF4FC" stroke-width="3.2"/>
<circle cx="288.4" cy="2000.6" r="7.0" fill="#F03CF0"/>
<circle cx="272.7" cy="2079.2" r="6.3" fill="#F03CF0"/>
<circle cx="402.0" cy="1894.1" r="2.8" fill="#F03CF0"/>
<circle cx="210.7" cy="2183.7" r="5.6" fill="none" stroke="#2EEE2E" stroke-width="2.5"/>
<circle cx="231.4" cy="2189.5" r="5.0" fill="none" stroke="#2EEE2E" stroke-width="2.5"/>
<circle cx="226.6" cy="2194.8" r="5.0" fill="none" stroke="#2EEE2E" stroke-width="2.5"/>
<circle cx="214.8" cy="2197.9" r="6.1" fill="none" stroke="#2EEE2E" stroke-width="2.5"/>
<circle cx="223.7" cy="2204.5" r="5.6" fill="none" stroke="#2EEE2E" stroke-width="2.5"/>
<circle cx="211.2" cy="2208.7" r="5.5" fill="none" stroke="#2EEE2E" stroke-width="2.5"/>
<circle cx="202.3" cy="2192.8" r="4.3" fill="none" stroke="#2EEE2E" stroke-width="2.5"/>
<circle cx="195.2" cy="2206.6" r="4.7" fill="none" stroke="#2EEE2E" stroke-width="2.5"/>
<circle cx="193.3" cy="2211.2" r="5.0" fill="none" stroke="#2EEE2E" stroke-width="2.5"/>
<circle cx="198.9" cy="2191.9" r="4.6" fill="none" stroke="#2EEE2E" stroke-width="2.5"/>
<circle cx="185.3" cy="2206.6" r="6.1" fill="none" stroke="#2EEE2E" stroke-width="2.5"/>
<circle cx="183.4" cy="2197.3" r="6.9" fill="none" stroke="#2EEE2E" stroke-width="2.5"/>
<circle cx="190.4" cy="2184.4" r="5.7" fill="none" stroke="#2EEE2E" stroke-width="2.5"/>
<circle cx="179.2" cy="2177.4" r="5.8" fill="none" stroke="#2EEE2E" stroke-width="2.5"/>
<circle cx="177.0" cy="2181.0" r="4.6" fill="none" stroke="#2EEE2E" stroke-width="2.5"/>
<circle cx="192.1" cy="2177.2" r="5.2" fill="none" stroke="#2EEE2E" stroke-width="2.5"/>
<circle cx="187.0" cy="2161.9" r="3.9" fill="none" stroke="#2EEE2E" stroke-width="2.5"/>
<circle cx="189.7" cy="2154.8" r="6.5" fill="none" stroke="#2EEE2E" stroke-width="2.5"/>
<circle cx="198.0" cy="2171.6" r="6.3" fill="none" stroke="#2EEE2E" stroke-width="2.5"/>
<circle cx="196.4" cy="2159.2" r="5.4" fill="none" stroke="#2EEE2E" stroke-width="2.5"/>
<circle cx="203.2" cy="2155.1" r="4.3" fill="none" stroke="#2EEE2E" stroke-width="2.5"/>
<circle cx="209.8" cy="2170.2" r="4.9" fill="none" stroke="#2EEE2E" stroke-width="2.5"/>
<circle cx="215.0" cy="2160.0" r="6.3" fill="none" stroke="#2EEE2E" stroke-width="2.5"/>
<circle cx="226.0" cy="2165.3" r="6.8" fill="none" stroke="#2EEE2E" stroke-width="2.5"/>
<circle cx="213.4" cy="2177.0" r="5.2" fill="none" stroke="#2EEE2E" stroke-width="2.5"/>
<circle cx="226.0" cy="2172.3" r="5.4" fill="none" stroke="#2EEE2E" stroke-width="2.5"/>
<circle cx="609.2" cy="2016.8" r="4.2" fill="none" stroke="#2EEE2E" stroke-width="2.5"/>
<circle cx="621.2" cy="2022.4" r="6.4" fill="none" stroke="#2EEE2E" stroke-width="2.5"/>
<circle cx="616.9" cy="2032.9" r="5.9" fill="none" stroke="#2EEE2E" stroke-width="2.5"/>
<circle cx="599.5" cy="2022.4" r="6.4" fill="none" stroke="#2EEE2E" stroke-width="2.5"/>
<circle cx="601.3" cy="2041.1" r="6.8" fill="none" stroke="#2EEE2E" stroke-width="2.5"/>
<circle cx="591.1" cy="2043.7" r="4.2" fill="none" stroke="#2EEE2E" stroke-width="2.5"/>
<circle cx="587.5" cy="2022.0" r="4.5" fill="none" stroke="#2EEE2E" stroke-width="2.5"/>
<circle cx="582.2" cy="2038.6" r="6.0" fill="none" stroke="#2EEE2E" stroke-width="2.5"/>
<circle cx="570.4" cy="2032.8" r="4.5" fill="none" stroke="#2EEE2E" stroke-width="2.5"/>
<circle cx="578.3" cy="2019.7" r="4.5" fill="none" stroke="#2EEE2E" stroke-width="2.5"/>
<circle cx="559.7" cy="2018.8" r="4.1" fill="none" stroke="#2EEE2E" stroke-width="2.5"/>
<circle cx="554.7" cy="2014.4" r="3.9" fill="none" stroke="#2EEE2E" stroke-width="2.5"/>
<circle cx="580.0" cy="2011.6" r="6.6" fill="none" stroke="#2EEE2E" stroke-width="2.5"/>
<circle cx="563.4" cy="2000.7" r="4.9" fill="none" stroke="#2EEE2E" stroke-width="2.5"/>
<circle cx="568.1" cy="1999.5" r="5.4" fill="none" stroke="#2EEE2E" stroke-width="2.5"/>
<circle cx="586.1" cy="2006.6" r="4.2" fill="none" stroke="#2EEE2E" stroke-width="2.5"/>
<circle cx="584.4" cy="1984.2" r="4.0" fill="none" stroke="#2EEE2E" stroke-width="2.5"/>
<circle cx="598.5" cy="1984.4" r="4.8" fill="none" stroke="#2EEE2E" stroke-width="2.5"/>
<circle cx="597.3" cy="2000.7" r="4.6" fill="none" stroke="#2EEE2E" stroke-width="2.5"/>
<circle cx="605.8" cy="1993.2" r="6.6" fill="none" stroke="#2EEE2E" stroke-width="2.5"/>
<circle cx="621.3" cy="1997.4" r="4.4" fill="none" stroke="#2EEE2E" stroke-width="2.5"/>
<circle cx="602.4" cy="2012.8" r="5.0" fill="none" stroke="#2EEE2E" stroke-width="2.5"/>
<circle cx="577.6" cy="1927.6" r="6.9" fill="none" stroke="#2EEE2E" stroke-width="2.5"/>
<circle cx="577.5" cy="1936.0" r="5.8" fill="none" stroke="#2EEE2E" stroke-width="2.5"/>
<circle cx="573.8" cy="1942.8" r="5.6" fill="none" stroke="#2EEE2E" stroke-width="2.5"/>
<circle cx="565.2" cy="1938.8" r="6.2" fill="none" stroke="#2EEE2E" stroke-width="2.5"/>
<circle cx="558.2" cy="1949.2" r="3.9" fill="none" stroke="#2EEE2E" stroke-width="2.5"/>
<circle cx="553.6" cy="1951.3" r="4.0" fill="none" stroke="#2EEE2E" stroke-width="2.5"/>
<circle cx="545.1" cy="1939.6" r="6.0" fill="none" stroke="#2EEE2E" stroke-width="2.5"/>
<circle cx="531.7" cy="1944.4" r="5.3" fill="none" stroke="#2EEE2E" stroke-width="2.5"/>
<circle cx="527.9" cy="1936.6" r="5.7" fill="none" stroke="#2EEE2E" stroke-width="2.5"/>
<circle cx="542.5" cy="1925.3" r="4.5" fill="none" stroke="#2EEE2E" stroke-width="2.5"/>
<circle cx="529.9" cy="1919.1" r="6.4" fill="none" stroke="#2EEE2E" stroke-width="2.5"/>
<circle cx="535.2" cy="1910.3" r="4.3" fill="none" stroke="#2EEE2E" stroke-width="2.5"/>
<circle cx="551.2" cy="1915.3" r="5.1" fill="none" stroke="#2EEE2E" stroke-width="2.5"/>
<circle cx="545.5" cy="1899.7" r="5.0" fill="none" stroke="#2EEE2E" stroke-width="2.5"/>
<circle cx="558.2" cy="1900.6" r="4.7" fill="none" stroke="#2EEE2E" stroke-width="2.5"/>
<circle cx="560.8" cy="1916.0" r="4.8" fill="none" stroke="#2EEE2E" stroke-width="2.5"/>
<circle cx="581.6" cy="1909.5" r="5.5" fill="none" stroke="#2EEE2E" stroke-width="2.5"/>
<circle cx="577.7" cy="1914.6" r="4.9" fill="none" stroke="#2EEE2E" stroke-width="2.5"/>
<circle cx="197.1" cy="2143.8" r="4.2" fill="none" stroke="#2EEE2E" stroke-width="2.5"/>
<circle cx="206.5" cy="2147.5" r="6.1" fill="none" stroke="#2EEE2E" stroke-width="2.5"/>
<circle cx="196.6" cy="2160.7" r="5.6" fill="none" stroke="#2EEE2E" stroke-width="2.5"/>
<circle cx="185.9" cy="2158.2" r="4.0" fill="none" stroke="#2EEE2E" stroke-width="2.5"/>
<circle cx="176.4" cy="2164.2" r="4.0" fill="none" stroke="#2EEE2E" stroke-width="2.5"/>
<circle cx="167.9" cy="2164.4" r="6.8" fill="none" stroke="#2EEE2E" stroke-width="2.5"/>
<circle cx="162.6" cy="2151.5" r="6.5" fill="none" stroke="#2EEE2E" stroke-width="2.5"/>
<circle cx="150.0" cy="2149.2" r="4.6" fill="none" stroke="#2EEE2E" stroke-width="2.5"/>
<circle cx="146.7" cy="2144.8" r="6.4" fill="none" stroke="#2EEE2E" stroke-width="2.5"/>
<circle cx="160.1" cy="2131.2" r="4.5" fill="none" stroke="#2EEE2E" stroke-width="2.5"/>
<circle cx="156.6" cy="2117.6" r="5.4" fill="none" stroke="#2EEE2E" stroke-width="2.5"/>
<circle cx="167.6" cy="2114.6" r="6.4" fill="none" stroke="#2EEE2E" stroke-width="2.5"/>
<circle cx="174.4" cy="2125.1" r="4.7" fill="none" stroke="#2EEE2E" stroke-width="2.5"/>
<circle cx="183.5" cy="2112.2" r="6.5" fill="none" stroke="#2EEE2E" stroke-width="2.5"/>
<circle cx="190.4" cy="2119.6" r="6.4" fill="none" stroke="#2EEE2E" stroke-width="2.5"/>
<circle cx="191.1" cy="2137.1" r="6.8" fill="none" stroke="#2EEE2E" stroke-width="2.5"/>
<circle cx="657.0" cy="1894.5" r="5.5" fill="none" stroke="#2EEE2E" stroke-width="2.5"/>
<circle cx="662.4" cy="1904.3" r="7.0" fill="none" stroke="#2EEE2E" stroke-width="2.5"/>
<circle cx="653.6" cy="1908.5" r="4.9" fill="none" stroke="#2EEE2E" stroke-width="2.5"/>
<circle cx="640.6" cy="1901.0" r="5.4" fill="none" stroke="#2EEE2E" stroke-width="2.5"/>
<circle cx="627.0" cy="1917.0" r="4.8" fill="none" stroke="#2EEE2E" stroke-width="2.5"/>
<circle cx="624.9" cy="1912.0" r="6.5" fill="none" stroke="#2EEE2E" stroke-width="2.5"/>
<circle cx="631.5" cy="1897.5" r="6.7" fill="none" stroke="#2EEE2E" stroke-width="2.5"/>
<circle cx="613.1" cy="1890.7" r="5.2" fill="none" stroke="#2EEE2E" stroke-width="2.5"/>
<circle cx="614.6" cy="1887.1" r="4.9" fill="none" stroke="#2EEE2E" stroke-width="2.5"/>
<circle cx="633.4" cy="1887.5" r="6.5" fill="none" stroke="#2EEE2E" stroke-width="2.5"/>
<circle cx="636.4" cy="1868.2" r="6.5" fill="none" stroke="#2EEE2E" stroke-width="2.5"/>
<circle cx="639.4" cy="1870.0" r="5.2" fill="none" stroke="#2EEE2E" stroke-width="2.5"/>
<circle cx="640.9" cy="1888.5" r="5.7" fill="none" stroke="#2EEE2E" stroke-width="2.5"/>
<circle cx="660.9" cy="1886.8" r="4.4" fill="none" stroke="#2EEE2E" stroke-width="2.5"/>
<circle cx="322.8" cy="2069.8" r="5.0" fill="none" stroke="#2EEE2E" stroke-width="2.5"/>
<circle cx="334.8" cy="2081.2" r="5.3" fill="none" stroke="#2EEE2E" stroke-width="2.5"/>
<circle cx="318.9" cy="2091.8" r="6.9" fill="none" stroke="#2EEE2E" stroke-width="2.5"/>
<circle cx="309.1" cy="2078.4" r="6.0" fill="none" stroke="#2EEE2E" stroke-width="2.5"/>
<circle cx="301.6" cy="2093.9" r="5.7" fill="none" stroke="#2EEE2E" stroke-width="2.5"/>
<circle cx="286.0" cy="2081.0" r="4.0" fill="none" stroke="#2EEE2E" stroke-width="2.5"/>
<circle cx="298.8" cy="2070.8" r="6.5" fill="none" stroke="#2EEE2E" stroke-width="2.5"/>
<circle cx="287.8" cy="2059.5" r="4.1" fill="none" stroke="#2EEE2E" stroke-width="2.5"/>
<circle cx="299.9" cy="2051.7" r="6.2" fill="none" stroke="#2EEE2E" stroke-width="2.5"/>
<circle cx="309.7" cy="2056.1" r="6.6" fill="none" stroke="#2EEE2E" stroke-width="2.5"/>
<circle cx="319.6" cy="2047.3" r="4.5" fill="none" stroke="#2EEE2E" stroke-width="2.5"/>
<circle cx="326.6" cy="2057.6" r="5.9" fill="none" stroke="#2EEE2E" stroke-width="2.5"/>
<circle cx="300.9" cy="2135.1" r="4.8" fill="none" stroke="#2EEE2E" stroke-width="2.5"/>
<circle cx="306.1" cy="2153.5" r="6.1" fill="none" stroke="#2EEE2E" stroke-width="2.5"/>
<circle cx="302.3" cy="2155.3" r="6.4" fill="none" stroke="#2EEE2E" stroke-width="2.5"/>
<circle cx="285.6" cy="2144.5" r="6.6" fill="none" stroke="#2EEE2E" stroke-width="2.5"/>
<circle cx="274.9" cy="2161.4" r="5.2" fill="none" stroke="#2EEE2E" stroke-width="2.5"/>
<circle cx="263.4" cy="2148.6" r="6.5" fill="none" stroke="#2EEE2E" stroke-width="2.5"/>
<circle cx="275.9" cy="2136.6" r="6.9" fill="none" stroke="#2EEE2E" stroke-width="2.5"/>
<circle cx="267.7" cy="2121.9" r="6.4" fill="none" stroke="#2EEE2E" stroke-width="2.5"/>
<circle cx="277.0" cy="2112.1" r="6.4" fill="none" stroke="#2EEE2E" stroke-width="2.5"/>
<circle cx="287.4" cy="2127.4" r="5.5" fill="none" stroke="#2EEE2E" stroke-width="2.5"/>
<circle cx="294.8" cy="2114.0" r="6.5" fill="none" stroke="#2EEE2E" stroke-width="2.5"/>
<circle cx="310.3" cy="2124.6" r="6.6" fill="none" stroke="#2EEE2E" stroke-width="2.5"/>
</g>
<clipPath id="cp4"><rect x="764.10" y="1805.20" width="624.90" height="445.20"/></clipPath>
<g clip-path="url(#cp4)">
<rect x="764.10" y="1805.20" width="624.90" height="445.20" fill="#595959"/>
<circle cx="957.9" cy="1826.0" r="14.7" fill="url(#gK)"/>
<circle cx="919.5" cy="1839.9" r="14.7" fill="url(#gK)"/>
<circle cx="933.4" cy="1873.1" r="12.2" fill="url(#gK)"/>
<circle cx="1109.8" cy="1901.1" r="14.7" fill="url(#gK)"/>
<circle cx="1113.3" cy="1934.3" r="14.0" fill="url(#gK)"/>
<circle cx="1080.1" cy="1946.5" r="14.0" fill="url(#gK)"/>
<circle cx="1076.7" cy="2063.5" r="14.0" fill="url(#gK)"/>
<circle cx="1090.6" cy="2180.5" r="14.0" fill="url(#gK)"/>
<circle cx="1106.3" cy="2213.7" r="14.0" fill="url(#gK)"/>
<circle cx="1218.1" cy="2150.8" r="14.0" fill="url(#gK)"/>
<circle cx="1300.2" cy="2002.4" r="12.2" fill="url(#gK)"/>
<circle cx="1322.9" cy="1997.1" r="14.0" fill="url(#gK)"/>
<ellipse cx="1260.1" cy="2145.6" rx="14.0" ry="17.5" fill="url(#gK)"/>
<ellipse cx="1130.8" cy="2077.5" rx="27.9" ry="14.0" fill="url(#gK)"/>
<circle cx="1295.0" cy="1824.2" r="10.5" fill="url(#gK)"/>
<ellipse cx="1263.5" cy="2199.7" rx="14.0" ry="21.0" fill="url(#gK)"/>
<circle cx="1260.1" cy="1923.8" r="21.0" fill="url(#gK)"/>
<ellipse cx="1183.2" cy="1958.7" rx="27.9" ry="24.5" fill="url(#gK)"/>
<ellipse cx="805.9" cy="2126.4" rx="21.0" ry="17.5" fill="url(#gK)"/>
<circle cx="959.6" cy="2042.5" r="14.0" fill="url(#gK)"/>
<circle cx="1364.9" cy="2185.8" r="12.2" fill="url(#gK)"/>
<ellipse cx="987.6" cy="1860.9" rx="17.5" ry="15.7" fill="#8A8A8A"/>
<ellipse cx="840.9" cy="2091.5" rx="24.5" ry="15.7" fill="#8A8A8A"/>
<ellipse cx="809.4" cy="1888.8" rx="14.0" ry="21.0" fill="#8A8A8A"/>
<circle cx="847.8" cy="1822.5" r="13.3" fill="#4A4834" stroke="#A8A020" stroke-width="2.5"/>
<circle cx="1123.8" cy="1862.6" r="14.0" fill="#4A4834" stroke="#A8A020" stroke-width="2.5"/>
<circle cx="1029.5" cy="2039.1" r="14.0" fill="#4A4834" stroke="#A8A020" stroke-width="2.5"/>
<circle cx="1326.4" cy="2081.0" r="14.0" fill="#4A4834" stroke="#A8A020" stroke-width="2.5"/>
<ellipse cx="785.0" cy="1829.5" rx="15.7" ry="14.0" fill="#4A4834" stroke="#A8A020" stroke-width="2.5"/>
<ellipse cx="875.8" cy="1887.1" rx="21.0" ry="14.0" fill="#4A4834" stroke="#A8A020" stroke-width="2.5"/>
<ellipse cx="785.0" cy="1993.6" rx="17.5" ry="14.0" fill="#4A4834" stroke="#A8A020" stroke-width="2.5"/>
<ellipse cx="778.0" cy="2119.4" rx="14.0" ry="21.0" fill="#4A4834" stroke="#A8A020" stroke-width="2.5"/>
<circle cx="984.1" cy="1909.8" r="14.0" fill="#46442C" stroke="#E2DA10" stroke-width="3"/>
<circle cx="888.0" cy="1943.0" r="13.3" fill="#46442C" stroke="#E2DA10" stroke-width="3"/>
<circle cx="935.2" cy="1962.2" r="14.0" fill="#46442C" stroke="#E2DA10" stroke-width="3"/>
<circle cx="1209.4" cy="2184.0" r="13.3" fill="#4A4834" stroke="#A8A020" stroke-width="2.5"/>
<circle cx="1116.8" cy="2170.1" r="14.0" fill="#4A4834" stroke="#A8A020" stroke-width="2.5"/>
<circle cx="1343.9" cy="2129.9" r="14.0" fill="#4A4834" stroke="#A8A020" stroke-width="2.5"/>
<circle cx="1022.5" cy="2206.7" r="14.0" fill="#4A4834" stroke="#A8A020" stroke-width="2.5"/>
<circle cx="1036.5" cy="1839.9" r="15.7" fill="#3E4A4C" stroke="#26E6EE" stroke-width="5"/>
<circle cx="1191.9" cy="2128.1" r="15.7" fill="#3E4A4C" stroke="#26E6EE" stroke-width="5"/>
<circle cx="935.2" cy="2192.8" r="17.5" fill="#3E4A4C" stroke="#26E6EE" stroke-width="5"/>
<path d="M1362.4,2192.8C1362,2194 1362,2195 1362,2197C1361,2198 1361,2199 1360,2201C1360,2202 1359,2204 1357,2205C1356,2206 1353,2207 1351,2208C1349,2208 1346,2208 1344,2208C1342,2208 1339,2207 1337,2206C1335,2206 1333,2205 1331,2204C1330,2203 1328,2202 1328,2201C1327,2199 1327,2198 1327,2196C1326,2195 1326,2194 1325,2193C1324,2191 1323,2190 1323,2188C1323,2187 1324,2185 1325,2184C1327,2183 1330,2182 1332,2181C1334,2181 1335,2180 1337,2180C1340,2179 1342,2178 1344,2178C1346,2178 1348,2179 1351,2179C1353,2179 1355,2180 1357,2181C1358,2182 1360,2183 1361,2184C1362,2186 1363,2187 1363,2189C1363,2190 1363,2191 1362,2193Z" fill="#28D8E0" stroke="#30F0F8" stroke-width="2" stroke-linejoin="round"/>
<path d="M1239.6,1892.3C1240,1896 1240,1899 1239,1903C1239,1906 1237,1910 1235,1912C1232,1915 1229,1917 1226,1919C1223,1921 1220,1922 1217,1923C1213,1925 1210,1926 1206,1926C1202,1927 1198,1926 1195,1925C1191,1924 1188,1921 1185,1919C1183,1917 1180,1914 1178,1911C1177,1908 1175,1905 1174,1902C1173,1899 1172,1896 1172,1892C1171,1889 1171,1885 1171,1882C1172,1878 1174,1875 1176,1872C1179,1869 1182,1867 1185,1865C1188,1863 1192,1862 1195,1861C1199,1860 1202,1860 1206,1860C1209,1860 1213,1861 1216,1862C1220,1863 1224,1863 1227,1865C1230,1867 1233,1869 1235,1872C1237,1875 1238,1879 1239,1882C1239,1886 1239,1889 1240,1892Z" fill="#5C665C" filter="url(#fG)"/><path d="M1239.6,1892.3C1240,1896 1240,1899 1239,1903C1239,1906 1237,1910 1235,1912C1232,1915 1229,1917 1226,1919C1223,1921 1220,1922 1217,1923C1213,1925 1210,1926 1206,1926C1202,1927 1198,1926 1195,1925C1191,1924 1188,1921 1185,1919C1183,1917 1180,1914 1178,1911C1177,1908 1175,1905 1174,1902C1173,1899 1172,1896 1172,1892C1171,1889 1171,1885 1171,1882C1172,1878 1174,1875 1176,1872C1179,1869 1182,1867 1185,1865C1188,1863 1192,1862 1195,1861C1199,1860 1202,1860 1206,1860C1209,1860 1213,1861 1216,1862C1220,1863 1224,1863 1227,1865C1230,1867 1233,1869 1235,1872C1237,1875 1238,1879 1239,1882C1239,1886 1239,1889 1240,1892Z" fill="none" stroke="#38EE38" stroke-width="3.5" stroke-linejoin="round"/>
<path d="M1221.5,1951.7C1221,1955 1221,1958 1220,1960C1220,1963 1218,1966 1217,1968C1215,1971 1212,1972 1210,1974C1207,1975 1205,1976 1202,1977C1199,1978 1196,1979 1194,1979C1191,1979 1188,1979 1185,1978C1182,1977 1179,1976 1177,1975C1174,1973 1172,1971 1170,1969C1168,1966 1167,1963 1166,1961C1166,1958 1166,1955 1166,1952C1166,1949 1166,1946 1167,1943C1168,1940 1169,1938 1171,1935C1173,1933 1175,1931 1178,1929C1180,1928 1183,1927 1185,1926C1188,1925 1191,1924 1194,1924C1197,1924 1199,1925 1202,1925C1205,1926 1208,1927 1210,1929C1213,1930 1215,1932 1217,1935C1219,1937 1220,1940 1221,1943C1222,1946 1222,1949 1222,1952Z" fill="#5C665C" filter="url(#fG)"/><path d="M1221.5,1951.7C1221,1955 1221,1958 1220,1960C1220,1963 1218,1966 1217,1968C1215,1971 1212,1972 1210,1974C1207,1975 1205,1976 1202,1977C1199,1978 1196,1979 1194,1979C1191,1979 1188,1979 1185,1978C1182,1977 1179,1976 1177,1975C1174,1973 1172,1971 1170,1969C1168,1966 1167,1963 1166,1961C1166,1958 1166,1955 1166,1952C1166,1949 1166,1946 1167,1943C1168,1940 1169,1938 1171,1935C1173,1933 1175,1931 1178,1929C1180,1928 1183,1927 1185,1926C1188,1925 1191,1924 1194,1924C1197,1924 1199,1925 1202,1925C1205,1926 1208,1927 1210,1929C1213,1930 1215,1932 1217,1935C1219,1937 1220,1940 1221,1943C1222,1946 1222,1949 1222,1952Z" fill="none" stroke="#38EE38" stroke-width="3.5" stroke-linejoin="round"/>
<ellipse cx="1242.6" cy="1944.7" rx="26.2" ry="31.4" fill="#B24EB2" filter="url(#fX)"/><ellipse cx="1242.6" cy="1944.7" rx="26.2" ry="31.4" fill="none" stroke="#F0FAEE" stroke-width="3.5"/>
<ellipse cx="1357.9" cy="1874.9" rx="22.7" ry="26.2" fill="#D890D8" filter="url(#fW)"/><ellipse cx="1357.9" cy="1874.9" rx="22.7" ry="26.2" fill="none" stroke="#F4FFF2" stroke-width="4"/>
<ellipse cx="1193.7" cy="1822.5" rx="24.5" ry="19.2" fill="#F03CF0" filter="url(#fM)"/><ellipse cx="1193.7" cy="1822.5" rx="24.5" ry="19.2" fill="none" stroke="#FCF4FC" stroke-width="3.2"/>
<path d="M1379.0,1812.0C1379,1813 1379,1814 1378,1815C1377,1816 1376,1817 1375,1818C1374,1819 1372,1820 1370,1821C1369,1821 1367,1822 1364,1822C1362,1822 1360,1823 1358,1823C1356,1822 1353,1822 1351,1822C1349,1822 1347,1821 1346,1820C1344,1820 1342,1819 1341,1818C1340,1817 1339,1816 1338,1815C1338,1814 1338,1813 1338,1812C1338,1811 1338,1810 1338,1809C1339,1808 1339,1807 1340,1806C1342,1805 1343,1804 1345,1803C1347,1803 1349,1802 1351,1802C1353,1801 1356,1801 1358,1801C1360,1801 1362,1801 1364,1802C1366,1802 1368,1803 1370,1804C1371,1805 1373,1805 1374,1806C1375,1807 1377,1808 1377,1809C1378,1810 1379,1811 1379,1812Z" fill="#5C665C" filter="url(#fG)"/><path d="M1379.0,1812.0C1379,1813 1379,1814 1378,1815C1377,1816 1376,1817 1375,1818C1374,1819 1372,1820 1370,1821C1369,1821 1367,1822 1364,1822C1362,1822 1360,1823 1358,1823C1356,1822 1353,1822 1351,1822C1349,1822 1347,1821 1346,1820C1344,1820 1342,1819 1341,1818C1340,1817 1339,1816 1338,1815C1338,1814 1338,1813 1338,1812C1338,1811 1338,1810 1338,1809C1339,1808 1339,1807 1340,1806C1342,1805 1343,1804 1345,1803C1347,1803 1349,1802 1351,1802C1353,1801 1356,1801 1358,1801C1360,1801 1362,1801 1364,1802C1366,1802 1368,1803 1370,1804C1371,1805 1373,1805 1374,1806C1375,1807 1377,1808 1377,1809C1378,1810 1379,1811 1379,1812Z" fill="none" stroke="#38EE38" stroke-width="3.5" stroke-linejoin="round"/>
<ellipse cx="1218.1" cy="2056.5" rx="45.4" ry="31.4" fill="#D890D8" filter="url(#fW)"/><ellipse cx="1218.1" cy="2056.5" rx="45.4" ry="31.4" fill="none" stroke="#F4FFF2" stroke-width="4"/>
<ellipse cx="1249.6" cy="2070.5" rx="21.0" ry="27.9" fill="#B24EB2" filter="url(#fX)"/><ellipse cx="1249.6" cy="2070.5" rx="21.0" ry="27.9" fill="none" stroke="#F0FAEE" stroke-width="3.5"/>
<circle cx="1221.6" cy="2014.6" r="12.2" fill="none" stroke="#30F030" stroke-width="3"/>
<circle cx="1298.5" cy="1983.2" r="10.5" fill="none" stroke="#30F030" stroke-width="3"/>
<circle cx="1274.0" cy="2108.9" r="7.7" fill="none" stroke="#30F030" stroke-width="3"/>
<circle cx="858.3" cy="2227.7" r="7.0" fill="none" stroke="#30F030" stroke-width="3"/>
<ellipse cx="823.4" cy="2178.8" rx="55.9" ry="34.9" fill="#A068A0" filter="url(#fX)"/><ellipse cx="823.4" cy="2178.8" rx="55.9" ry="34.9" fill="none" stroke="#3CF03C" stroke-width="4"/>
<path d="M944.3,2070.5C945,2074 945,2078 944,2082C943,2086 942,2090 941,2094C939,2097 937,2100 934,2102C932,2104 929,2106 926,2107C924,2108 921,2109 918,2109C915,2109 912,2109 909,2108C906,2107 903,2106 900,2103C898,2101 896,2097 895,2094C893,2090 892,2086 892,2082C891,2078 891,2074 891,2070C891,2067 892,2063 893,2059C894,2056 894,2052 896,2049C897,2045 899,2041 901,2038C903,2036 906,2033 909,2032C911,2031 915,2030 918,2031C921,2031 924,2032 927,2033C929,2034 932,2036 934,2039C937,2041 939,2045 940,2048C941,2052 942,2056 943,2059C944,2063 944,2067 944,2070Z" fill="#5C665C" filter="url(#fG)"/><path d="M944.3,2070.5C945,2074 945,2078 944,2082C943,2086 942,2090 941,2094C939,2097 937,2100 934,2102C932,2104 929,2106 926,2107C924,2108 921,2109 918,2109C915,2109 912,2109 909,2108C906,2107 903,2106 900,2103C898,2101 896,2097 895,2094C893,2090 892,2086 892,2082C891,2078 891,2074 891,2070C891,2067 892,2063 893,2059C894,2056 894,2052 896,2049C897,2045 899,2041 901,2038C903,2036 906,2033 909,2032C911,2031 915,2030 918,2031C921,2031 924,2032 927,2033C929,2034 932,2036 934,2039C937,2041 939,2045 940,2048C941,2052 942,2056 943,2059C944,2063 944,2067 944,2070Z" fill="none" stroke="#38EE38" stroke-width="3.5" stroke-linejoin="round"/>
<ellipse cx="943.9" cy="2070.5" rx="24.5" ry="22.7" fill="#A068A0" filter="url(#fX)"/><ellipse cx="943.9" cy="2070.5" rx="24.5" ry="22.7" fill="none" stroke="#3CF03C" stroke-width="4"/>
<ellipse cx="1074.9" cy="2101.9" rx="24.5" ry="21.0" fill="#D890D8" filter="url(#fW)"/><ellipse cx="1074.9" cy="2101.9" rx="24.5" ry="21.0" fill="none" stroke="#F4FFF2" stroke-width="4"/>
<ellipse cx="1029.5" cy="2098.4" rx="27.9" ry="26.2" fill="#F03CF0" filter="url(#fM)"/><ellipse cx="1029.5" cy="2098.4" rx="27.9" ry="26.2" fill="none" stroke="#FCF4FC" stroke-width="3.2"/>
<ellipse cx="1064.4" cy="2136.9" rx="29.7" ry="26.2" fill="#F03CF0" filter="url(#fM)"/><ellipse cx="1064.4" cy="2136.9" rx="29.7" ry="26.2" fill="none" stroke="#FCF4FC" stroke-width="3.2"/>
<circle cx="957.9" cy="2140.4" r="26.2" fill="#F03CF0" filter="url(#fM)"/><circle cx="957.9" cy="2140.4" r="26.2" fill="none" stroke="#FCF4FC" stroke-width="3.2"/>
<ellipse cx="1013.8" cy="2161.3" rx="31.4" ry="27.9" fill="#D890D8" filter="url(#fW)"/><ellipse cx="1013.8" cy="2161.3" rx="31.4" ry="27.9" fill="none" stroke="#F4FFF2" stroke-width="4"/>
<ellipse cx="781.5" cy="1930.8" rx="24.5" ry="26.2" fill="#F03CF0" filter="url(#fM)"/><ellipse cx="781.5" cy="1930.8" rx="24.5" ry="26.2" fill="none" stroke="#FCF4FC" stroke-width="3.2"/>
<circle cx="819.9" cy="2037.3" r="34.9" fill="#F03CF0" filter="url(#fM)"/><circle cx="819.9" cy="2037.3" r="34.9" fill="none" stroke="#FCF4FC" stroke-width="3.2"/>
<ellipse cx="1333.4" cy="1946.5" rx="29.7" ry="26.2" fill="#F03CF0" filter="url(#fM)"/><ellipse cx="1333.4" cy="1946.5" rx="29.7" ry="26.2" fill="none" stroke="#FCF4FC" stroke-width="3.2"/>
<ellipse cx="767.5" cy="2091.5" rx="14.0" ry="31.4" fill="#D890D8" filter="url(#fW)"/><ellipse cx="767.5" cy="2091.5" rx="14.0" ry="31.4" fill="none" stroke="#F4FFF2" stroke-width="4"/>
<circle cx="1150.0" cy="2048.5" r="7.0" fill="#F03CF0"/>
<circle cx="1074.9" cy="1976.2" r="5.2" fill="#F03CF0"/>
<circle cx="881.0" cy="1986.7" r="2.8" fill="#F03CF0"/>
<circle cx="852.7" cy="2177.5" r="3.9" fill="none" stroke="#2EEE2E" stroke-width="2.5"/>
<circle cx="875.1" cy="2190.8" r="7.0" fill="none" stroke="#2EEE2E" stroke-width="2.5"/>
<circle cx="868.4" cy="2185.2" r="4.0" fill="none" stroke="#2EEE2E" stroke-width="2.5"/>
<circle cx="834.9" cy="2181.4" r="6.0" fill="none" stroke="#2EEE2E" stroke-width="2.5"/>
<circle cx="869.5" cy="2197.8" r="6.2" fill="none" stroke="#2EEE2E" stroke-width="2.5"/>
<circle cx="857.5" cy="2198.0" r="4.9" fill="none" stroke="#2EEE2E" stroke-width="2.5"/>
<circle cx="845.4" cy="2192.0" r="4.4" fill="none" stroke="#2EEE2E" stroke-width="2.5"/>
<circle cx="855.6" cy="2208.0" r="5.2" fill="none" stroke="#2EEE2E" stroke-width="2.5"/>
<circle cx="831.1" cy="2214.9" r="5.9" fill="none" stroke="#2EEE2E" stroke-width="2.5"/>
<circle cx="827.4" cy="2188.5" r="4.6" fill="none" stroke="#2EEE2E" stroke-width="2.5"/>
<circle cx="818.6" cy="2210.8" r="4.8" fill="none" stroke="#2EEE2E" stroke-width="2.5"/>
<circle cx="825.1" cy="2209.5" r="5.1" fill="none" stroke="#2EEE2E" stroke-width="2.5"/>
<circle cx="820.7" cy="2190.6" r="4.8" fill="none" stroke="#2EEE2E" stroke-width="2.5"/>
<circle cx="802.0" cy="2207.8" r="5.6" fill="none" stroke="#2EEE2E" stroke-width="2.5"/>
<circle cx="790.4" cy="2200.5" r="4.1" fill="none" stroke="#2EEE2E" stroke-width="2.5"/>
<circle cx="811.9" cy="2187.4" r="5.7" fill="none" stroke="#2EEE2E" stroke-width="2.5"/>
<circle cx="784.9" cy="2196.9" r="4.1" fill="none" stroke="#2EEE2E" stroke-width="2.5"/>
<circle cx="774.7" cy="2190.8" r="5.8" fill="none" stroke="#2EEE2E" stroke-width="2.5"/>
<circle cx="788.2" cy="2184.1" r="4.0" fill="none" stroke="#2EEE2E" stroke-width="2.5"/>
<circle cx="775.3" cy="2187.6" r="6.0" fill="none" stroke="#2EEE2E" stroke-width="2.5"/>
<circle cx="772.9" cy="2178.7" r="4.8" fill="none" stroke="#2EEE2E" stroke-width="2.5"/>
<circle cx="786.7" cy="2177.5" r="6.9" fill="none" stroke="#2EEE2E" stroke-width="2.5"/>
<circle cx="775.9" cy="2169.0" r="4.2" fill="none" stroke="#2EEE2E" stroke-width="2.5"/>
<circle cx="783.0" cy="2164.4" r="5.8" fill="none" stroke="#2EEE2E" stroke-width="2.5"/>
<circle cx="801.9" cy="2170.6" r="6.6" fill="none" stroke="#2EEE2E" stroke-width="2.5"/>
<circle cx="784.8" cy="2157.7" r="4.8" fill="none" stroke="#2EEE2E" stroke-width="2.5"/>
<circle cx="790.4" cy="2150.2" r="5.4" fill="none" stroke="#2EEE2E" stroke-width="2.5"/>
<circle cx="816.8" cy="2164.6" r="5.3" fill="none" stroke="#2EEE2E" stroke-width="2.5"/>
<circle cx="810.6" cy="2147.7" r="6.0" fill="none" stroke="#2EEE2E" stroke-width="2.5"/>
<circle cx="813.0" cy="2151.9" r="5.2" fill="none" stroke="#2EEE2E" stroke-width="2.5"/>
<circle cx="820.1" cy="2167.1" r="5.7" fill="none" stroke="#2EEE2E" stroke-width="2.5"/>
<circle cx="836.4" cy="2143.9" r="6.0" fill="none" stroke="#2EEE2E" stroke-width="2.5"/>
<circle cx="839.3" cy="2149.8" r="5.3" fill="none" stroke="#2EEE2E" stroke-width="2.5"/>
<circle cx="828.8" cy="2170.2" r="5.5" fill="none" stroke="#2EEE2E" stroke-width="2.5"/>
<circle cx="853.4" cy="2155.2" r="6.2" fill="none" stroke="#2EEE2E" stroke-width="2.5"/>
<circle cx="857.5" cy="2157.6" r="6.5" fill="none" stroke="#2EEE2E" stroke-width="2.5"/>
<circle cx="836.5" cy="2169.8" r="4.9" fill="none" stroke="#2EEE2E" stroke-width="2.5"/>
<circle cx="866.5" cy="2167.1" r="6.9" fill="none" stroke="#2EEE2E" stroke-width="2.5"/>
<circle cx="867.7" cy="2164.4" r="5.3" fill="none" stroke="#2EEE2E" stroke-width="2.5"/>
<circle cx="842.2" cy="2178.1" r="4.4" fill="none" stroke="#2EEE2E" stroke-width="2.5"/>
<circle cx="1227.6" cy="1894.4" r="5.7" fill="none" stroke="#2EEE2E" stroke-width="2.5"/>
<circle cx="1234.5" cy="1904.0" r="5.3" fill="none" stroke="#2EEE2E" stroke-width="2.5"/>
<circle cx="1231.3" cy="1905.0" r="6.4" fill="none" stroke="#2EEE2E" stroke-width="2.5"/>
<circle cx="1213.4" cy="1896.7" r="6.7" fill="none" stroke="#2EEE2E" stroke-width="2.5"/>
<circle cx="1222.7" cy="1914.6" r="6.6" fill="none" stroke="#2EEE2E" stroke-width="2.5"/>
<circle cx="1220.7" cy="1919.0" r="3.9" fill="none" stroke="#2EEE2E" stroke-width="2.5"/>
<circle cx="1210.1" cy="1907.2" r="6.0" fill="none" stroke="#2EEE2E" stroke-width="2.5"/>
<circle cx="1206.9" cy="1925.2" r="5.9" fill="none" stroke="#2EEE2E" stroke-width="2.5"/>
<circle cx="1190.7" cy="1923.8" r="5.4" fill="none" stroke="#2EEE2E" stroke-width="2.5"/>
<circle cx="1202.6" cy="1899.7" r="6.6" fill="none" stroke="#2EEE2E" stroke-width="2.5"/>
<circle cx="1186.8" cy="1914.4" r="5.9" fill="none" stroke="#2EEE2E" stroke-width="2.5"/>
<circle cx="1174.0" cy="1904.8" r="5.6" fill="none" stroke="#2EEE2E" stroke-width="2.5"/>
<circle cx="1183.2" cy="1899.3" r="3.9" fill="none" stroke="#2EEE2E" stroke-width="2.5"/>
<circle cx="1169.5" cy="1895.7" r="4.4" fill="none" stroke="#2EEE2E" stroke-width="2.5"/>
<circle cx="1175.2" cy="1880.7" r="5.8" fill="none" stroke="#2EEE2E" stroke-width="2.5"/>
<circle cx="1192.5" cy="1884.7" r="6.5" fill="none" stroke="#2EEE2E" stroke-width="2.5"/>
<circle cx="1180.2" cy="1877.4" r="6.3" fill="none" stroke="#2EEE2E" stroke-width="2.5"/>
<circle cx="1189.6" cy="1864.6" r="6.0" fill="none" stroke="#2EEE2E" stroke-width="2.5"/>
<circle cx="1198.0" cy="1876.6" r="5.6" fill="none" stroke="#2EEE2E" stroke-width="2.5"/>
<circle cx="1206.1" cy="1864.1" r="4.7" fill="none" stroke="#2EEE2E" stroke-width="2.5"/>
<circle cx="1207.4" cy="1864.4" r="6.1" fill="none" stroke="#2EEE2E" stroke-width="2.5"/>
<circle cx="1208.9" cy="1884.7" r="6.6" fill="none" stroke="#2EEE2E" stroke-width="2.5"/>
<circle cx="1226.1" cy="1865.0" r="6.2" fill="none" stroke="#2EEE2E" stroke-width="2.5"/>
<circle cx="1227.9" cy="1872.2" r="5.6" fill="none" stroke="#2EEE2E" stroke-width="2.5"/>
<circle cx="1226.9" cy="1886.0" r="6.9" fill="none" stroke="#2EEE2E" stroke-width="2.5"/>
<circle cx="1237.7" cy="1885.8" r="4.8" fill="none" stroke="#2EEE2E" stroke-width="2.5"/>
<circle cx="1240.7" cy="2056.8" r="6.2" fill="none" stroke="#2EEE2E" stroke-width="2.5"/>
<circle cx="1260.1" cy="2069.7" r="4.6" fill="none" stroke="#2EEE2E" stroke-width="2.5"/>
<circle cx="1247.3" cy="2071.5" r="4.7" fill="none" stroke="#2EEE2E" stroke-width="2.5"/>
<circle cx="1224.0" cy="2061.7" r="6.6" fill="none" stroke="#2EEE2E" stroke-width="2.5"/>
<circle cx="1233.5" cy="2081.1" r="5.2" fill="none" stroke="#2EEE2E" stroke-width="2.5"/>
<circle cx="1219.7" cy="2082.1" r="6.7" fill="none" stroke="#2EEE2E" stroke-width="2.5"/>
<circle cx="1213.7" cy="2071.6" r="4.4" fill="none" stroke="#2EEE2E" stroke-width="2.5"/>
<circle cx="1200.6" cy="2080.2" r="4.1" fill="none" stroke="#2EEE2E" stroke-width="2.5"/>
<circle cx="1188.3" cy="2074.8" r="6.3" fill="none" stroke="#2EEE2E" stroke-width="2.5"/>
<circle cx="1199.1" cy="2065.2" r="5.1" fill="none" stroke="#2EEE2E" stroke-width="2.5"/>
<circle cx="1174.1" cy="2061.4" r="5.1" fill="none" stroke="#2EEE2E" stroke-width="2.5"/>
<circle cx="1179.5" cy="2055.9" r="6.7" fill="none" stroke="#2EEE2E" stroke-width="2.5"/>
<circle cx="1195.4" cy="2052.1" r="5.6" fill="none" stroke="#2EEE2E" stroke-width="2.5"/>
<circle cx="1182.1" cy="2045.5" r="6.3" fill="none" stroke="#2EEE2E" stroke-width="2.5"/>
<circle cx="1194.1" cy="2035.6" r="4.4" fill="none" stroke="#2EEE2E" stroke-width="2.5"/>
<circle cx="1210.2" cy="2037.2" r="6.6" fill="none" stroke="#2EEE2E" stroke-width="2.5"/>
<circle cx="1206.9" cy="2028.2" r="5.2" fill="none" stroke="#2EEE2E" stroke-width="2.5"/>
<circle cx="1222.6" cy="2028.8" r="5.9" fill="none" stroke="#2EEE2E" stroke-width="2.5"/>
<circle cx="1223.1" cy="2049.5" r="4.0" fill="none" stroke="#2EEE2E" stroke-width="2.5"/>
<circle cx="1242.9" cy="2030.2" r="6.5" fill="none" stroke="#2EEE2E" stroke-width="2.5"/>
<circle cx="1252.9" cy="2043.1" r="5.5" fill="none" stroke="#2EEE2E" stroke-width="2.5"/>
<circle cx="1231.3" cy="2054.4" r="6.9" fill="none" stroke="#2EEE2E" stroke-width="2.5"/>
<circle cx="1363.1" cy="1875.9" r="4.6" fill="none" stroke="#2EEE2E" stroke-width="2.5"/>
<circle cx="1379.3" cy="1886.2" r="6.7" fill="none" stroke="#2EEE2E" stroke-width="2.5"/>
<circle cx="1365.0" cy="1897.4" r="5.6" fill="none" stroke="#2EEE2E" stroke-width="2.5"/>
<circle cx="1358.5" cy="1880.8" r="5.8" fill="none" stroke="#2EEE2E" stroke-width="2.5"/>
<circle cx="1345.6" cy="1898.1" r="6.7" fill="none" stroke="#2EEE2E" stroke-width="2.5"/>
<circle cx="1341.5" cy="1885.3" r="5.6" fill="none" stroke="#2EEE2E" stroke-width="2.5"/>
<circle cx="1347.3" cy="1872.8" r="5.9" fill="none" stroke="#2EEE2E" stroke-width="2.5"/>
<circle cx="1339.7" cy="1862.7" r="5.2" fill="none" stroke="#2EEE2E" stroke-width="2.5"/>
<circle cx="1345.4" cy="1855.4" r="6.3" fill="none" stroke="#2EEE2E" stroke-width="2.5"/>
<circle cx="1358.4" cy="1868.9" r="4.5" fill="none" stroke="#2EEE2E" stroke-width="2.5"/>
<circle cx="1364.4" cy="1854.6" r="3.9" fill="none" stroke="#2EEE2E" stroke-width="2.5"/>
<circle cx="1375.6" cy="1865.5" r="5.9" fill="none" stroke="#2EEE2E" stroke-width="2.5"/>
<circle cx="947.3" cy="2071.5" r="4.6" fill="none" stroke="#2EEE2E" stroke-width="2.5"/>
<circle cx="962.2" cy="2076.9" r="6.9" fill="none" stroke="#2EEE2E" stroke-width="2.5"/>
<circle cx="954.2" cy="2094.5" r="4.4" fill="none" stroke="#2EEE2E" stroke-width="2.5"/>
<circle cx="942.4" cy="2083.4" r="4.1" fill="none" stroke="#2EEE2E" stroke-width="2.5"/>
<circle cx="930.2" cy="2096.5" r="6.8" fill="none" stroke="#2EEE2E" stroke-width="2.5"/>
<circle cx="919.7" cy="2086.3" r="6.4" fill="none" stroke="#2EEE2E" stroke-width="2.5"/>
<circle cx="927.2" cy="2077.0" r="4.1" fill="none" stroke="#2EEE2E" stroke-width="2.5"/>
<circle cx="914.8" cy="2074.0" r="5.0" fill="none" stroke="#2EEE2E" stroke-width="2.5"/>
<circle cx="914.8" cy="2057.6" r="4.4" fill="none" stroke="#2EEE2E" stroke-width="2.5"/>
<circle cx="930.4" cy="2062.7" r="4.2" fill="none" stroke="#2EEE2E" stroke-width="2.5"/>
<circle cx="927.8" cy="2044.7" r="6.3" fill="none" stroke="#2EEE2E" stroke-width="2.5"/>
<circle cx="945.8" cy="2049.8" r="5.4" fill="none" stroke="#2EEE2E" stroke-width="2.5"/>
<circle cx="952.3" cy="2058.5" r="4.5" fill="none" stroke="#2EEE2E" stroke-width="2.5"/>
<circle cx="963.6" cy="2058.5" r="4.3" fill="none" stroke="#2EEE2E" stroke-width="2.5"/>
<circle cx="1021.7" cy="2161.6" r="6.4" fill="none" stroke="#2EEE2E" stroke-width="2.5"/>
<circle cx="1040.6" cy="2168.3" r="6.0" fill="none" stroke="#2EEE2E" stroke-width="2.5"/>
<circle cx="1036.2" cy="2183.1" r="5.9" fill="none" stroke="#2EEE2E" stroke-width="2.5"/>
<circle cx="1018.0" cy="2168.4" r="6.3" fill="none" stroke="#2EEE2E" stroke-width="2.5"/>
<circle cx="1011.4" cy="2184.9" r="6.4" fill="none" stroke="#2EEE2E" stroke-width="2.5"/>
<circle cx="1004.9" cy="2183.6" r="4.3" fill="none" stroke="#2EEE2E" stroke-width="2.5"/>
<circle cx="1000.2" cy="2174.1" r="5.5" fill="none" stroke="#2EEE2E" stroke-width="2.5"/>
<circle cx="986.8" cy="2173.6" r="3.9" fill="none" stroke="#2EEE2E" stroke-width="2.5"/>
<circle cx="983.3" cy="2158.8" r="5.3" fill="none" stroke="#2EEE2E" stroke-width="2.5"/>
<circle cx="1000.7" cy="2158.7" r="6.7" fill="none" stroke="#2EEE2E" stroke-width="2.5"/>
<circle cx="995.8" cy="2138.5" r="6.1" fill="none" stroke="#2EEE2E" stroke-width="2.5"/>
<circle cx="1008.4" cy="2137.5" r="6.6" fill="none" stroke="#2EEE2E" stroke-width="2.5"/>
<circle cx="1017.2" cy="2143.2" r="4.6" fill="none" stroke="#2EEE2E" stroke-width="2.5"/>
<circle cx="1024.7" cy="2141.1" r="4.6" fill="none" stroke="#2EEE2E" stroke-width="2.5"/>
<circle cx="1034.5" cy="2147.2" r="5.9" fill="none" stroke="#2EEE2E" stroke-width="2.5"/>
<circle cx="1033.6" cy="2151.3" r="6.8" fill="none" stroke="#2EEE2E" stroke-width="2.5"/>
<circle cx="972.3" cy="2143.1" r="7.0" fill="none" stroke="#2EEE2E" stroke-width="2.5"/>
<circle cx="982.5" cy="2150.3" r="4.2" fill="none" stroke="#2EEE2E" stroke-width="2.5"/>
<circle cx="971.7" cy="2166.6" r="6.1" fill="none" stroke="#2EEE2E" stroke-width="2.5"/>
<circle cx="955.6" cy="2159.6" r="6.6" fill="none" stroke="#2EEE2E" stroke-width="2.5"/>
<circle cx="942.8" cy="2163.9" r="4.3" fill="none" stroke="#2EEE2E" stroke-width="2.5"/>
<circle cx="935.4" cy="2156.5" r="6.1" fill="none" stroke="#2EEE2E" stroke-width="2.5"/>
<circle cx="945.0" cy="2140.9" r="4.9" fill="none" stroke="#2EEE2E" stroke-width="2.5"/>
<circle cx="937.4" cy="2125.0" r="4.9" fill="none" stroke="#2EEE2E" stroke-width="2.5"/>
<circle cx="942.7" cy="2119.7" r="6.6" fill="none" stroke="#2EEE2E" stroke-width="2.5"/>
<circle cx="957.2" cy="2133.9" r="5.0" fill="none" stroke="#2EEE2E" stroke-width="2.5"/>
<circle cx="970.9" cy="2114.5" r="5.5" fill="none" stroke="#2EEE2E" stroke-width="2.5"/>
<circle cx="979.4" cy="2128.7" r="5.1" fill="none" stroke="#2EEE2E" stroke-width="2.5"/>
</g>
<clipPath id="cp5"><rect x="1408.20" y="1805.20" width="624.90" height="445.20"/></clipPath>
<g clip-path="url(#cp5)">
<rect x="1408.20" y="1805.20" width="624.90" height="445.20" fill="#595959"/>
<circle cx="1596.6" cy="1824.2" r="14.0" fill="url(#gK)"/>
<circle cx="1645.5" cy="1822.5" r="14.0" fill="url(#gK)"/>
<circle cx="1697.9" cy="1815.5" r="12.2" fill="url(#gK)"/>
<circle cx="1729.4" cy="1866.1" r="14.0" fill="url(#gK)"/>
<circle cx="1738.1" cy="1895.8" r="14.0" fill="url(#gK)"/>
<circle cx="1802.7" cy="1852.2" r="14.0" fill="url(#gK)"/>
<circle cx="1925.0" cy="1812.0" r="10.5" fill="url(#gK)"/>
<ellipse cx="1477.9" cy="1963.9" rx="22.7" ry="21.0" fill="url(#gK)"/>
<circle cx="1593.1" cy="2018.1" r="15.7" fill="url(#gK)"/>
<circle cx="1780.0" cy="2033.8" r="21.0" fill="url(#gK)"/>
<circle cx="1778.3" cy="2072.2" r="15.7" fill="url(#gK)"/>
<circle cx="1813.2" cy="2089.7" r="14.0" fill="url(#gK)"/>
<circle cx="1767.8" cy="2140.4" r="14.0" fill="url(#gK)"/>
<circle cx="1795.8" cy="2173.5" r="14.0" fill="url(#gK)"/>
<ellipse cx="1879.6" cy="2124.6" rx="24.5" ry="21.0" fill="url(#gK)"/>
<circle cx="1921.5" cy="2094.9" r="14.0" fill="url(#gK)"/>
<circle cx="1925.0" cy="2142.1" r="14.0" fill="url(#gK)"/>
<circle cx="1951.2" cy="1995.4" r="15.7" fill="url(#gK)"/>
<ellipse cx="2008.9" cy="2026.8" rx="19.2" ry="14.0" fill="url(#gK)"/>
<circle cx="2008.9" cy="1963.9" r="15.7" fill="url(#gK)"/>
<circle cx="1830.7" cy="1970.9" r="15.7" fill="url(#gK)"/>
<circle cx="1423.7" cy="2105.4" r="14.0" fill="url(#gK)"/>
<circle cx="1635.1" cy="2182.3" r="14.0" fill="url(#gK)"/>
<circle cx="1649.0" cy="2212.0" r="17.5" fill="url(#gK)"/>
<circle cx="1507.6" cy="2232.9" r="14.0" fill="url(#gK)"/>
<circle cx="1904.1" cy="2227.7" r="15.7" fill="url(#gK)"/>
<circle cx="2015.8" cy="2192.8" r="14.0" fill="url(#gK)"/>
<circle cx="1918.0" cy="2032.1" r="14.0" fill="url(#gK)"/>
<circle cx="1858.6" cy="1832.9" r="14.0" fill="url(#gK)"/>
<circle cx="1547.7" cy="2133.4" r="21.0" fill="url(#gK)"/>
<ellipse cx="1435.9" cy="1874.9" rx="24.5" ry="9.8" transform="rotate(-20.0 1435.9 1874.9)" fill="#8A8A8A"/>
<ellipse cx="1446.4" cy="1963.9" rx="17.5" ry="10.5" fill="#8A8A8A"/>
<ellipse cx="1834.2" cy="1824.2" rx="12.2" ry="19.2" fill="#8A8A8A"/>
<circle cx="1778.3" cy="2072.2" r="14.7" fill="#3E4A4C" stroke="#26E6EE" stroke-width="5"/>
<circle cx="1886.6" cy="2025.1" r="13.3" fill="#3E4A4C" stroke="#26E6EE" stroke-width="5"/>
<path d="M1907.5,1876.6C1908,1879 1908,1883 1906,1885C1905,1888 1903,1891 1901,1893C1898,1895 1896,1897 1893,1899C1890,1901 1887,1903 1884,1904C1880,1905 1876,1906 1873,1905C1869,1905 1865,1905 1862,1903C1858,1902 1855,1901 1852,1899C1850,1897 1847,1895 1845,1893C1843,1890 1841,1888 1840,1885C1839,1882 1838,1879 1838,1877C1838,1874 1839,1871 1840,1868C1841,1865 1842,1863 1844,1860C1846,1858 1849,1855 1852,1853C1855,1852 1858,1850 1862,1850C1865,1849 1869,1849 1873,1849C1876,1849 1880,1849 1883,1850C1887,1851 1890,1852 1893,1854C1896,1856 1899,1858 1901,1860C1902,1863 1904,1866 1905,1868C1906,1871 1907,1874 1907,1877Z" fill="#5C665C" filter="url(#fG)"/><path d="M1907.5,1876.6C1908,1879 1908,1883 1906,1885C1905,1888 1903,1891 1901,1893C1898,1895 1896,1897 1893,1899C1890,1901 1887,1903 1884,1904C1880,1905 1876,1906 1873,1905C1869,1905 1865,1905 1862,1903C1858,1902 1855,1901 1852,1899C1850,1897 1847,1895 1845,1893C1843,1890 1841,1888 1840,1885C1839,1882 1838,1879 1838,1877C1838,1874 1839,1871 1840,1868C1841,1865 1842,1863 1844,1860C1846,1858 1849,1855 1852,1853C1855,1852 1858,1850 1862,1850C1865,1849 1869,1849 1873,1849C1876,1849 1880,1849 1883,1850C1887,1851 1890,1852 1893,1854C1896,1856 1899,1858 1901,1860C1902,1863 1904,1866 1905,1868C1906,1871 1907,1874 1907,1877Z" fill="none" stroke="#38EE38" stroke-width="3.5" stroke-linejoin="round"/>
<circle cx="1841.2" cy="1922.0" r="24.5" fill="#A068A0" filter="url(#fX)"/><circle cx="1841.2" cy="1922.0" r="24.5" fill="none" stroke="#3CF03C" stroke-width="4"/>
<ellipse cx="1890.1" cy="1943.0" rx="22.7" ry="24.5" fill="#A068A0" filter="url(#fX)"/><ellipse cx="1890.1" cy="1943.0" rx="22.7" ry="24.5" fill="none" stroke="#3CF03C" stroke-width="4"/>
<ellipse cx="1904.1" cy="1990.1" rx="29.7" ry="26.2" fill="#D890D8" filter="url(#fW)"/><ellipse cx="1904.1" cy="1990.1" rx="29.7" ry="26.2" fill="none" stroke="#F4FFF2" stroke-width="4"/>
<circle cx="1853.4" cy="2007.6" r="14.0" fill="none" stroke="#30F030" stroke-width="3"/>
<ellipse cx="1883.1" cy="2065.3" rx="29.7" ry="26.2" fill="#A068A0" filter="url(#fX)"/><ellipse cx="1883.1" cy="2065.3" rx="29.7" ry="26.2" fill="none" stroke="#3CF03C" stroke-width="4"/>
<ellipse cx="1855.1" cy="2096.7" rx="12.2" ry="14.0" fill="none" stroke="#30F030" stroke-width="3"/>
<ellipse cx="1573.9" cy="2065.3" rx="22.7" ry="21.0" fill="#A068A0" filter="url(#fX)"/><ellipse cx="1573.9" cy="2065.3" rx="22.7" ry="21.0" fill="none" stroke="#3CF03C" stroke-width="4"/>
<path d="M1538.1,2149.6C1540,2152 1540,2156 1539,2159C1538,2163 1533,2168 1530,2171C1526,2175 1522,2179 1517,2182C1512,2186 1507,2189 1501,2192C1496,2195 1490,2197 1484,2199C1478,2201 1473,2203 1467,2204C1461,2206 1456,2207 1450,2208C1445,2209 1439,2210 1433,2210C1428,2210 1422,2210 1418,2208C1414,2207 1411,2204 1410,2201C1409,2199 1410,2194 1412,2191C1414,2187 1418,2183 1421,2179C1425,2175 1429,2172 1433,2168C1438,2165 1443,2162 1448,2159C1453,2156 1459,2153 1464,2150C1470,2148 1477,2145 1482,2143C1488,2142 1495,2141 1500,2141C1505,2141 1509,2142 1513,2143C1517,2144 1522,2144 1526,2145C1531,2146 1536,2147 1538,2150Z" fill="#E84CE8" filter="url(#fW)"/>
<path d="M1477.4,2190.8C1478,2193 1478,2195 1477,2197C1476,2200 1474,2202 1472,2204C1471,2206 1469,2208 1467,2209C1465,2211 1463,2214 1460,2215C1457,2216 1453,2216 1450,2216C1447,2217 1444,2216 1441,2216C1438,2216 1434,2217 1431,2216C1428,2216 1424,2216 1422,2214C1419,2213 1418,2210 1417,2208C1416,2206 1415,2204 1415,2202C1415,2200 1415,2197 1416,2195C1417,2193 1419,2191 1421,2189C1422,2187 1424,2185 1426,2183C1428,2181 1430,2179 1433,2178C1436,2176 1440,2176 1443,2176C1446,2176 1449,2176 1452,2176C1455,2176 1459,2176 1462,2176C1465,2176 1469,2177 1471,2178C1474,2180 1475,2182 1476,2184C1477,2186 1477,2189 1477,2191Z" fill="#E84CE8" filter="url(#fW)"/>
<path d="M1532.4,2154.3C1532,2156 1531,2157 1530,2159C1529,2161 1530,2162 1529,2164C1528,2166 1527,2167 1525,2169C1524,2170 1521,2171 1519,2171C1517,2172 1515,2173 1513,2173C1511,2173 1508,2173 1506,2172C1504,2171 1502,2170 1500,2168C1499,2167 1498,2166 1496,2164C1495,2163 1494,2161 1493,2160C1492,2158 1492,2156 1492,2154C1492,2153 1492,2151 1493,2149C1493,2147 1494,2145 1495,2144C1497,2142 1499,2141 1501,2141C1503,2140 1505,2140 1507,2139C1509,2139 1511,2138 1513,2137C1515,2137 1517,2136 1520,2137C1522,2137 1524,2138 1526,2139C1528,2140 1530,2142 1531,2143C1532,2145 1534,2147 1534,2149C1534,2150 1533,2153 1532,2154Z" fill="#E84CE8" filter="url(#fW)"/>
<circle cx="1589.7" cy="2143.9" r="26.2" fill="#B24EB2" filter="url(#fX)"/><circle cx="1589.7" cy="2143.9" r="26.2" fill="none" stroke="#F0FAEE" stroke-width="3.5"/>
<ellipse cx="1671.7" cy="2136.9" rx="27.9" ry="27.2" fill="#B24EB2" filter="url(#fX)"/><ellipse cx="1671.7" cy="2136.9" rx="27.9" ry="27.2" fill="none" stroke="#F0FAEE" stroke-width="3.5"/>
<circle cx="1724.1" cy="2112.4" r="24.5" fill="#D890D8" filter="url(#fW)"/><circle cx="1724.1" cy="2112.4" r="24.5" fill="none" stroke="#F4FFF2" stroke-width="4"/>
<ellipse cx="1718.9" cy="2178.8" rx="31.4" ry="27.9" fill="#A068A0" filter="url(#fX)"/><ellipse cx="1718.9" cy="2178.8" rx="31.4" ry="27.9" fill="none" stroke="#3CF03C" stroke-width="4"/>
<circle cx="1558.2" cy="2185.8" r="12.2" fill="none" stroke="#30F030" stroke-width="3"/>
<circle cx="1429.0" cy="2136.9" r="7.0" fill="none" stroke="#30F030" stroke-width="3"/>
<circle cx="1449.9" cy="2136.9" r="7.0" fill="none" stroke="#30F030" stroke-width="3"/>
<ellipse cx="1423.7" cy="1920.3" rx="26.2" ry="27.9" fill="#F03CF0" filter="url(#fM)"/><ellipse cx="1423.7" cy="1920.3" rx="26.2" ry="27.9" fill="none" stroke="#FCF4FC" stroke-width="3.2"/>
<ellipse cx="1970.4" cy="1941.2" rx="34.9" ry="26.2" fill="#F03CF0" filter="url(#fM)"/><ellipse cx="1970.4" cy="1941.2" rx="34.9" ry="26.2" fill="none" stroke="#FCF4FC" stroke-width="3.2"/>
<ellipse cx="1420.2" cy="2199.7" rx="14.0" ry="17.5" fill="#F03CF0" filter="url(#fM)"/><ellipse cx="1420.2" cy="2199.7" rx="14.0" ry="17.5" fill="none" stroke="#FCF4FC" stroke-width="3.2"/>
<circle cx="1763.6" cy="2109.6" r="7.0" fill="#F03CF0"/>
<circle cx="1718.9" cy="2018.1" r="3.5" fill="none" stroke="#30F030" stroke-width="3"/>
<circle cx="1752.1" cy="2060.0" r="4.9" fill="none" stroke="#30F030" stroke-width="3"/>
<circle cx="1802.7" cy="2000.6" r="3.5" fill="none" stroke="#30F030" stroke-width="3"/>
<circle cx="1787.0" cy="1838.2" r="4.9" fill="none" stroke="#30F030" stroke-width="3"/>
<circle cx="1794.0" cy="2135.1" r="4.2" fill="none" stroke="#30F030" stroke-width="3"/>
<circle cx="1905.8" cy="2180.5" r="3.5" fill="none" stroke="#30F030" stroke-width="3"/>
<circle cx="1877.9" cy="2185.8" r="3.5" fill="none" stroke="#30F030" stroke-width="3"/>
<circle cx="1631.6" cy="2044.3" r="2.8" fill="none" stroke="#30F030" stroke-width="3"/>
<circle cx="1456.9" cy="2049.5" r="2.8" fill="none" stroke="#30F030" stroke-width="3"/>
<circle cx="1495.3" cy="1995.4" r="2.8" fill="none" stroke="#30F030" stroke-width="3"/>
<circle cx="1479.6" cy="1902.8" r="2.8" fill="none" stroke="#30F030" stroke-width="3"/>
<circle cx="1601.9" cy="2093.2" r="3.5" fill="none" stroke="#30F030" stroke-width="3"/>
<circle cx="1496.4" cy="2178.2" r="6.7" fill="none" stroke="#2EEE2E" stroke-width="2.5"/>
<circle cx="1532.4" cy="2186.0" r="6.0" fill="none" stroke="#2EEE2E" stroke-width="2.5"/>
<circle cx="1531.2" cy="2195.2" r="4.3" fill="none" stroke="#2EEE2E" stroke-width="2.5"/>
<circle cx="1491.5" cy="2185.4" r="4.3" fill="none" stroke="#2EEE2E" stroke-width="2.5"/>
<circle cx="1527.4" cy="2193.6" r="5.9" fill="none" stroke="#2EEE2E" stroke-width="2.5"/>
<circle cx="1521.3" cy="2196.3" r="5.3" fill="none" stroke="#2EEE2E" stroke-width="2.5"/>
<circle cx="1486.5" cy="2187.2" r="6.7" fill="none" stroke="#2EEE2E" stroke-width="2.5"/>
<circle cx="1519.7" cy="2210.8" r="4.5" fill="none" stroke="#2EEE2E" stroke-width="2.5"/>
<circle cx="1499.7" cy="2221.2" r="6.9" fill="none" stroke="#2EEE2E" stroke-width="2.5"/>
<circle cx="1491.8" cy="2207.8" r="6.3" fill="none" stroke="#2EEE2E" stroke-width="2.5"/>
<circle cx="1501.9" cy="2214.5" r="5.0" fill="none" stroke="#2EEE2E" stroke-width="2.5"/>
<circle cx="1487.6" cy="2217.9" r="5.4" fill="none" stroke="#2EEE2E" stroke-width="2.5"/>
<circle cx="1478.7" cy="2191.0" r="5.2" fill="none" stroke="#2EEE2E" stroke-width="2.5"/>
<circle cx="1474.5" cy="2222.5" r="3.9" fill="none" stroke="#2EEE2E" stroke-width="2.5"/>
<circle cx="1471.5" cy="2218.9" r="4.1" fill="none" stroke="#2EEE2E" stroke-width="2.5"/>
<circle cx="1467.3" cy="2202.8" r="6.9" fill="none" stroke="#2EEE2E" stroke-width="2.5"/>
<circle cx="1456.3" cy="2209.4" r="5.3" fill="none" stroke="#2EEE2E" stroke-width="2.5"/>
<circle cx="1448.4" cy="2210.0" r="5.8" fill="none" stroke="#2EEE2E" stroke-width="2.5"/>
<circle cx="1462.0" cy="2191.3" r="6.0" fill="none" stroke="#2EEE2E" stroke-width="2.5"/>
<circle cx="1433.1" cy="2203.2" r="4.9" fill="none" stroke="#2EEE2E" stroke-width="2.5"/>
<circle cx="1428.7" cy="2199.7" r="6.9" fill="none" stroke="#2EEE2E" stroke-width="2.5"/>
<circle cx="1437.7" cy="2186.9" r="6.4" fill="none" stroke="#2EEE2E" stroke-width="2.5"/>
<circle cx="1430.8" cy="2195.1" r="4.6" fill="none" stroke="#2EEE2E" stroke-width="2.5"/>
<circle cx="1419.3" cy="2185.2" r="6.1" fill="none" stroke="#2EEE2E" stroke-width="2.5"/>
<circle cx="1463.8" cy="2180.5" r="4.8" fill="none" stroke="#2EEE2E" stroke-width="2.5"/>
<circle cx="1422.0" cy="2181.1" r="4.5" fill="none" stroke="#2EEE2E" stroke-width="2.5"/>
<circle cx="1426.2" cy="2160.4" r="6.2" fill="none" stroke="#2EEE2E" stroke-width="2.5"/>
<circle cx="1452.3" cy="2171.7" r="4.3" fill="none" stroke="#2EEE2E" stroke-width="2.5"/>
<circle cx="1422.4" cy="2158.1" r="6.9" fill="none" stroke="#2EEE2E" stroke-width="2.5"/>
<circle cx="1435.5" cy="2150.4" r="4.3" fill="none" stroke="#2EEE2E" stroke-width="2.5"/>
<circle cx="1455.3" cy="2154.3" r="4.8" fill="none" stroke="#2EEE2E" stroke-width="2.5"/>
<circle cx="1448.4" cy="2148.2" r="6.6" fill="none" stroke="#2EEE2E" stroke-width="2.5"/>
<circle cx="1442.9" cy="2142.7" r="6.7" fill="none" stroke="#2EEE2E" stroke-width="2.5"/>
<circle cx="1460.1" cy="2156.2" r="4.0" fill="none" stroke="#2EEE2E" stroke-width="2.5"/>
<circle cx="1461.5" cy="2144.4" r="5.1" fill="none" stroke="#2EEE2E" stroke-width="2.5"/>
<circle cx="1473.4" cy="2142.8" r="5.5" fill="none" stroke="#2EEE2E" stroke-width="2.5"/>
<circle cx="1476.5" cy="2154.1" r="6.0" fill="none" stroke="#2EEE2E" stroke-width="2.5"/>
<circle cx="1479.7" cy="2134.9" r="4.0" fill="none" stroke="#2EEE2E" stroke-width="2.5"/>
<circle cx="1499.9" cy="2144.0" r="4.8" fill="none" stroke="#2EEE2E" stroke-width="2.5"/>
<circle cx="1490.3" cy="2164.0" r="5.2" fill="none" stroke="#2EEE2E" stroke-width="2.5"/>
<circle cx="1508.0" cy="2146.9" r="6.4" fill="none" stroke="#2EEE2E" stroke-width="2.5"/>
<circle cx="1507.5" cy="2146.7" r="4.8" fill="none" stroke="#2EEE2E" stroke-width="2.5"/>
<circle cx="1490.2" cy="2168.9" r="4.8" fill="none" stroke="#2EEE2E" stroke-width="2.5"/>
<circle cx="1524.6" cy="2148.9" r="6.2" fill="none" stroke="#2EEE2E" stroke-width="2.5"/>
<circle cx="1533.7" cy="2161.0" r="4.5" fill="none" stroke="#2EEE2E" stroke-width="2.5"/>
<circle cx="1493.9" cy="2175.7" r="4.4" fill="none" stroke="#2EEE2E" stroke-width="2.5"/>
<circle cx="1531.4" cy="2161.3" r="5.3" fill="none" stroke="#2EEE2E" stroke-width="2.5"/>
<circle cx="1528.2" cy="2176.6" r="7.0" fill="none" stroke="#2EEE2E" stroke-width="2.5"/>
<circle cx="1882.4" cy="1876.5" r="5.9" fill="none" stroke="#2EEE2E" stroke-width="2.5"/>
<circle cx="1907.1" cy="1879.6" r="4.4" fill="none" stroke="#2EEE2E" stroke-width="2.5"/>
<circle cx="1904.5" cy="1886.6" r="6.0" fill="none" stroke="#2EEE2E" stroke-width="2.5"/>
<circle cx="1879.9" cy="1881.4" r="4.4" fill="none" stroke="#2EEE2E" stroke-width="2.5"/>
<circle cx="1887.5" cy="1898.3" r="5.6" fill="none" stroke="#2EEE2E" stroke-width="2.5"/>
<circle cx="1883.4" cy="1899.1" r="4.8" fill="none" stroke="#2EEE2E" stroke-width="2.5"/>
<circle cx="1874.3" cy="1895.2" r="5.1" fill="none" stroke="#2EEE2E" stroke-width="2.5"/>
<circle cx="1873.5" cy="1898.9" r="5.5" fill="none" stroke="#2EEE2E" stroke-width="2.5"/>
<circle cx="1860.6" cy="1904.6" r="5.1" fill="none" stroke="#2EEE2E" stroke-width="2.5"/>
<circle cx="1861.6" cy="1892.5" r="6.3" fill="none" stroke="#2EEE2E" stroke-width="2.5"/>
<circle cx="1856.0" cy="1896.3" r="6.3" fill="none" stroke="#2EEE2E" stroke-width="2.5"/>
<circle cx="1846.5" cy="1894.7" r="6.1" fill="none" stroke="#2EEE2E" stroke-width="2.5"/>
<circle cx="1859.1" cy="1882.2" r="4.5" fill="none" stroke="#2EEE2E" stroke-width="2.5"/>
<circle cx="1839.3" cy="1883.7" r="6.4" fill="none" stroke="#2EEE2E" stroke-width="2.5"/>
<circle cx="1842.6" cy="1879.1" r="6.4" fill="none" stroke="#2EEE2E" stroke-width="2.5"/>
<circle cx="1861.0" cy="1872.9" r="4.9" fill="none" stroke="#2EEE2E" stroke-width="2.5"/>
<circle cx="1848.2" cy="1863.8" r="6.4" fill="none" stroke="#2EEE2E" stroke-width="2.5"/>
<circle cx="1849.3" cy="1862.0" r="4.8" fill="none" stroke="#2EEE2E" stroke-width="2.5"/>
<circle cx="1863.0" cy="1868.2" r="4.5" fill="none" stroke="#2EEE2E" stroke-width="2.5"/>
<circle cx="1862.2" cy="1854.6" r="3.9" fill="none" stroke="#2EEE2E" stroke-width="2.5"/>
<circle cx="1862.5" cy="1852.5" r="6.8" fill="none" stroke="#2EEE2E" stroke-width="2.5"/>
<circle cx="1868.5" cy="1859.5" r="4.8" fill="none" stroke="#2EEE2E" stroke-width="2.5"/>
<circle cx="1877.2" cy="1850.6" r="7.0" fill="none" stroke="#2EEE2E" stroke-width="2.5"/>
<circle cx="1881.6" cy="1848.9" r="4.4" fill="none" stroke="#2EEE2E" stroke-width="2.5"/>
<circle cx="1878.9" cy="1866.8" r="7.0" fill="none" stroke="#2EEE2E" stroke-width="2.5"/>
<circle cx="1897.9" cy="1860.1" r="6.3" fill="none" stroke="#2EEE2E" stroke-width="2.5"/>
<circle cx="1899.0" cy="1864.0" r="5.2" fill="none" stroke="#2EEE2E" stroke-width="2.5"/>
<circle cx="1896.2" cy="1872.9" r="6.4" fill="none" stroke="#2EEE2E" stroke-width="2.5"/>
<circle cx="1922.4" cy="1990.4" r="5.9" fill="none" stroke="#2EEE2E" stroke-width="2.5"/>
<circle cx="1929.0" cy="1994.9" r="5.8" fill="none" stroke="#2EEE2E" stroke-width="2.5"/>
<circle cx="1930.7" cy="2000.9" r="4.2" fill="none" stroke="#2EEE2E" stroke-width="2.5"/>
<circle cx="1912.0" cy="1999.5" r="6.7" fill="none" stroke="#2EEE2E" stroke-width="2.5"/>
<circle cx="1913.5" cy="2010.8" r="5.4" fill="none" stroke="#2EEE2E" stroke-width="2.5"/>
<circle cx="1901.8" cy="2016.4" r="4.5" fill="none" stroke="#2EEE2E" stroke-width="2.5"/>
<circle cx="1896.5" cy="2003.3" r="3.9" fill="none" stroke="#2EEE2E" stroke-width="2.5"/>
<circle cx="1885.4" cy="2011.9" r="5.0" fill="none" stroke="#2EEE2E" stroke-width="2.5"/>
<circle cx="1885.5" cy="2006.2" r="4.4" fill="none" stroke="#2EEE2E" stroke-width="2.5"/>
<circle cx="1888.0" cy="1993.5" r="6.8" fill="none" stroke="#2EEE2E" stroke-width="2.5"/>
<circle cx="1878.3" cy="1991.3" r="4.1" fill="none" stroke="#2EEE2E" stroke-width="2.5"/>
<circle cx="1873.6" cy="1980.4" r="4.6" fill="none" stroke="#2EEE2E" stroke-width="2.5"/>
<circle cx="1893.2" cy="1982.6" r="6.6" fill="none" stroke="#2EEE2E" stroke-width="2.5"/>
<circle cx="1891.6" cy="1967.5" r="5.9" fill="none" stroke="#2EEE2E" stroke-width="2.5"/>
<circle cx="1893.5" cy="1964.1" r="4.0" fill="none" stroke="#2EEE2E" stroke-width="2.5"/>
<circle cx="1901.8" cy="1978.1" r="6.0" fill="none" stroke="#2EEE2E" stroke-width="2.5"/>
<circle cx="1915.6" cy="1970.5" r="6.9" fill="none" stroke="#2EEE2E" stroke-width="2.5"/>
<circle cx="1926.0" cy="1971.0" r="4.6" fill="none" stroke="#2EEE2E" stroke-width="2.5"/>
<circle cx="1919.3" cy="1978.8" r="6.9" fill="none" stroke="#2EEE2E" stroke-width="2.5"/>
<circle cx="1933.7" cy="1985.1" r="6.2" fill="none" stroke="#2EEE2E" stroke-width="2.5"/>
<circle cx="1590.9" cy="2063.3" r="5.0" fill="none" stroke="#2EEE2E" stroke-width="2.5"/>
<circle cx="1597.4" cy="2073.5" r="4.9" fill="none" stroke="#2EEE2E" stroke-width="2.5"/>
<circle cx="1587.9" cy="2082.3" r="5.4" fill="none" stroke="#2EEE2E" stroke-width="2.5"/>
<circle cx="1579.3" cy="2076.7" r="6.0" fill="none" stroke="#2EEE2E" stroke-width="2.5"/>
<circle cx="1575.1" cy="2088.0" r="3.9" fill="none" stroke="#2EEE2E" stroke-width="2.5"/>
<circle cx="1565.2" cy="2083.1" r="6.2" fill="none" stroke="#2EEE2E" stroke-width="2.5"/>
<circle cx="1565.8" cy="2073.5" r="4.5" fill="none" stroke="#2EEE2E" stroke-width="2.5"/>
<circle cx="1551.0" cy="2071.3" r="6.7" fill="none" stroke="#2EEE2E" stroke-width="2.5"/>
<circle cx="1549.6" cy="2063.5" r="4.0" fill="none" stroke="#2EEE2E" stroke-width="2.5"/>
<circle cx="1561.0" cy="2060.1" r="4.4" fill="none" stroke="#2EEE2E" stroke-width="2.5"/>
<circle cx="1557.7" cy="2048.6" r="5.1" fill="none" stroke="#2EEE2E" stroke-width="2.5"/>
<circle cx="1563.6" cy="2048.2" r="5.7" fill="none" stroke="#2EEE2E" stroke-width="2.5"/>
<circle cx="1573.4" cy="2059.7" r="4.3" fill="none" stroke="#2EEE2E" stroke-width="2.5"/>
<circle cx="1580.7" cy="2045.4" r="4.8" fill="none" stroke="#2EEE2E" stroke-width="2.5"/>
<circle cx="1590.7" cy="2046.3" r="5.9" fill="none" stroke="#2EEE2E" stroke-width="2.5"/>
<circle cx="1591.5" cy="2061.2" r="6.8" fill="none" stroke="#2EEE2E" stroke-width="2.5"/>
<circle cx="1738.8" cy="2177.8" r="4.6" fill="none" stroke="#2EEE2E" stroke-width="2.5"/>
<circle cx="1740.4" cy="2190.2" r="5.8" fill="none" stroke="#2EEE2E" stroke-width="2.5"/>
<circle cx="1740.9" cy="2197.2" r="6.9" fill="none" stroke="#2EEE2E" stroke-width="2.5"/>
<circle cx="1724.3" cy="2186.0" r="4.2" fill="none" stroke="#2EEE2E" stroke-width="2.5"/>
<circle cx="1729.7" cy="2203.7" r="4.9" fill="none" stroke="#2EEE2E" stroke-width="2.5"/>
<circle cx="1710.9" cy="2200.1" r="5.1" fill="none" stroke="#2EEE2E" stroke-width="2.5"/>
<circle cx="1713.7" cy="2191.5" r="4.4" fill="none" stroke="#2EEE2E" stroke-width="2.5"/>
<circle cx="1698.3" cy="2192.2" r="5.6" fill="none" stroke="#2EEE2E" stroke-width="2.5"/>
<circle cx="1690.5" cy="2187.1" r="4.9" fill="none" stroke="#2EEE2E" stroke-width="2.5"/>
<circle cx="1696.6" cy="2176.4" r="4.4" fill="none" stroke="#2EEE2E" stroke-width="2.5"/>
<circle cx="1689.9" cy="2174.6" r="4.4" fill="none" stroke="#2EEE2E" stroke-width="2.5"/>
<circle cx="1695.3" cy="2167.2" r="4.1" fill="none" stroke="#2EEE2E" stroke-width="2.5"/>
<circle cx="1704.7" cy="2164.2" r="6.1" fill="none" stroke="#2EEE2E" stroke-width="2.5"/>
<circle cx="1717.4" cy="2155.8" r="6.7" fill="none" stroke="#2EEE2E" stroke-width="2.5"/>
<circle cx="1726.5" cy="2152.9" r="6.8" fill="none" stroke="#2EEE2E" stroke-width="2.5"/>
<circle cx="1726.8" cy="2160.5" r="4.3" fill="none" stroke="#2EEE2E" stroke-width="2.5"/>
<circle cx="1745.4" cy="2162.2" r="6.6" fill="none" stroke="#2EEE2E" stroke-width="2.5"/>
<circle cx="1749.8" cy="2169.3" r="6.2" fill="none" stroke="#2EEE2E" stroke-width="2.5"/>
<circle cx="1743.0" cy="2109.5" r="6.9" fill="none" stroke="#2EEE2E" stroke-width="2.5"/>
<circle cx="1748.6" cy="2122.5" r="6.1" fill="none" stroke="#2EEE2E" stroke-width="2.5"/>
<circle cx="1738.3" cy="2132.1" r="6.7" fill="none" stroke="#2EEE2E" stroke-width="2.5"/>
<circle cx="1728.9" cy="2126.1" r="6.1" fill="none" stroke="#2EEE2E" stroke-width="2.5"/>
<circle cx="1723.0" cy="2133.6" r="5.0" fill="none" stroke="#2EEE2E" stroke-width="2.5"/>
<circle cx="1705.8" cy="2128.9" r="4.7" fill="none" stroke="#2EEE2E" stroke-width="2.5"/>
<circle cx="1718.2" cy="2114.0" r="6.9" fill="none" stroke="#2EEE2E" stroke-width="2.5"/>
<circle cx="1700.0" cy="2112.1" r="4.2" fill="none" stroke="#2EEE2E" stroke-width="2.5"/>
<circle cx="1700.9" cy="2103.8" r="5.4" fill="none" stroke="#2EEE2E" stroke-width="2.5"/>
<circle cx="1711.4" cy="2102.4" r="3.9" fill="none" stroke="#2EEE2E" stroke-width="2.5"/>
<circle cx="1718.8" cy="2089.8" r="4.3" fill="none" stroke="#2EEE2E" stroke-width="2.5"/>
<circle cx="1730.3" cy="2092.1" r="6.5" fill="none" stroke="#2EEE2E" stroke-width="2.5"/>
<circle cx="1736.9" cy="2102.3" r="4.5" fill="none" stroke="#2EEE2E" stroke-width="2.5"/>
<circle cx="1745.0" cy="2101.1" r="5.9" fill="none" stroke="#2EEE2E" stroke-width="2.5"/>
<circle cx="1854.1" cy="1924.3" r="6.3" fill="none" stroke="#2EEE2E" stroke-width="2.5"/>
<circle cx="1858.0" cy="1937.1" r="5.2" fill="none" stroke="#2EEE2E" stroke-width="2.5"/>
<circle cx="1845.7" cy="1943.0" r="5.3" fill="none" stroke="#2EEE2E" stroke-width="2.5"/>
<circle cx="1839.7" cy="1931.5" r="5.7" fill="none" stroke="#2EEE2E" stroke-width="2.5"/>
<circle cx="1821.9" cy="1932.4" r="5.2" fill="none" stroke="#2EEE2E" stroke-width="2.5"/>
<circle cx="1815.8" cy="1918.5" r="6.0" fill="none" stroke="#2EEE2E" stroke-width="2.5"/>
<circle cx="1832.9" cy="1918.2" r="6.6" fill="none" stroke="#2EEE2E" stroke-width="2.5"/>
<circle cx="1833.1" cy="1898.3" r="5.0" fill="none" stroke="#2EEE2E" stroke-width="2.5"/>
<circle cx="1846.9" cy="1902.1" r="6.6" fill="none" stroke="#2EEE2E" stroke-width="2.5"/>
<circle cx="1850.9" cy="1914.3" r="6.6" fill="none" stroke="#2EEE2E" stroke-width="2.5"/>
<circle cx="1902.0" cy="1945.4" r="5.1" fill="none" stroke="#2EEE2E" stroke-width="2.5"/>
<circle cx="1906.5" cy="1959.1" r="4.5" fill="none" stroke="#2EEE2E" stroke-width="2.5"/>
<circle cx="1893.0" cy="1965.2" r="5.6" fill="none" stroke="#2EEE2E" stroke-width="2.5"/>
<circle cx="1887.3" cy="1954.9" r="6.8" fill="none" stroke="#2EEE2E" stroke-width="2.5"/>
<circle cx="1873.9" cy="1956.2" r="5.6" fill="none" stroke="#2EEE2E" stroke-width="2.5"/>
<circle cx="1866.5" cy="1938.0" r="6.1" fill="none" stroke="#2EEE2E" stroke-width="2.5"/>
<circle cx="1883.0" cy="1935.3" r="6.9" fill="none" stroke="#2EEE2E" stroke-width="2.5"/>
<circle cx="1882.2" cy="1920.9" r="5.2" fill="none" stroke="#2EEE2E" stroke-width="2.5"/>
<circle cx="1896.7" cy="1919.4" r="6.5" fill="none" stroke="#2EEE2E" stroke-width="2.5"/>
<circle cx="1901.4" cy="1935.0" r="4.1" fill="none" stroke="#2EEE2E" stroke-width="2.5"/>
<circle cx="1899.6" cy="2067.6" r="5.9" fill="none" stroke="#2EEE2E" stroke-width="2.5"/>
<circle cx="1908.6" cy="2079.7" r="5.6" fill="none" stroke="#2EEE2E" stroke-width="2.5"/>
<circle cx="1887.6" cy="2087.5" r="6.4" fill="none" stroke="#2EEE2E" stroke-width="2.5"/>
<circle cx="1874.3" cy="2082.1" r="6.2" fill="none" stroke="#2EEE2E" stroke-width="2.5"/>
<circle cx="1863.4" cy="2076.9" r="5.4" fill="none" stroke="#2EEE2E" stroke-width="2.5"/>
<circle cx="1856.1" cy="2060.5" r="5.0" fill="none" stroke="#2EEE2E" stroke-width="2.5"/>
<circle cx="1876.0" cy="2058.6" r="6.5" fill="none" stroke="#2EEE2E" stroke-width="2.5"/>
<circle cx="1878.7" cy="2042.3" r="4.3" fill="none" stroke="#2EEE2E" stroke-width="2.5"/>
<circle cx="1886.2" cy="2042.7" r="6.1" fill="none" stroke="#2EEE2E" stroke-width="2.5"/>
<circle cx="1888.7" cy="2061.7" r="5.8" fill="none" stroke="#2EEE2E" stroke-width="2.5"/>
</g>
<text transform="translate(634.95,1768.60) scale(0.8159,1)" font-size="57.30" fill="#fff">0:00</text>
<text transform="translate(1279.36,1768.60) scale(0.8103,1)" font-size="57.30" fill="#fff">0:15</text>
<text transform="translate(1923.46,1768.60) scale(0.8103,1)" font-size="57.30" fill="#fff">0:25</text>
<text transform="translate(633.82,2234.40) scale(0.8259,1)" font-size="57.30" fill="#fff">1:00</text>
<text transform="translate(1278.24,2234.40) scale(0.8202,1)" font-size="57.30" fill="#fff">1:25</text>
<text transform="translate(1923.68,2234.40) scale(0.8138,1)" font-size="57.30" fill="#fff">2:00</text>
<rect x="1424.80" y="1823.00" width="181.40" height="7.80" fill="#fff"/>
<text transform="translate(1463.11,1877.00) scale(0.7993,1)" font-size="48.50" fill="#fff">50 µm</text>
<polygon points="343.75,1587.10 376.95,1569.10 383.20,1619.10" fill="#F98F12"/>
<polygon points="1292.10,1482.80 1324.20,1501.50 1284.10,1532.30" fill="#F98F12"/>
<polygon points="1128.70,1600.40 1175.60,1581.90 1176.20,1620.00" fill="#F98F12"/>
<polygon points="1926.00,1540.40 1975.10,1534.60 1966.20,1570.40" fill="#F98F12"/>
<rect x="119.40" y="2270.90" width="1913.80" height="81.60" fill="#535353"/>
<text transform="translate(278.00,2331.73) scale(0.7975,1)" font-size="58.19" fill="#14FF00">MDA-MB468</text>
<text transform="translate(830.28,2332.51) scale(0.7782,1)" font-size="60.17" fill="#00F5FF">CD56</text>
<text transform="translate(1210.41,2332.43) scale(0.7689,1)" font-size="60.04" fill="#FFE600">CD3</text>
<text transform="translate(1557.19,2331.45) scale(0.8216,1)" font-size="56.64" fill="#FF3CFF">NKAB-EGFR</text>
</svg>
</body></html>
